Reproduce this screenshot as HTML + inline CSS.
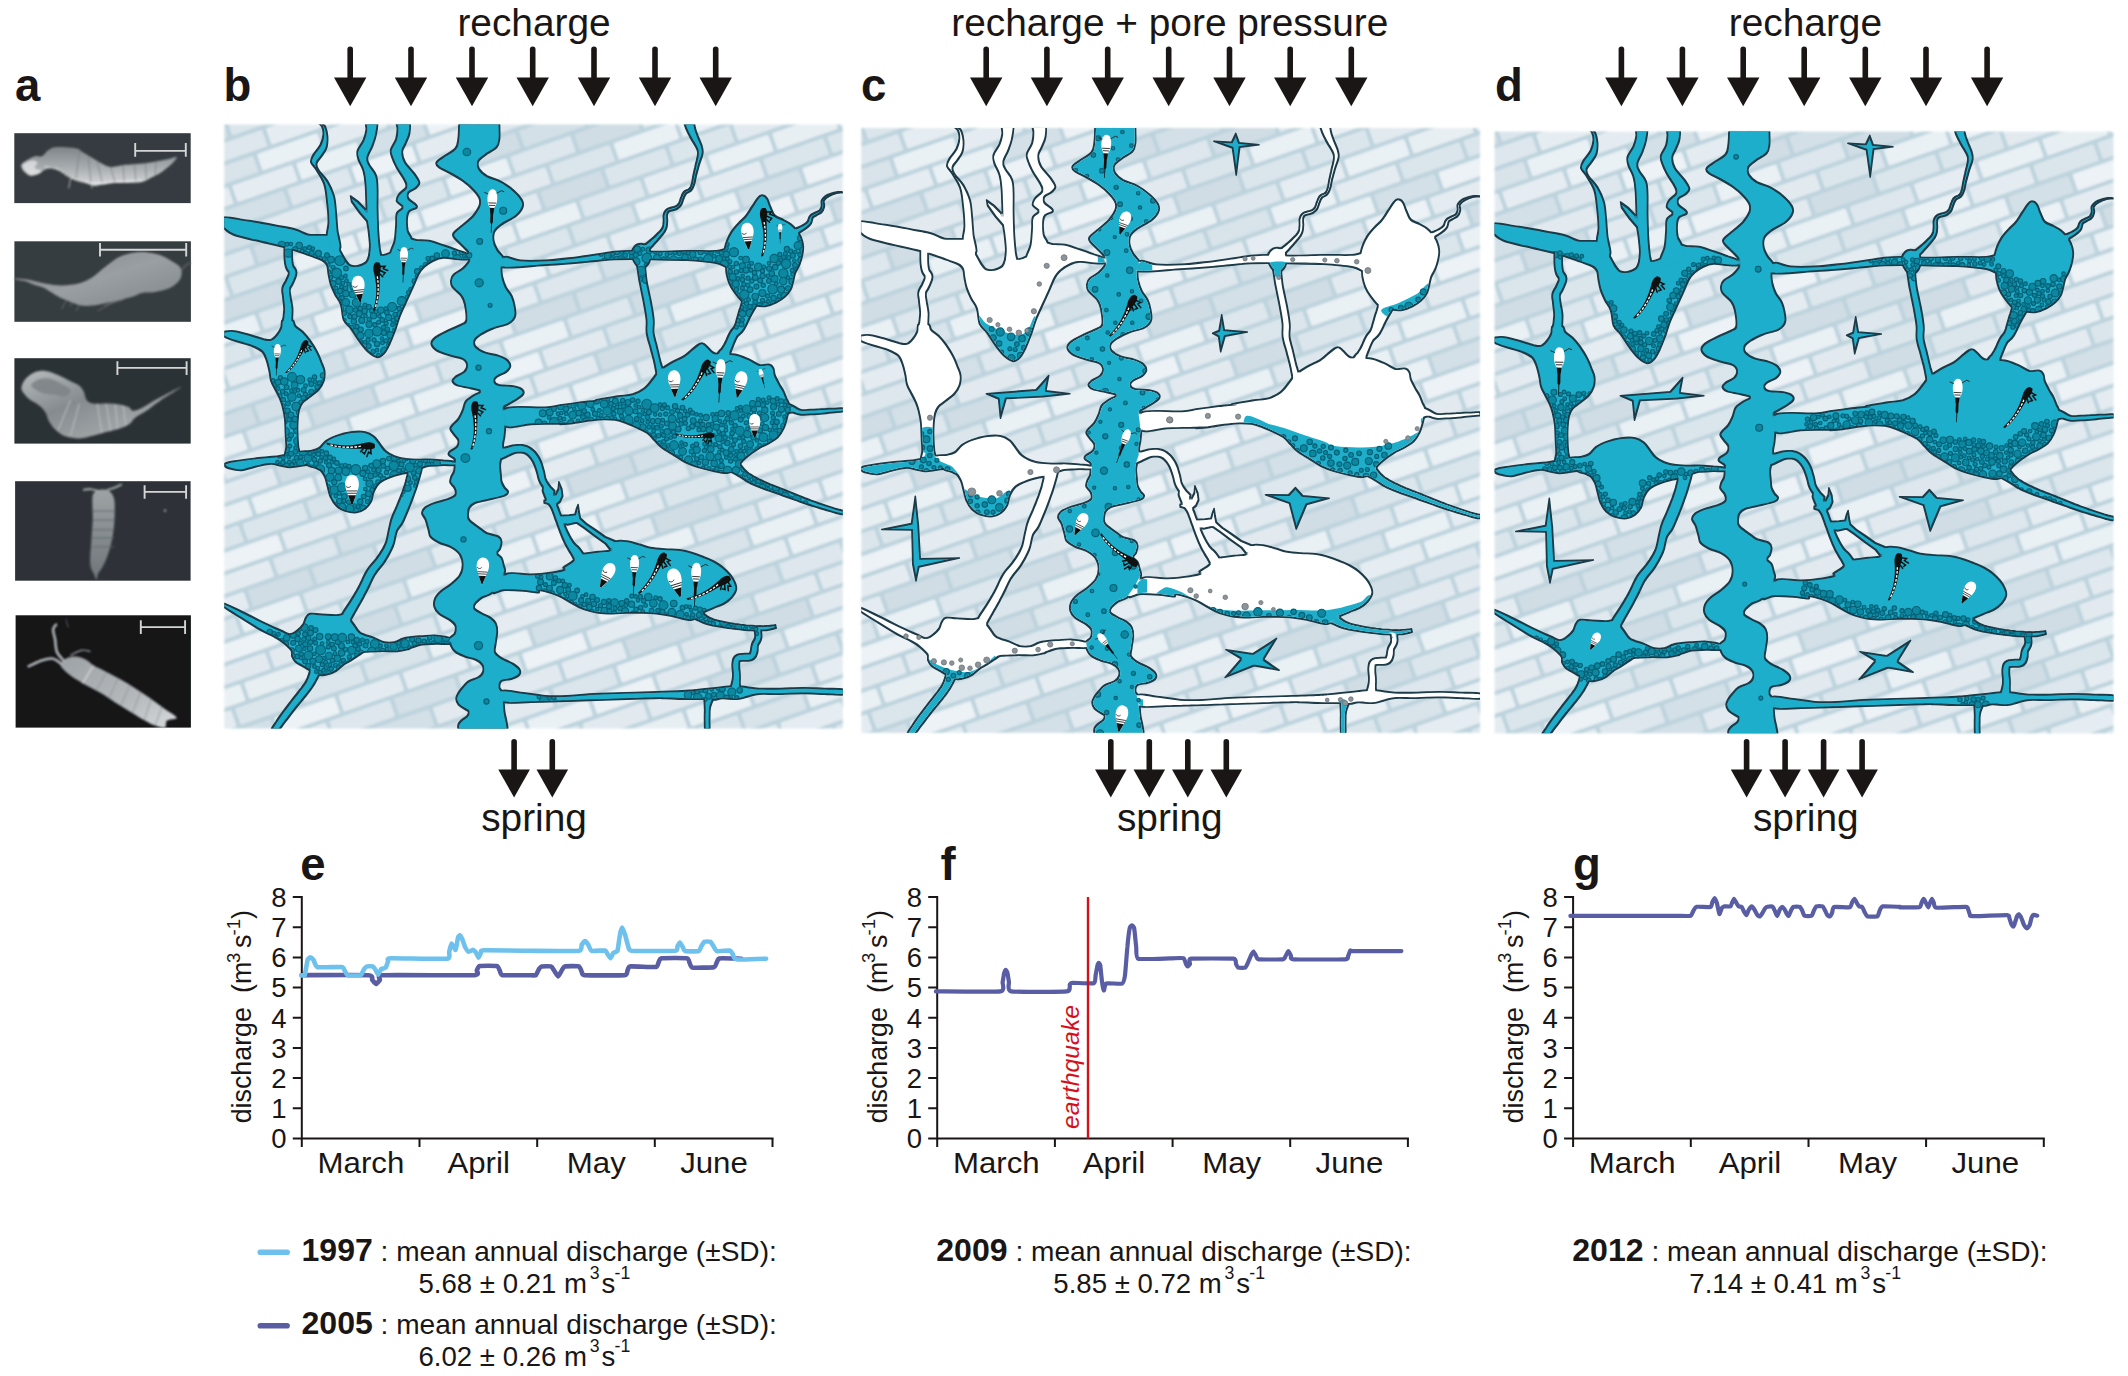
<!DOCTYPE html>
<html><head><meta charset="utf-8"><title>Figure</title>
<style>
html,body{margin:0;padding:0;background:#fff;}
body{width:2128px;height:1376px;overflow:hidden;font-family:"Liberation Sans",sans-serif;}
svg{display:block;font-family:"Liberation Sans",sans-serif;}
</style></head><body>
<svg width="2128" height="1376" viewBox="0 0 2128 1376">
<defs><filter id="sblur" x="-5%" y="-5%" width="110%" height="110%"><feGaussianBlur stdDeviation="0.9"/></filter><filter id="sblur2" x="-5%" y="-5%" width="110%" height="110%"><feGaussianBlur stdDeviation="0.5"/></filter><linearGradient id="sg1" x1="0" y1="0" x2="0" y2="1"><stop offset="0" stop-color="#7f8589"/><stop offset="0.55" stop-color="#a9aeb1"/><stop offset="1" stop-color="#d9dbdc"/></linearGradient><linearGradient id="sg2" x1="0" y1="0" x2="1" y2="1"><stop offset="0" stop-color="#7d8388"/><stop offset="0.5" stop-color="#9a9fa3"/><stop offset="1" stop-color="#80868a"/></linearGradient><linearGradient id="sg3" x1="0" y1="0" x2="1" y2="1"><stop offset="0" stop-color="#b8bcbe"/><stop offset="0.4" stop-color="#858b8f"/><stop offset="1" stop-color="#b5b9bb"/></linearGradient><linearGradient id="sg4" x1="0" y1="0" x2="0" y2="1"><stop offset="0" stop-color="#9ea3a6"/><stop offset="1" stop-color="#6f757a"/></linearGradient><linearGradient id="sg5" x1="0" y1="0" x2="1" y2="1"><stop offset="0" stop-color="#9da2a6"/><stop offset="0.6" stop-color="#b4b8bb"/><stop offset="1" stop-color="#d9dbdc"/></linearGradient></defs>
<g filter="url(#sblur2)">
<rect x="14.3" y="133.2" width="176.4" height="69.9" fill="#353b3f"/>
<g filter="url(#sblur)">
<path d="M21.4 164.3C22.3 162.6 25.4 161.2 27.6 159.8C29.9 158.5 32.4 156.8 34.8 156.2C37.2 155.7 39.8 157.1 41.9 156.2C44 155.4 45.2 152.4 47.3 150.9C49.4 149.4 51.3 147.9 54.4 147.3C57.6 146.7 62.2 147.1 66 147.3C69.9 147.5 75 147.9 77.6 148.7C80.3 149.4 80.3 150.7 82.1 151.8C83.9 152.9 86.1 154 88.4 155.4C90.6 156.7 93.3 158.5 95.5 159.8C97.7 161.2 99.2 162.2 101.8 163.4C104.3 164.6 107.3 166.7 110.7 167C114.1 167.3 118.6 165.6 122.3 165.2C126 164.7 129 164.7 133 164.3C137 163.9 141.9 163.5 146.4 162.9C150.9 162.4 156.1 161.4 159.8 160.7C163.5 160 165.9 159.5 168.7 158.9C171.5 158.3 176 156.5 176.8 157.1C177.5 157.7 174.8 160.7 173.2 162.5C171.5 164.3 169.2 166.1 166.9 167.9C164.7 169.6 162.5 171.6 159.8 173.2C157.1 174.9 153.8 176.2 150.9 177.7C147.9 179.2 145.6 181.2 141.9 182.1C138.2 183 133 182.9 128.5 183C124.1 183.2 119.6 182.7 115.1 183C110.7 183.3 105.5 184.4 101.8 184.8C98 185.3 95.8 186.2 92.8 185.7C89.8 185.3 86.9 183.2 83.9 182.1C80.9 181.1 77.5 180.5 75 179.5C72.4 178.4 70.9 177.2 68.7 175.9C66.5 174.6 64.2 172.8 61.6 171.4C58.9 170.1 55.3 168.2 52.6 167.9C50 167.6 47.7 168.8 45.5 169.6C43.3 170.5 41.6 172.2 39.2 173.2C36.9 174.3 33.4 175.9 31.2 175.9C29 175.9 27.3 174.3 25.9 173.2C24.4 172.2 23 171.1 22.3 169.6C21.5 168.2 20.5 165.9 21.4 164.3Z" fill="url(#sg1)"/>
<path d="M22.3 165.2C22.9 163.1 28.7 161.2 31.2 160.7C33.7 160.3 36.9 161.3 37.5 162.5C38.1 163.7 34 166.4 34.8 167.9C35.5 169.3 41.9 170.2 41.9 171.4C41.9 172.6 37.2 174.7 34.8 175C32.4 175.3 29.7 174.9 27.6 173.2C25.6 171.6 21.7 167.3 22.3 165.2Z" fill="#e6e7e8" opacity="0.75"/>
<path d="M79.4 150.9L75.9 178.6M88.4 156.2L91 183.9M97.3 161.6L102.6 183.9M110.7 167L115.1 183M123.2 165.2L124.1 183M134.8 164.3L135.7 182.1M145.5 162.9L146.4 179.5M156.2 161.2L155.3 175" stroke="#767c80" stroke-width="0.8" fill="none"/>
<path d="M45.5 167C47.6 167.4 53.8 167.9 58 169.6C62.2 171.4 66.2 175.6 70.5 177.7C74.8 179.8 79.4 181.2 83.9 182.1C88.4 183 92.1 183 97.3 183C102.5 183 109.2 182.5 115.1 182.1C121.1 181.8 128.5 181.1 133 180.8C137.5 180.5 140.4 180.4 141.9 180.4" stroke="#f2f2f2" stroke-width="1.6" fill="none" stroke-dasharray="2 1.5"/>
<path d="M70.5 178.6L68.7 188.4M91.9 185.7L91.9 188.4" stroke="#cfd1d2" stroke-width="0.8" fill="none"/>
</g>
<path d="M134.3 150.9H186.7M135.2 142.9V156.8M185.8 142.9V156.8" stroke="#d4d6d6" stroke-width="1.9" fill="none"/>
<rect x="14.4" y="241.3" width="176.5" height="80.5" fill="#363c40"/>
<g filter="url(#sblur)">
<path d="M14.7 278.6C16.9 278.6 22.8 278.9 27.6 279.6C32.5 280.4 38.1 282.2 43.7 283.2C49.4 284.2 55.6 285.4 61.6 285.4C67.5 285.4 74.2 284.6 79.4 283.2C84.6 281.8 89.1 279.2 92.8 277C96.5 274.7 98.8 272.2 101.8 269.8C104.7 267.4 107.7 264.8 110.7 262.7C113.7 260.5 115.9 258.5 119.6 256.9C123.3 255.2 128.5 253.6 133 252.9C137.5 252.1 141.9 252 146.4 252.4C150.9 252.8 155.6 253.7 159.8 255.1C164 256.5 168.1 259 171.4 260.9C174.7 262.8 177.7 264.3 179.4 266.2C181.1 268.2 181.5 270.4 181.7 272.5C181.8 274.6 181.3 276.8 180.3 278.8C179.4 280.7 177.8 282.5 175.9 284.1C173.9 285.7 172.1 287.2 168.7 288.6C165.3 289.9 159.8 291.4 155.3 292.1C150.9 292.9 145.6 292.3 141.9 293C138.2 293.8 136.7 295.4 133 296.6C129.3 297.8 124.1 299.1 119.6 300.2C115.1 301.2 110.7 302 106.2 302.9C101.8 303.8 97 305.1 92.8 305.5C88.7 306 84.9 306.1 81.2 305.5C77.5 304.9 74.1 303.3 70.5 302C66.9 300.6 63.1 299.1 59.8 297.5C56.5 295.9 53.5 293.8 50.9 292.1C48.2 290.5 46.4 288.9 43.7 287.7C41 286.5 37.8 286 34.8 285C31.8 284 29.2 282.4 25.9 281.4C22.5 280.5 16.6 279.7 14.7 279.2C12.8 278.7 12.5 278.5 14.7 278.6Z" fill="url(#sg2)"/>
<path d="M92.8 277.9C94.3 276.7 98.8 273.1 101.8 270.7C104.7 268.3 107.7 265.7 110.7 263.6C113.7 261.4 115.9 259.4 119.6 257.8C123.3 256.1 128.5 254.3 133 253.6C137.5 252.8 141.9 252.8 146.4 253.1C150.9 253.5 157.6 255.3 159.8 255.7" stroke="#a9adb0" stroke-width="1" fill="none"/>
<path d="M66 301.1L61.6 309.1M72.3 302.9L69.6 306.4M79.4 305.5L75.9 310.9M115.1 301.1L97.3 310.9M124.1 299.3L104.4 305.5" stroke="#6f757a" stroke-width="0.9" fill="none"/>
<path d="M181.7 270.7C182.3 269.8 184.2 266.7 185.7 265.4C187.2 264 189.8 263.1 190.6 262.7" stroke="#5a6065" stroke-width="1.5" fill="none"/>
</g>
<path d="M99.1 249.7H187.1M100 243V256.5M186.2 243V256.5" stroke="#d4d6d6" stroke-width="1.9" fill="none"/>
<rect x="14.4" y="358.2" width="176.3" height="85.4" fill="#2c3236"/>
<g filter="url(#sblur)">
<path d="M21.4 387.5C21.7 385 23.6 381.1 25.9 378.6C28.1 376 31.5 373.6 34.8 372.3C38.1 371.1 41.6 370.5 45.5 371C49.4 371.4 53.8 373.3 58 375C62.2 376.7 66.9 379.5 70.5 381.2C74.1 383 77.2 383.9 79.4 385.7C81.7 387.5 82.7 389.6 83.9 392C85.1 394.3 85.1 398.1 86.6 400C88.1 401.9 89.5 403 92.8 403.6C96.1 404.2 101.8 403.4 106.2 403.6C110.7 403.7 115.9 403.9 119.6 404.5C123.3 405.1 126.3 406.1 128.5 407.1C130.8 408.2 130.8 410.6 133 410.7C135.2 410.9 138.2 409.8 141.9 408C145.6 406.2 150.9 402.5 155.3 400C159.8 397.5 164.2 395.1 168.7 392.9C173.2 390.6 183.6 385.3 182.1 386.6C180.6 387.9 165.7 396.9 159.8 400.9C153.8 404.9 150.6 407.9 146.4 410.7C142.2 413.5 137.6 415.6 134.8 417.9C132 420.1 132 422.3 129.4 424.1C126.9 425.9 123.5 427.2 119.6 428.6C115.7 429.9 110.7 431 106.2 432.1C101.8 433.3 97.3 434.7 92.8 435.7C88.4 436.8 83.9 438.2 79.4 438.4C75 438.5 69.9 437.9 66 436.6C62.2 435.3 59 432.9 56.2 430.4C53.4 427.8 50.9 424.4 49.1 421.4C47.3 418.5 47.1 415.2 45.5 412.5C43.9 409.8 41.8 407.4 39.2 405.4C36.7 403.3 32.9 401.9 30.3 400C27.8 398.1 25.6 395.8 24.1 393.8C22.6 391.7 21.1 390 21.4 387.5Z" fill="url(#sg3)"/>
<path d="M31.2 385.7C30.6 383.5 35.4 380.7 38.4 379.5C41.3 378.3 45.2 377.8 49.1 378.6C52.9 379.3 58 382 61.6 383.9C65.1 385.9 69.9 388.1 70.5 390.2C71.1 392.3 67.8 395.7 65.1 396.4C62.5 397.2 58.3 395.2 54.4 394.6C50.6 394 45.8 394.3 41.9 392.9C38.1 391.4 31.8 387.9 31.2 385.7Z" fill="#7e8488" opacity="0.9"/>
<path d="M97.3 403.6L101.8 433M106.2 403.6L110.7 431.2M115.1 404L117.8 429M123.2 405.4L125.9 425.9M70.5 400L58 430.4M79.4 403.6L70.5 435.7" stroke="#c6c9cb" stroke-width="0.8" fill="none"/>
</g>
<path d="M116.5 367.9H187.5M117.4 361.2V375M186.6 361.2V375" stroke="#d4d6d6" stroke-width="1.9" fill="none"/>
<rect x="15.1" y="481.2" width="175.5" height="99.5" fill="#2d3337"/>
<g filter="url(#sblur)">
<path d="M92.8 495C93.6 492.5 95.4 491.4 97.3 490.5C99.2 489.6 102.2 489.3 104.4 489.6C106.7 489.9 109 490.7 110.7 492.3C112.3 494 113.6 496.5 114.2 499.5C114.9 502.4 114.7 506.2 114.7 510.2C114.7 514.2 114.6 519.1 114.2 523.6C113.9 528 113.2 532.8 112.5 537C111.7 541.1 110.8 544.9 109.8 548.6C108.7 552.3 107.6 556 106.2 559.3C104.9 562.6 103.1 565.8 101.8 568.2C100.4 570.6 99.1 571.6 98.2 573.6C97.3 575.5 97.1 579.8 96.4 579.8C95.6 579.8 94.6 575.5 93.7 573.6C92.8 571.6 91.6 570.6 91 568.2C90.4 565.8 90.1 563 90.1 559.3C90.1 555.6 90.7 550.4 91 545.9C91.3 541.4 91.6 537 91.9 532.5C92.2 528 92.7 523.6 92.8 519.1C92.9 514.6 92.4 509.7 92.4 505.7C92.4 501.7 92 497.5 92.8 495Z" fill="url(#sg4)"/>
<path d="M98.2 491C97 490.7 93.6 489.4 91 489.2C88.5 489 84.3 489.7 83 489.8M107.1 490.1C108.4 489.6 112.7 488.4 115.1 487.4C117.6 486.4 120.7 484.8 121.8 484.3" stroke="#b9bdbf" stroke-width="1.6" fill="none"/>
<path d="M92.4 511.1L114.2 511.1M92.4 520L114.2 520M92.4 529.8L114.2 529.8M92.4 537.9L114.2 537.9M92.4 546.8L114.2 546.8" stroke="#5b6166" stroke-width="0.9" fill="none"/>
<circle cx="165.1" cy="510.6" r="1.1" fill="#c0c3c5"/>
</g>
<path d="M143.7 491.9H187M144.6 485.2V498.7M186.1 485.2V498.7" stroke="#d4d6d6" stroke-width="1.9" fill="none"/>
<rect x="15.6" y="615.3" width="175.3" height="112.3" fill="#131416"/>
<g filter="url(#sblur)">
<path d="M61 663.9C61.8 662.2 64.2 659.2 66.9 658C69.5 656.7 73.4 656.2 76.7 656.5C79.9 656.8 83.5 658.4 86.5 659.9C89.4 661.5 91 663.9 94.3 665.8C97.6 667.8 101.7 669.4 106.1 671.7C110.5 674 115.9 676.8 120.8 679.5C125.7 682.3 130.6 685.3 135.5 688.4C140.4 691.5 145.3 694.7 150.2 698.2C155.1 701.6 160.5 705.7 164.9 709C169.4 712.2 176.4 715.8 176.7 717.8C177 719.8 168.9 719.1 166.9 720.7C164.9 722.4 166.9 726.8 164.9 727.6C163 728.4 158.4 726.8 155.1 725.6C151.9 724.5 149.4 723 145.3 720.7C141.2 718.5 135.5 714.9 130.6 711.9C125.7 709 120.8 706.2 115.9 703.1C111 700 106.1 696.2 101.2 693.3C96.3 690.3 90.9 687.9 86.5 685.4C82.1 683 78 680.7 74.7 678.6C71.4 676.4 69 674.5 66.9 672.7C64.7 670.9 62.9 669.2 61.9 667.8C61 666.3 60.1 665.5 61 663.9Z" fill="url(#sg5)"/>
<path d="M63.9 660.9C62.8 659.4 58.5 655.7 57 652.1C55.6 648.5 55.7 643.1 55.1 639.3C54.4 635.6 53 632 53.1 629.5C53.3 627.1 55.6 625.4 56.1 624.6M61.5 663.9C59.9 663 55.7 658.9 52.1 658.5C48.6 658 44.3 659.6 40.4 660.9C36.4 662.2 30.6 665.4 28.6 666.3" stroke="#b5b9bc" stroke-width="2.6" stroke-linecap="round" fill="none"/>
<path d="M70.8 655C72.6 654.2 78.4 650.9 81.6 650.3C84.8 649.7 88.5 651.1 89.9 651.3" stroke="#8e9397" stroke-width="1.4" stroke-linecap="round" fill="none"/>
<path d="M93.3 665.8L82.5 683.5M106.1 672.7L96.3 690.3M117.9 678.6L109 698.2M129.6 685.4L120.8 706M140.4 692.3L132.6 712.9M151.2 699.2L144.3 719.8M162 707L155.1 725.2" stroke="#868c90" stroke-width="0.8" fill="none"/>
<path d="M93.3 665.8C92.5 667.1 90.2 670.7 88.4 673.7C86.6 676.6 83.5 681.8 82.5 683.5" stroke="#e2e4e5" stroke-width="1.1" fill="none"/>
<path d="M65.9 618.7C66 619.4 66.4 621.2 66.9 622.7C67.3 624.1 68.1 626.7 68.3 627.6" stroke="#6d7276" stroke-width="1" fill="none"/>
</g>
<path d="M139.9 627.1H186M140.8 620.2V633.9M185.1 620.2V633.9" stroke="#d4d6d6" stroke-width="1.9" fill="none"/>
</g>
<defs>
<pattern id="brick" width="340" height="172" patternUnits="userSpaceOnUse" patternTransform="translate(224 118) rotate(-19.3)">
<rect width="340" height="172" fill="#bdd3dd"/>
<rect x="-66" y="2" width="64" height="17.5" rx="1.5" fill="#d0dde5"/>
<rect x="2" y="2" width="64" height="17.5" rx="1.5" fill="#dbe6ec"/>
<rect x="70" y="2" width="64" height="17.5" rx="1.5" fill="#dbe6ec"/>
<rect x="138" y="2" width="64" height="17.5" rx="1.5" fill="#e2eaf0"/>
<rect x="206" y="2" width="64" height="17.5" rx="1.5" fill="#e2eaf0"/>
<rect x="274" y="2" width="64" height="17.5" rx="1.5" fill="#d0dde5"/>
<rect x="342" y="2" width="64" height="17.5" rx="1.5" fill="#dbe6ec"/>
<rect x="-32" y="23.5" width="64" height="17.5" rx="1.5" fill="#dde7ed"/>
<rect x="36" y="23.5" width="64" height="17.5" rx="1.5" fill="#e6edf2"/>
<rect x="104" y="23.5" width="64" height="17.5" rx="1.5" fill="#eaf1f5"/>
<rect x="172" y="23.5" width="64" height="17.5" rx="1.5" fill="#e8eff3"/>
<rect x="240" y="23.5" width="64" height="17.5" rx="1.5" fill="#eaf1f5"/>
<rect x="308" y="23.5" width="64" height="17.5" rx="1.5" fill="#dde7ed"/>
<rect x="376" y="23.5" width="64" height="17.5" rx="1.5" fill="#e6edf2"/>
<rect x="-49" y="45" width="64" height="17.5" rx="1.5" fill="#d8e3ea"/>
<rect x="19" y="45" width="64" height="17.5" rx="1.5" fill="#eaf1f5"/>
<rect x="87" y="45" width="64" height="17.5" rx="1.5" fill="#e4ecf1"/>
<rect x="155" y="45" width="64" height="17.5" rx="1.5" fill="#dbe6ec"/>
<rect x="223" y="45" width="64" height="17.5" rx="1.5" fill="#dbe6ec"/>
<rect x="291" y="45" width="64" height="17.5" rx="1.5" fill="#d8e3ea"/>
<rect x="359" y="45" width="64" height="17.5" rx="1.5" fill="#eaf1f5"/>
<rect x="-15" y="66.5" width="64" height="17.5" rx="1.5" fill="#e6edf2"/>
<rect x="53" y="66.5" width="64" height="17.5" rx="1.5" fill="#eaf1f5"/>
<rect x="121" y="66.5" width="64" height="17.5" rx="1.5" fill="#d3e0e7"/>
<rect x="189" y="66.5" width="64" height="17.5" rx="1.5" fill="#ecf2f6"/>
<rect x="257" y="66.5" width="64" height="17.5" rx="1.5" fill="#e4ecf1"/>
<rect x="325" y="66.5" width="64" height="17.5" rx="1.5" fill="#e6edf2"/>
<rect x="393" y="66.5" width="64" height="17.5" rx="1.5" fill="#eaf1f5"/>
<rect x="-32" y="88" width="64" height="17.5" rx="1.5" fill="#d3e0e7"/>
<rect x="36" y="88" width="64" height="17.5" rx="1.5" fill="#dde7ed"/>
<rect x="104" y="88" width="64" height="17.5" rx="1.5" fill="#ecf2f6"/>
<rect x="172" y="88" width="64" height="17.5" rx="1.5" fill="#e4ecf1"/>
<rect x="240" y="88" width="64" height="17.5" rx="1.5" fill="#dde7ed"/>
<rect x="308" y="88" width="64" height="17.5" rx="1.5" fill="#d3e0e7"/>
<rect x="376" y="88" width="64" height="17.5" rx="1.5" fill="#dde7ed"/>
<rect x="-66" y="109.5" width="64" height="17.5" rx="1.5" fill="#d3e0e7"/>
<rect x="2" y="109.5" width="64" height="17.5" rx="1.5" fill="#e2eaf0"/>
<rect x="70" y="109.5" width="64" height="17.5" rx="1.5" fill="#e2eaf0"/>
<rect x="138" y="109.5" width="64" height="17.5" rx="1.5" fill="#e4ecf1"/>
<rect x="206" y="109.5" width="64" height="17.5" rx="1.5" fill="#d0dde5"/>
<rect x="274" y="109.5" width="64" height="17.5" rx="1.5" fill="#d3e0e7"/>
<rect x="342" y="109.5" width="64" height="17.5" rx="1.5" fill="#e2eaf0"/>
<rect x="-15" y="131" width="64" height="17.5" rx="1.5" fill="#d0dde5"/>
<rect x="53" y="131" width="64" height="17.5" rx="1.5" fill="#e2eaf0"/>
<rect x="121" y="131" width="64" height="17.5" rx="1.5" fill="#dbe6ec"/>
<rect x="189" y="131" width="64" height="17.5" rx="1.5" fill="#eaf1f5"/>
<rect x="257" y="131" width="64" height="17.5" rx="1.5" fill="#dde7ed"/>
<rect x="325" y="131" width="64" height="17.5" rx="1.5" fill="#d0dde5"/>
<rect x="393" y="131" width="64" height="17.5" rx="1.5" fill="#e2eaf0"/>
<rect x="-49" y="152.5" width="64" height="17.5" rx="1.5" fill="#dbe6ec"/>
<rect x="19" y="152.5" width="64" height="17.5" rx="1.5" fill="#eaf1f5"/>
<rect x="87" y="152.5" width="64" height="17.5" rx="1.5" fill="#eaf1f5"/>
<rect x="155" y="152.5" width="64" height="17.5" rx="1.5" fill="#ecf2f6"/>
<rect x="223" y="152.5" width="64" height="17.5" rx="1.5" fill="#e2eaf0"/>
<rect x="291" y="152.5" width="64" height="17.5" rx="1.5" fill="#dbe6ec"/>
<rect x="359" y="152.5" width="64" height="17.5" rx="1.5" fill="#eaf1f5"/>
</pattern>
<filter id="soft" x="-2%" y="-2%" width="104%" height="104%"><feGaussianBlur stdDeviation="0.9"/></filter>
<filter id="ero" filterUnits="userSpaceOnUse" x="200" y="100" width="700" height="700"><feMorphology operator="erode" radius="1.25"/></filter>
<clipPath id="clipb"><rect x="224.3" y="124.5" width="618.5" height="604"/></clipPath>
<clipPath id="clipc"><rect x="225.3" y="124" width="618.7" height="604.8"/></clipPath>
<clipPath id="clipd"><rect x="224.6" y="125.6" width="618.9" height="601.7"/></clipPath>
<g id="cav"><path d="M223.2 217.1C227.7 216.8 239.9 219.2 249.1 220.6C258.2 222 270.4 224.2 278.1 225.7C285.9 227.1 290.5 227.8 295.6 229.3C300.7 230.8 304.5 233.5 308.7 234.4C312.8 235.3 316.2 234.5 320.3 234.8C324.4 235.1 330 233.6 333.4 236.3C336.8 238.9 337.7 246 340.6 250.8C343.5 255.7 346.7 263.4 350.8 265.3C354.9 267.3 362 264.9 365.3 262.4C368.7 260 368.7 252 371.2 250.8C373.6 249.6 376.2 255.2 379.9 255.2C383.5 255.2 388.1 253.5 393 250.8C397.8 248.1 404.9 241 409 239.2C413 237.4 414.1 239.7 417.4 239.9C420.8 240.2 424.7 239.8 429.1 240.6C433.4 241.5 438.8 243.4 443.6 245C448.4 246.6 454.1 248.6 458.1 250.1C462.2 251.5 466.1 252.6 468 253.7C470 254.8 469.7 255.7 469.8 256.6C469.8 257.6 470.3 259.1 468.3 259.5C466.4 260 462.3 259.8 458.1 259.5C454 259.3 447.7 257.8 443.6 258.1C439.5 258.3 436.6 259.5 433.4 261C430.3 262.4 427.1 264.6 424.7 266.8C422.3 269 420.8 270.7 418.9 274.1C417 277.5 415.3 282.3 413.1 287.2C410.9 292 408 298.3 405.8 303.1C403.6 308 401.7 312 400 316.2C398.3 320.5 397.5 324.2 395.9 328.7C394.2 333.2 392 339.1 390.1 343.3C388.1 347.4 386.4 351.1 384.2 353.4C382.1 355.8 379.6 357.5 377 357.4C374.3 357.2 371.2 354.9 368.3 352.3C365.3 349.7 362.4 345.7 359.5 341.8C356.6 337.9 353.5 332.4 350.8 328.7C348.1 325.1 345.2 324 343.5 320C341.9 316 342.1 308.9 340.6 304.6C339.2 300.3 336.5 297.8 334.8 294.4C333.1 291 331.6 287.6 330.5 284.2C329.4 280.9 328.9 277.2 328.3 274.1C327.7 270.9 327.9 267.7 326.8 265.3C325.7 263 324.5 261.8 321.7 260.3C319 258.7 314.5 257.5 310.1 255.9C305.8 254.3 299.9 252.3 295.6 250.8C291.2 249.4 288.6 248.4 284 247.2C279.4 246 273.8 244.9 268 243.5C262.2 242.2 254.9 240.6 249.1 239.2C243.3 237.7 237.3 236.6 233.1 234.8C228.8 233 225.5 230.3 223.6 228.3C221.8 226.2 222.1 224.3 222 222.5C222 220.6 218.7 217.4 223.2 217.1Z"/><path d="M317.7 122.6C317.7 122.1 320.5 122.5 321.7 123.2C323 123.9 324.4 124.4 325.4 126.5C326.3 128.7 327.3 132.5 327.6 136C327.8 139.5 327.8 144.2 326.8 147.6C325.9 151 323.4 153.7 321.7 156.3C320 159 317.1 161.3 316.7 163.6C316.2 165.9 317 167.2 318.8 170.1C320.7 173.1 325 176.8 327.6 181C330.1 185.3 332.6 190.3 334.1 195.6C335.6 200.9 335.7 207.2 336.3 213C336.9 218.8 337 224.7 337.7 230.5C338.5 236.3 341.4 244.5 340.6 247.9C339.9 251.3 335.7 252.8 333.4 250.8C331.1 248.9 327.7 241.1 326.8 236.3C326 231.4 328.3 227.6 328.3 221.7C328.3 215.9 327.6 207.7 326.8 201.4C326.1 195.1 325.7 189.3 323.9 184C322.1 178.6 318.1 173.1 315.9 169.4C313.8 165.8 311.3 164.6 310.8 162.2C310.4 159.7 311.4 157.8 313 154.9C314.6 152 318.6 148.1 320.3 144.7C322 141.3 323 137.6 323.2 134.5C323.4 131.5 322.7 128.5 321.7 126.5C320.8 124.6 317.7 123.2 317.7 122.6Z"/><path d="M366.1 120C367.9 118.3 375.3 117.6 377 120C378.7 122.4 377 130.2 376.2 134.5C375.5 138.9 374.1 142.3 372.6 146.2C371.2 150 368 154.6 367.5 157.8C367 160.9 368.3 162.2 369.7 165.1C371.2 168 374.9 171.4 376.2 175.2C377.6 179.1 377.5 183 377.7 188.3C377.9 193.6 377.6 200.2 377.7 207.2C377.8 214.2 378.1 223.7 378.4 230.5C378.8 237.2 379.4 243.1 379.9 247.9C380.4 252.8 383 257.6 381.3 259.5C379.6 261.5 371.6 262 369.7 259.5C367.8 257.1 370 249.8 369.7 245C369.5 240.2 368.7 234.6 368.3 230.5C367.8 226.3 367.2 225.1 366.8 220.3C366.4 215.4 366.3 207.5 366.1 201.4C365.8 195.3 365.8 189 365.3 184C364.9 178.9 364.4 175 363.2 170.9C362 166.8 359.1 162.6 358.1 159.2C357.1 155.9 356.5 153.7 357.4 150.5C358.2 147.4 361.7 143.7 363.2 140.3C364.6 137 365.6 133.6 366.1 130.2C366.6 126.8 364.3 121.7 366.1 120Z"/><path d="M350.5 195.9 L358.1 201.4 L365.3 208.7 L368 214.5 L367.1 221.7 L359.5 213 L351.5 201.7Z"/><path d="M396.6 120C398.5 118.5 406.8 117.8 409 120C411.1 122.2 410.2 129.2 409.7 133.1C409.2 137 407.3 140.1 406 143.3C404.8 146.4 402.5 148.8 402.4 152C402.3 155.1 403.3 158.5 405.3 162.2C407.4 165.8 412.4 170.4 414.8 173.8C417.1 177.2 419.4 180.1 419.6 182.5C419.8 184.9 417.7 186.6 415.9 188.3C414.1 190 409.9 191 408.7 192.7C407.5 194.4 407.5 196.6 408.7 198.5C409.9 200.4 414.6 202.7 415.9 204.3C417.3 205.9 417.7 206.7 416.7 207.9C415.6 209.1 411 209.8 409.4 211.6C407.8 213.4 407.5 215.7 407.2 218.8C407 222 407.2 227.3 407.9 230.5C408.7 233.6 410.4 234.3 411.6 237.7C412.7 241.1 416.4 247.2 414.8 250.8C413.1 254.4 405.8 258.8 401.7 259.5C397.6 260.3 391.3 258.3 390.1 255.2C388.8 252 393.4 245.7 394.4 240.6C395.4 235.6 395.5 229.3 395.9 224.7C396.2 220 395.5 215.9 396.6 213C397.7 210.1 402.4 209.1 402.4 207.2C402.4 205.3 397.2 203.6 396.6 201.4C396 199.2 397.2 196.6 398.8 194.1C400.4 191.7 405.2 189.3 406 186.9C406.9 184.4 405.4 182.7 403.9 179.6C402.3 176.4 398.7 171.8 396.6 168C394.5 164.1 392.5 159.5 391.5 156.3C390.5 153.2 390.1 152 390.8 149.1C391.5 146.2 394.8 142.3 395.9 138.9C397 135.5 397.2 131.9 397.3 128.7C397.4 125.6 394.7 121.5 396.6 120Z"/><path d="M284.3 237.7 L284.3 240.6 L284.2 244.9 L284.2 249.8 L284.2 254.5 L284.3 258.3 L284.5 261 L284.8 263.1 L285.1 264.9 L285.5 266.5 L286 268.2 L286.9 270.1 L287.9 271.5 L288.5 272.4 L288.7 272.6 L288.7 272.7 L288.6 273.4 L288.2 274.7 L287.6 276.3 L286.8 278.1 L286.1 279.7 L285.5 280.9 L284.7 282.2 L283.8 283.7 L282.9 285.6 L282.2 287.8 L282 290.1 L282.1 292.2 L282.4 294.1 L282.7 295.9 L282.9 297.8 L283.1 300 L283.4 302.4 L283.7 304.8 L283.9 307 L284 309.1 L283.9 311.2 L283.6 313.6 L283.4 316 L283.1 318.1 L282.9 319.6 L282.8 320.1 L292.3 320.6 L292.4 320.4 L292.2 321.3 L282.6 320.1 L282.5 320.9 L282.3 322.2 L282.1 323.6 L281.9 324.9 L281.8 325.8 L293.4 325.8 L293.3 324.9 L293.1 323.6 L292.9 322.2 L292.7 320.9 L292.5 319.9 L282.9 318.4 L282.7 319.8 L282.7 320.4 L292.3 321.1 L292.3 320.4 L292.4 318.9 L292.5 316.8 L292.6 314.3 L292.7 311.5 L292.7 308.8 L292.4 306.2 L292 303.6 L291.6 301.2 L291.1 298.9 L290.8 296.8 L290.5 294.8 L290.2 293 L290 291.5 L290 290.3 L290.1 289.4 L290.3 288.6 L290.8 287.6 L291.6 286.4 L292.5 284.8 L293.4 283 L294.2 281.2 L295 279.3 L295.8 277.2 L296.4 275 L296.7 272.6 L296.2 270 L295.2 268.1 L294.4 266.9 L293.8 266.2 L293.5 265.4 L293.2 264.4 L292.9 263.2 L292.7 261.9 L292.5 260.3 L292.3 257.9 L292.2 254.4 L292.2 249.8 L292.2 245 L292.3 240.7 L292.3 237.8Z"/><path d="M282.5 320C284.4 318.8 290.5 319 292.7 320C294.9 321 293.9 323.9 295.6 325.8C297.3 327.8 300.4 329.2 302.8 331.6C305.3 334.1 307.7 337 310.1 340.3C312.5 343.7 315.4 348.3 317.4 352C319.3 355.6 320.5 359 321.7 362.2C323 365.3 324.3 367.7 324.7 370.9C325 374 324.9 377.9 323.9 381C323 384.2 321.1 387.1 318.8 389.8C316.5 392.4 312.8 394.9 310.1 397C307.5 399.2 304.7 400.7 302.8 402.8C301 405 300.1 407 299.2 410.1C298.4 413.3 298 417.4 297.8 421.7C297.5 426.1 297.6 432.2 297.8 436.3C297.9 440.4 298.2 443.3 298.5 446.5C298.7 449.6 301.4 453.5 299.2 455.2C297 456.9 287.6 458.1 285.4 456.6C283.2 455.2 286.1 450.3 286.1 446.5C286.1 442.6 285.6 438 285.4 433.4C285.2 428.8 285.2 423.2 284.7 418.8C284.2 414.5 283.3 410.6 282.5 407.2C281.7 403.8 280.8 401.4 279.6 398.5C278.4 395.6 276.7 392.7 275.2 389.8C273.8 386.9 271.8 384 270.9 381C269.9 378.1 270.1 375.7 269.4 372.3C268.7 368.9 267.7 364.1 266.5 360.7C265.3 357.3 264.6 354.4 262.2 352C259.7 349.6 256.1 347.9 252 346.2C247.9 344.5 241.9 343.3 237.4 341.8C233 340.3 227.6 338.8 225.1 337.4C222.6 336.1 222.6 334.8 222.6 333.8C222.6 332.8 223.1 331.8 225.1 331.3C227.1 330.9 230.5 330.4 234.5 330.9C238.5 331.4 244.2 333.2 249.1 334.5C253.9 335.9 260 338 263.6 338.9C267.2 339.7 268.7 340.3 270.9 339.6C273.1 338.9 275 336.6 276.7 334.5C278.4 332.5 280.1 329.7 281 327.3C282 324.8 280.6 321.2 282.5 320Z"/><path d="M225.1 463.2C226.8 462.4 229.3 461.8 234.5 461C239.7 460.1 249.1 458.9 256.3 458.1C263.6 457.2 273.1 456.5 278.1 455.9C283.2 455.3 283 454.9 286.9 454.4C290.7 454 295.6 453.6 301.4 453C307.2 452.4 318.4 448 321.7 450.8C325.1 453.6 323.7 467.3 321.7 469.7C319.8 472.1 313.5 466 310.1 465.3C306.7 464.7 304.8 465.7 301.4 466.1C298 466.4 293.2 467.5 289.8 467.5C286.4 467.5 284.2 466.7 281 466.1C277.9 465.5 275 463.8 270.9 463.9C266.8 464 261.2 465.7 256.3 466.8C251.5 467.9 246.4 470.1 241.8 470.4C237.2 470.7 231.7 469.3 228.7 468.5C225.8 467.7 224.7 466.5 224.1 465.6C223.5 464.7 223.3 463.9 225.1 463.2Z"/><path d="M299.2 452.6C299.7 450.1 306.8 451.6 310.1 450.8C313.4 450 316.2 449.6 318.8 447.9C321.5 446.2 323.2 442.7 326.1 440.6C329 438.6 332.2 437 336.3 435.6C340.4 434.1 346 432.5 350.8 431.9C355.7 431.3 361.5 431.2 365.3 431.9C369.2 432.6 371.6 434.3 374.1 436.3C376.5 438.2 377.9 441.1 379.9 443.5C381.8 446 383.3 448.8 385.7 450.8C388.1 452.9 391 454.6 394.4 455.9C397.8 457.2 401.8 458.2 406 458.8C410.3 459.4 416.2 459.5 420 459.5C423.8 459.6 425.1 459.1 429.1 459.2C433 459.4 439.2 459.8 443.6 460.3C448 460.7 453.3 460.9 455.2 461.7C457.2 462.6 457.2 464.7 455.2 465.3C453.3 466 448 465.2 443.6 465.3C439.2 465.5 432.7 465.6 429.1 466.1C425.4 466.6 425.2 467.2 421.8 468.3C418.4 469.3 412.3 471.6 409 472.6C405.6 473.6 404.6 473.3 401.7 474.1C398.8 474.8 395.1 475.5 391.5 477C387.9 478.4 382.8 480.4 379.9 482.8C377 485.2 375.5 488.4 374.1 491.5C372.6 494.7 372.6 498.8 371.2 501.7C369.7 504.6 367.8 507.1 365.3 509C362.9 510.8 360 512.2 356.6 512.6C353.2 513 348.4 512.2 345 511.1C341.6 510 338.7 508.3 336.3 506C333.9 503.7 331.9 500.5 330.5 497.3C329 494.2 328.5 490.5 327.6 487.2C326.6 483.8 326.1 480 324.7 477C323.2 473.9 321.7 470.9 318.8 469C315.9 467 310.5 468.1 307.2 465.3C303.9 462.6 298.7 455 299.2 452.6Z"/><path d="M410.1 461.9 L409.9 462.8 L409.6 464.1 L409.3 465.6 L408.9 467.4 L408.4 469.6 L407.8 472.2 L407.1 475.3 L406.3 478.6 L405.5 482 L404.5 485.2 L403.4 488.5 L402.2 492 L400.8 495.5 L399.5 498.9 L398.1 502.3 L396.8 505.5 L395.4 508.7 L394 511.8 L392.7 514.8 L391.7 517.5 L390.9 519.8 L390.4 521.8 L389.9 523.9 L389.4 526.1 L388.8 528.7 L388.2 531.6 L387.6 534.7 L387 537.6 L386.3 540.4 L385.4 543 L384.2 545.7 L382.8 548.4 L381.1 551.2 L379.4 553.9 L377.6 556.5 L375.8 559 L373.7 561.4 L371.5 563.9 L369.3 566.6 L367.2 569.6 L365.4 572.7 L363.8 575.8 L362.4 578.8 L361.1 581.7 L359.7 584.5 L358.2 587.4 L356.6 590.3 L354.9 593.2 L353.3 596 L351.6 598.7 L349.9 601.4 L348.2 604 L346.4 606.7 L344.7 609.2 L343.2 611.6 L341.9 613.9 L340.8 616.1 L339.9 618 L339.1 619.6 L338.6 620.7 L348.5 625.4 L349 624.2 L349.7 622.7 L350.6 621 L351.6 619 L352.6 617 L353.9 614.8 L355.3 612.2 L356.9 609.5 L358.5 606.6 L360.2 603.7 L361.8 600.8 L363.4 597.9 L364.9 594.9 L366.5 591.9 L368.1 588.8 L369.6 585.8 L371 582.8 L372.3 579.9 L373.7 577.2 L375.1 574.7 L376.8 572.3 L378.7 569.8 L380.8 567.3 L383 564.5 L385.1 561.6 L386.9 558.6 L388.7 555.6 L390.3 552.4 L391.9 549.3 L393.3 546.1 L394.4 542.7 L395.1 539.4 L395.7 536.3 L396.4 533.6 L397.1 531.3 L398.1 529.5 L399.2 528 L400.4 526.5 L401.7 524.8 L403 522.5 L404.3 519.8 L405.6 516.8 L406.9 513.6 L408.3 510.3 L409.6 506.9 L411 503.5 L412.3 499.9 L413.7 496.3 L415 492.6 L416.3 489.1 L417.4 485.5 L418.5 481.9 L419.5 478.5 L420.4 475.4 L421.1 472.7 L421.7 470.4 L422.2 468.4 L422.5 466.7 L422.7 465.4 L422.9 464.5Z"/><path d="M223.6 603.1C226.8 604 235.1 608.2 241.8 611.4C248.5 614.6 257.1 619.1 263.6 622.3C270.1 625.4 276.7 628.4 281 630.3C285.4 632.2 287.1 633.9 289.8 633.9C292.4 633.9 294.9 631.9 297 630.3C299.2 628.7 301.4 626.7 302.8 624.5C304.3 622.3 304.5 619 305.8 617.2C307 615.4 307.5 614.1 310.1 613.6C312.8 613.1 317.4 614.1 321.7 614.3C326.1 614.5 332.4 615.1 336.3 615C340.2 615 342.6 613.2 345 614C347.4 614.9 349.1 618.1 350.8 620.1C352.5 622.1 353.7 624 355.2 625.9C356.6 627.9 357.8 630.3 359.5 631.7C361.2 633.2 362.9 633.7 365.3 634.7C367.8 635.6 370.9 636.3 374.1 637.6C377.2 638.8 380.9 641.2 384.2 641.9C387.6 642.6 391.3 642.5 394.4 641.9C397.6 641.3 400.2 639.1 403.1 638.3C406 637.4 409.1 637.2 411.9 636.8C414.7 636.5 418.3 636.2 420 636.1C421.7 636 419.1 636.2 421.8 636.1C424.5 636 431.6 635.1 436.3 635.4C441.1 635.7 447.7 636.5 450.1 637.8C452.6 639.2 453.2 642.6 450.9 643.7C448.6 644.7 441.2 643.9 436.3 644.1C431.5 644.3 426.2 644.1 421.8 644.8C417.4 645.6 412.3 647.7 410.2 648.5C408 649.2 411.1 648.7 409 649.2C406.8 649.7 402.2 651 397.3 651.4C392.5 651.7 385.2 651.2 379.9 651.4C374.6 651.5 368.7 651.5 365.3 652.1C362 652.7 362 653.5 359.5 655C357.1 656.5 353.5 659.1 350.8 660.8C348.1 662.5 346 663.5 343.5 665.2C341.1 666.9 338.9 669.4 336.3 671C333.6 672.6 330.2 673.9 327.6 674.6C324.9 675.3 322.5 675.6 320.3 675.3C318.1 675.1 317.4 674.6 314.5 673.2C311.6 671.7 306 668.4 302.8 666.6C299.7 664.8 297.4 664 295.6 662.3C293.8 660.6 292.7 658.4 291.9 656.5C291.2 654.5 292.6 652.8 291.2 650.6C289.9 648.5 286.6 645.6 284 643.4C281.3 641.2 279.1 639.7 275.2 637.6C271.4 635.4 266.3 633.4 260.7 630.3C255.1 627.1 248.1 622.7 241.8 618.7C235.5 614.7 225.6 608.9 222.6 606.3C219.6 603.7 220.4 602.3 223.6 603.1Z"/><path d="M310.9 667.4 L310.3 669.3 L309.4 672 L308.4 675 L307.3 678 L306.2 680.4 L305.1 682.4 L303.8 684.3 L302.4 686.2 L301 688.1 L299.4 690.1 L297.8 692.2 L296.2 694.3 L294.4 696.5 L292.6 698.8 L290.8 701.1 L289 703.5 L287.1 706 L285.2 708.5 L283.2 711.1 L281.4 713.6 L279.5 716.3 L277.6 719 L275.8 721.8 L274.1 724.3 L272.7 726.4 L271.7 728.2 L271 729.8 L270.6 731 L270.4 731.8 L270.2 732.3 L277.4 734.7 L277.6 734 L277.8 733.3 L278 732.6 L278.4 731.7 L279.2 730.4 L280.4 728.5 L282.1 726.2 L284 723.6 L286 721 L288 718.5 L289.8 716 L291.7 713.5 L293.7 711.1 L295.6 708.6 L297.4 706.3 L299.3 704.1 L301.1 701.9 L302.8 699.7 L304.6 697.6 L306.3 695.5 L307.9 693.4 L309.4 691.5 L311 689.4 L312.5 687.2 L314.1 684.8 L315.7 682 L317.3 678.9 L318.8 675.9 L320.1 673.4 L321 671.6Z"/><path d="M683.9 122.7 L684.2 123.6 L684.6 124.9 L685.2 126.5 L685.8 128.4 L686.6 130.2 L687.4 131.9 L688.2 133.7 L689.2 135.5 L690.1 137.3 L691.1 139.1 L692.1 140.9 L693.2 142.6 L694.3 144.3 L695.2 145.9 L696 147.3 L696.6 148.6 L697.1 149.8 L697.5 150.8 L697.7 151.9 L697.8 153.2 L697.7 154.8 L697.4 156.6 L696.9 158.7 L696.4 160.9 L695.8 163.1 L695.3 165.4 L694.8 167.9 L694.2 170.3 L693.7 172.7 L693.2 174.9 L692.8 176.9 L692.5 178.8 L692.3 180.5 L692 182.1 L691.6 183.5 L691.2 184.9 L690.7 186.1 L690.2 187.1 L689.7 188 L689.1 188.7 L688.4 189.2 L687.5 189.6 L686.4 190 L685.1 190.6 L683.9 191.6 L682.9 192.8 L682.2 194.1 L681.6 195.4 L681.1 196.7 L680.6 197.9 L680.2 199.2 L679.8 200.5 L679.4 201.6 L679.1 202.6 L678.6 203.4 L678 204.1 L677.4 204.8 L676.6 205.3 L675.8 205.9 L674.9 206.3 L673.7 206.8 L672.3 207.1 L670.6 207.5 L669 207.9 L667.4 208.6 L666.2 209.5 L665.3 210.5 L664.5 211.6 L664 212.8 L663.6 214.1 L663.3 215.6 L663.3 217.3 L663.4 218.8 L663.4 220.3 L663.4 221.6 L663.2 223 L663.1 224.4 L662.9 225.7 L662.5 226.9 L662 228 L661.2 229.2 L660.2 230.5 L659 231.8 L657.6 233.1 L656.2 234.5 L654.8 235.9 L653.3 237.2 L651.8 238.6 L650.2 239.9 L648.7 241.2 L647 242.5 L645.2 243.9 L643.5 245.2 L642 246.3 L640.9 247 L646.3 253.1 L647.2 252.2 L648.5 250.8 L650 249.2 L651.6 247.5 L653.1 245.9 L654.5 244.3 L655.9 242.8 L657.3 241.2 L658.7 239.6 L660.1 238.1 L661.3 236.5 L662.6 235 L663.8 233.4 L665 231.7 L665.9 230 L666.6 228.2 L667 226.5 L667.2 224.9 L667.3 223.4 L667.4 221.9 L667.5 220.2 L667.3 218.6 L667.2 217.1 L667.2 215.8 L667.3 214.9 L667.5 214 L667.8 213.3 L668.1 212.7 L668.6 212.1 L669.2 211.6 L670.1 211.2 L671.5 210.8 L673.1 210.5 L674.7 210.1 L676.3 209.5 L677.6 208.8 L678.6 208 L679.6 207.2 L680.5 206.2 L681.3 205.2 L682 203.9 L682.4 202.6 L682.8 201.4 L683.2 200.2 L683.6 199.1 L684.1 197.9 L684.6 196.6 L685.1 195.5 L685.7 194.5 L686.2 193.8 L686.8 193.3 L687.6 192.9 L688.7 192.4 L690 191.7 L691.1 190.8 L692 189.7 L692.8 188.5 L693.4 187.2 L693.9 185.8 L694.4 184.4 L694.9 182.8 L695.2 181.1 L695.5 179.3 L695.9 177.5 L696.3 175.6 L696.9 173.5 L697.5 171.1 L698.2 168.7 L698.8 166.3 L699.5 164.1 L700.2 162 L700.9 159.9 L701.7 157.8 L702.3 155.7 L702.8 153.6 L702.9 151.7 L702.8 149.9 L702.5 148.3 L702.1 146.7 L701.7 145 L701 143.2 L700.2 141.2 L699.4 139.4 L698.6 137.5 L697.9 135.8 L697.3 134.1 L696.6 132.3 L696 130.5 L695.5 128.8 L695.1 127.3 L694.8 125.8 L694.6 124.2 L694.4 122.6 L694.2 121.3 L694 120.2Z"/><path d="M640.7 243.5C643 243.5 646.3 244.8 648 246.5C649.7 248.1 650.6 251.1 650.9 253.7C651.1 256.4 650.6 260 649.4 262.4C648.2 264.9 645.5 267.5 643.6 268.3C641.7 269 639.5 268 637.8 266.8C636.1 265.6 634.5 263.2 633.4 261C632.3 258.8 631.1 256.1 631.2 253.7C631.4 251.3 632.6 248.1 634.2 246.5C635.7 244.8 638.4 243.5 640.7 243.5Z"/><path d="M501.7 267.5C495 266.1 501.5 257.8 504.7 256.6C507.8 255.4 513.9 259.7 520.6 260.3C527.4 260.9 536.4 260.7 545.3 260.3C554.3 259.8 565.3 258.4 574.4 257.4C583.5 256.3 593.3 254.7 600 253.7C606.7 252.8 609.3 252 614.5 251.5C619.7 251.1 624.7 250.8 631.2 250.8C637.8 250.8 644.5 251.5 653.8 251.5C663.1 251.5 676.8 250.9 687.2 250.8C697.6 250.7 709.5 251.1 716.3 250.8C723.1 250.6 726 246.7 727.9 249.4C729.8 252 729.8 264.5 727.9 266.8C726 269.1 723.1 264.3 716.3 263.2C709.5 262.1 698.1 260.9 687.2 260.3C676.3 259.7 660.2 259.7 650.9 259.5C641.5 259.4 637.3 259.2 631.2 259.2C625.2 259.2 619.7 259.3 614.5 259.5C609.3 259.8 606.7 260.1 600 260.7C593.3 261.3 583.5 262.4 574.4 263.2C565.3 263.9 557.5 264.6 545.3 265.3C533.2 266.1 508.5 269 501.7 267.5Z"/><path d="M636.1 260 L636.5 262.7 L637 266.6 L637.7 271.1 L638.4 275.9 L639.1 280.5 L640 284.9 L640.9 289.4 L641.8 293.9 L642.7 298.3 L643.5 302.4 L644.2 306.3 L644.9 310.2 L645.5 313.8 L646 317.2 L646.4 320.3 L646.5 322.9 L646.4 325.3 L646.3 327.7 L646.3 330.4 L646.5 333.4 L647.1 336.4 L647.8 339.5 L648.7 342.5 L649.6 345.4 L650.4 348.3 L651.1 351.2 L652 354.2 L652.7 357.2 L653.5 360.1 L654.1 362.8 L654.7 365.4 L655.1 367.9 L655.6 370.3 L656 372.6 L656.4 374.7 L656.8 376.6 L657.3 378.4 L657.7 380 L658.1 381.2 L658.3 382.2 L666.6 379.6 L666.3 378.7 L665.9 377.4 L665.4 375.9 L664.8 374.3 L664.2 372.5 L663.6 370.6 L662.9 368.5 L662.1 366.2 L661.4 363.7 L660.6 361.2 L659.9 358.5 L659.2 355.6 L658.5 352.6 L657.8 349.6 L657.1 346.6 L656.4 343.6 L655.5 340.6 L654.8 337.7 L654.1 335 L653.7 332.5 L653.6 330.2 L653.7 328.1 L653.9 325.7 L654 322.9 L653.9 319.7 L653.5 316.2 L653 312.6 L652.4 308.9 L651.7 305 L651 301 L650.1 296.8 L649.2 292.4 L648.2 287.9 L647.3 283.5 L646.6 279.3 L646.1 274.9 L645.6 270.2 L645.2 265.7 L645 261.8 L644.7 259.1Z"/><path d="M761.9 195.1C763.5 195.1 765.6 196 767 198C768.5 199.9 769.3 203.8 770.6 206.7C772 209.6 772.8 213.2 775 215.4C777.2 217.6 781.1 218.3 783.7 219.8C786.4 221.2 788.8 222.4 791 224.1C793.2 225.8 795.1 227.8 796.8 229.9C798.5 232.1 800.1 234.5 801.2 237.2C802.3 239.9 803.1 243 803.3 245.9C803.6 248.8 803.2 251.5 802.6 254.7C802 257.8 800.9 261.7 799.7 264.8C798.5 268 796.4 270.6 795.3 273.5C794.3 276.5 793.9 279.6 793.2 282.3C792.4 284.9 792.3 287.1 791 289.5C789.7 292 787.6 294.6 785.2 296.8C782.8 299 779.6 301 776.5 302.6C773.3 304.2 769.9 305.7 766.3 306.2C762.6 306.8 758 306.2 754.7 305.8C751.3 305.5 748.1 304.8 745.9 304.1C743.8 303.3 743.5 303.1 741.6 301.2C739.6 299.2 736.4 295.3 734.3 292.4C732.2 289.5 730.5 286.9 729.2 283.7C727.9 280.6 726.9 276.7 726.3 273.5C725.7 270.4 726.1 267.5 725.6 264.8C725.1 262.2 723.6 260.2 723.4 257.6C723.2 254.9 723.8 251.7 724.4 248.8C725 245.9 725.9 243 727 240.1C728.2 237.2 729.5 234.3 731.4 231.4C733.3 228.5 736.2 225.3 738.7 222.7C741.1 220 743.8 218.1 745.9 215.4C748.1 212.7 749.8 209.6 751.7 206.7C753.7 203.8 755.9 199.9 757.6 198C759.3 196 760.3 195.1 761.9 195.1Z"/><path d="M795.8 236 L796.3 235.5 L797 234.9 L797.9 234.2 L798.8 233.5 L799.7 232.8 L800.6 232.1 L801.7 231.5 L803 230.7 L804.2 229.9 L805.4 229.1 L806.6 228.2 L807.7 227.3 L808.9 226.3 L810 225.2 L811 223.9 L811.7 222.4 L812.1 220.9 L812.4 219.6 L812.6 218.6 L812.9 218 L813.3 217.5 L813.9 217 L814.6 216.6 L815.6 216 L816.5 215.5 L817.5 214.9 L818.5 214.4 L819.7 213.8 L820.9 213.1 L821.9 212.1 L822.8 211 L823.4 209.8 L823.8 208.6 L824.2 207.4 L824.4 206.1 L824.4 204.8 L824.2 203.6 L824 202.6 L823.8 201.9 L823.9 201.3 L824.2 200.6 L824.8 199.8 L825.5 199 L826.3 198.2 L827.2 197.5 L828.3 196.8 L829.5 196.1 L830.8 195.5 L832.2 194.9 L833.4 194.4 L834.6 194 L835.7 193.6 L836.8 193.3 L837.9 193.1 L839 192.9 L840.2 192.8 L841.4 192.7 L842.7 192.7 L843.7 192.7 L844.5 192.7 L844.5 192.2 L843.8 192.1 L842.7 191.9 L841.5 191.8 L840.2 191.7 L838.9 191.7 L837.7 191.8 L836.5 192 L835.3 192.2 L834.1 192.4 L832.9 192.8 L831.5 193.2 L830.1 193.7 L828.6 194.2 L827.2 194.8 L825.9 195.5 L824.8 196.3 L823.8 197.2 L822.8 198.2 L822.1 199.3 L821.4 200.5 L821.2 201.8 L821.3 203.1 L821.5 204.1 L821.6 205 L821.5 205.8 L821.3 206.6 L821 207.6 L820.6 208.5 L820.1 209.3 L819.6 210 L819 210.4 L818.1 210.9 L817.1 211.4 L815.9 211.9 L814.9 212.4 L813.9 212.9 L812.9 213.4 L811.9 214 L810.8 214.7 L809.8 215.8 L809 217.1 L808.5 218.5 L808.2 219.8 L807.8 220.7 L807.3 221.5 L806.7 222.1 L805.9 222.9 L804.9 223.6 L803.8 224.3 L802.7 225 L801.6 225.6 L800.5 226.1 L799.3 226.6 L798 227.2 L796.8 227.7 L795.7 228.2 L794.5 228.7 L793.5 229.1 L792.6 229.5 L792 229.7Z"/><path d="M743 297.9 L742.5 299.5 L741.8 301.8 L741 304.5 L740.1 307.4 L739.1 310.3 L738.2 313.4 L737.3 316.7 L736.4 319.8 L735.6 322.7 L734.8 324.8 L734.2 326.2 L733.5 327.2 L732.5 328.4 L731.2 330 L729.9 332 L728.7 334.2 L727.7 336.4 L726.8 338.6 L725.9 340.7 L724.9 342.7 L723.9 344.6 L722.6 346.6 L721.4 348.6 L720.2 350.6 L719.1 352.6 L718.2 354.7 L717.5 356.7 L716.9 358.5 L716.4 360 L716.1 361 L727.2 364.4 L727.5 363.3 L727.9 361.8 L728.3 360.2 L728.8 358.5 L729.4 356.8 L729.9 355 L730.6 353 L731.4 350.8 L732.2 348.6 L733.1 346.4 L734 344.2 L734.9 342 L735.8 340 L736.7 338.2 L737.5 336.7 L738.3 335.8 L739.3 335 L740.6 333.8 L742.3 332.1 L744 329.8 L745.6 327 L747.1 324 L748.5 320.8 L749.9 317.9 L751.3 315.3 L752.6 312.8 L754.1 310.3 L755.5 307.9 L756.7 305.9 L757.6 304.4Z"/><path d="M504.7 408.4C511.2 405.1 536.1 407.8 545.3 407.2C554.6 406.7 553.8 405.9 559.9 405C565.9 404.2 575 403 581.7 402.1C588.4 401.3 597.6 400.3 600 399.9C602.4 399.5 593.3 400.4 596.3 399.8C599.4 399.1 612.1 397.1 618.1 396.1C624.2 395.2 628.3 395.3 632.7 394C637 392.6 640.9 390.8 644.3 388.1C647.7 385.5 650.6 380.9 653 378C655.4 375.1 655.9 373.2 658.8 370.7C661.7 368.2 666.3 365.1 670.5 362.7C674.6 360.3 680.2 358.2 683.5 356.2C686.9 354.1 688.4 352.3 690.8 350.3C693.2 348.4 696.1 345.7 698.1 344.5C700 343.3 701 342.8 702.4 343.1C703.9 343.3 705.1 344.5 706.8 346C708.5 347.4 710.9 350.6 712.6 351.8C714.3 353 715.5 353.7 717 353.3C718.4 352.8 719.6 348.9 721.3 348.9C723 348.9 724.5 352.3 727.2 353.3C729.8 354.2 733.7 353.7 737.3 354.7C741 355.7 745.2 357.4 749 359.1C752.7 360.8 756.6 364 760 364.9C763.4 365.7 766.9 363.7 769.2 364.2C771.4 364.6 772.6 366 773.5 367.8C774.5 369.6 774 372.4 775 375.1C776 377.7 777.9 381.1 779.4 383.8C780.8 386.4 782.5 388.6 783.7 391C784.9 393.5 785.7 395.9 786.6 398.3C787.6 400.7 789.4 402.4 789.5 405.6C789.7 408.7 788.3 413.3 787.4 417.2C786.4 421.1 785.3 425.4 783.7 428.8C782.1 432.2 780.3 435.1 777.9 437.6C775.5 440 772.1 441.7 769.2 443.4C766.3 445.1 763.4 446 760.5 447.7C757.6 449.4 754.7 451.4 751.7 453.5C748.8 455.7 745.7 458.1 743 460.8C740.4 463.5 738.4 467.5 735.8 469.5C733.1 471.6 730.9 472.9 727 473.2C723.2 473.4 717.3 472 712.5 471C707.7 470 702.6 468.8 698 467.4C693.4 465.9 689 464.3 684.9 462.3C680.8 460.2 677.1 457.4 673.3 455C669.4 452.6 664.8 450.2 661.6 447.7C658.5 445.3 656.8 442.9 654.4 440.5C652 438 650.3 435.4 647.2 433.2C644.1 431 639.2 429.1 635.6 427.4C631.9 425.7 628.8 424.2 625.4 423C622 421.8 618.9 420.7 615.2 420.1C611.6 419.5 608 419.3 603.6 419.4C599.2 419.5 593.9 420.2 589.1 420.8C584.2 421.4 579.4 422.4 574.5 423C569.7 423.6 560 424.4 560 424.5C560 424.5 575.6 423.3 574.4 423.2C573.2 423.1 559.9 423.7 552.6 423.9C545.3 424.1 538.6 423.9 530.8 424.4C523 424.8 510.2 429.5 505.8 426.8C501.5 424.2 498.1 411.6 504.7 408.4Z"/><path d="M784.8 415 L785.8 414.7 L787.2 414.1 L788.7 413.5 L790.2 413 L791.5 412.7 L792.7 412.8 L794.2 413.2 L796 413.9 L798.2 414.5 L800.9 414.9 L803.9 414.9 L807.2 414.8 L810.7 414.6 L814.1 414.4 L817.3 414.2 L820.3 413.9 L823.3 413.7 L826.2 413.4 L829.1 413.1 L831.8 412.8 L834.7 412.6 L837.7 412.3 L840.5 412.1 L842.9 411.8 L844.6 411.7 L844.3 407.9 L842.6 408 L840.2 408.1 L837.4 408.2 L834.4 408.4 L831.5 408.5 L828.7 408.6 L825.9 408.8 L823 408.9 L820 409.1 L817 409.2 L813.8 409.4 L810.4 409.6 L807 409.8 L803.9 409.9 L801.4 409.7 L799.6 409.2 L798.2 408.5 L796.8 407.7 L795.2 406.7 L793.4 405.7 L791.4 404.8 L789.5 403.9 L787.8 403.1 L786.5 402.4 L785.6 402Z"/><path d="M730.1 471.6 L731.4 472.4 L733.4 473.4 L735.8 474.7 L738.2 476.1 L740.4 477.4 L742.2 478.5 L743.9 479.6 L745.6 480.8 L747.6 482 L749.9 483.2 L752.6 484.5 L755.6 485.8 L758.7 487.1 L761.9 488.3 L765 489.5 L768 490.6 L770.9 491.6 L773.9 492.6 L776.8 493.6 L779.7 494.6 L782.6 495.7 L785.5 496.7 L788.5 497.8 L791.4 498.8 L794.3 499.9 L797.3 500.9 L800.2 502 L803.1 503 L806.1 504 L809 505 L812 506 L814.9 506.9 L817.9 507.8 L820.8 508.7 L823.7 509.5 L826.8 510.5 L830 511.4 L833.2 512.4 L836 513.2 L838.4 513.8 L840.3 514.2 L841.8 514.4 L842.9 514.5 L843.7 514.5 L844.3 514.6 L844.7 510.5 L844 510.4 L843.3 510.4 L842.4 510.2 L841.2 510 L839.5 509.6 L837.2 508.9 L834.4 508.1 L831.3 507.1 L828.1 506.1 L825.1 505.1 L822.2 504.1 L819.4 503.2 L816.5 502.1 L813.6 501.1 L810.7 500.1 L807.9 499 L805 497.9 L802.1 496.7 L799.3 495.6 L796.4 494.4 L793.5 493.3 L790.6 492.1 L787.7 491 L784.8 489.8 L781.9 488.6 L779 487.5 L776.1 486.4 L773.2 485.3 L770.4 484.2 L767.6 483 L764.7 481.7 L761.7 480.3 L758.7 478.9 L756 477.5 L753.6 476.2 L751.7 475 L750.1 474 L748.6 473 L747.2 471.8 L745.7 470.4 L744.1 468.7 L742.5 466.8 L740.9 464.7 L739.5 462.9 L738.5 461.7Z"/><path d="M495.9 460.8 L496.8 460.6 L498 460.2 L499.6 459.8 L501.5 459.2 L503.5 458.5 L505.7 457.5 L508 456.3 L510.3 455.2 L512.4 454.2 L514.3 453.5 L516.1 453.1 L518 452.8 L519.7 452.7 L521.3 452.8 L522.7 453 L523.9 453.3 L525 453.7 L526 454.3 L527.1 455 L528.1 455.9 L529.1 457 L530.2 458.2 L531.2 459.7 L532.2 461.2 L533.1 462.8 L533.9 464.4 L534.6 466.3 L535.3 468.3 L536 470.3 L536.6 472.2 L537.1 473.9 L537.5 475.6 L537.9 477.4 L538.4 479.3 L539.1 481.2 L539.9 483 L540.9 484.7 L541.9 486.3 L542.9 487.8 L544 489.3 L545.5 491 L547.1 492.8 L548.6 494.3 L549.6 495.4 L552 490.3 L554.1 490.5 L552.6 489.1 L550.6 487.4 L548.5 485.8 L543.2 486.2 L542.3 490.6 L543 493 L544 495.6 L545.1 498.2 L546.2 500.5 L547.2 502.5 L548.4 504.3 L549.5 505.9 L550.5 507.4 L551.4 509.1 L552.2 511 L553 513.2 L553.9 515.5 L554.7 518 L555.6 520.5 L556.6 523 L557.5 525.7 L558.5 528.4 L559.5 531.2 L560.5 533.8 L561.6 536.4 L562.6 538.9 L563.8 541.4 L564.9 543.9 L566.1 546.2 L567.4 548.5 L568.6 550.6 L569.8 552.5 L570.9 554.2 L571.8 555.8 L572.7 557.5 L573.8 559.4 L574.8 561.4 L575.7 563 L576.4 564.3 L586.5 558.5 L585.8 557.4 L584.8 555.7 L583.7 553.7 L582.3 551.6 L580.9 549.6 L579.4 547.7 L577.8 546.1 L576.2 544.7 L574.8 543.2 L573.5 541.7 L572.3 539.8 L571 537.7 L569.8 535.5 L568.6 533.2 L567.4 530.8 L566.3 528.4 L565.2 525.8 L564.2 523.2 L563.2 520.6 L562.2 518 L561.3 515.6 L560.4 513.2 L559.5 510.8 L558.7 508.4 L557.7 506.1 L556.6 504 L555.5 502.1 L554.4 500.4 L553.5 498.9 L552.7 497.3 L551.8 495.2 L550.8 492.8 L549.9 490.6 L549.4 489.1 L548.4 491.3 L544.9 492.1 L546.2 493 L548 494.5 L549.7 495.9 L553.2 497.1 L554.9 490.9 L553.7 489.6 L552.2 488 L550.7 486.4 L549.6 485 L548.7 483.8 L547.8 482.4 L547 481.1 L546.4 479.8 L545.8 478.5 L545.4 477.2 L545.1 475.8 L544.8 474.1 L544.4 472.2 L543.9 470.1 L543.3 468.1 L542.7 465.9 L542 463.6 L541.2 461.4 L540.2 459.2 L539.1 457.1 L537.9 455.2 L536.5 453.3 L535.1 451.6 L533.5 450.1 L531.9 448.7 L530.3 447.6 L528.5 446.6 L526.5 445.7 L524.4 445.2 L522.1 444.8 L519.8 444.7 L517.4 444.7 L515 444.9 L512.4 445.3 L509.7 445.9 L507 446.7 L504.3 447.5 L502 448.3 L500 448.9 L498.3 449.4 L496.7 449.9 L495.3 450.4 L494 450.7 L493.1 451Z"/><path d="M548.7 493.8 L555.3 494.5 L558.2 488.7 L558.9 481.7 L561.8 488.7 L562.8 496.3 L560.3 501.8 L556 505.4 L550.9 501.8Z"/><path d="M544.1 500.3 L550.2 498.6 L554.5 504 L548.7 504.4 L544.1 503Z"/><path d="M560.3 515.6 L569.1 514.9 L574.9 514.2 L576.3 509.1 L578.1 504.4 L579.2 512 L580.4 518.1 L586.5 523.6 L595.2 529.4 L605.4 536.7 L615.6 541 L621.4 548.3 L609.8 549.5 L605.4 544 L595.2 536.7 L583.6 528 L576.3 522.9 L567.6 525.1 L561.8 523.6Z"/><path d="M505.4 574C511.7 571 522.9 574.6 530.8 574.3C538.7 574 547 573 552.6 572.2C558.2 571.4 562.5 570.4 564.2 569.5C566 568.7 562 568.6 563.3 567.2C564.5 565.9 569.6 563.3 572 561.4C574.4 559.5 575.9 556.9 577.8 555.6C579.7 554.2 580.2 554.1 583.6 553.4C587 552.7 593.7 552.1 598.1 551.5C602.6 550.9 607.6 551.5 610.5 549.8C613.4 548.1 612.8 542.8 615.6 541.3C618.4 539.9 623.3 540.6 627.2 541C631.1 541.5 635 542.9 638.8 544C642.7 545 646.1 546.7 650.5 547.6C654.8 548.4 660.2 548.7 665 549C669.8 549.4 674.9 549.2 679.5 549.8C684.1 550.4 688.5 551.5 692.6 552.7C696.7 553.9 700.6 555.6 704.2 557C707.9 558.5 711.3 559.7 714.4 561.4C717.6 563.1 720.5 565 723.1 567.2C725.8 569.4 728.3 571.8 730.4 574.5C732.5 577.1 734.5 580.5 735.5 583.2C736.5 585.9 736.8 588 736.2 590.5C735.6 592.9 733.8 595.6 731.9 597.7C729.9 599.9 727.5 601.9 724.6 603.5C721.7 605.2 717.6 606.6 714.4 607.9C711.3 609.2 708.1 610.5 705.7 611.5C703.3 612.6 702.3 613 699.9 614.4C697.5 615.9 696 620 691.2 620.3C686.3 620.5 676.6 617 670.8 615.9C665 614.8 661.1 614.2 656.3 613.7C651.4 613.2 646.6 613.1 641.7 613C636.9 612.9 632.1 612.9 627.2 613C622.4 613.1 617.5 613.7 612.7 613.7C607.8 613.7 603 613.7 598.1 613C593.3 612.3 588 610.9 583.6 609.4C579.2 607.8 575.6 605.5 572 603.5C568.3 601.6 565.2 599.4 561.8 597.7C558.4 596 555.3 594.6 551.6 593.4C548 592.2 542.3 590.6 540 590.5C537.7 590.4 540.8 592.7 538.1 592.8C535.3 592.9 529.1 591.5 523.5 591C518 590.6 509.7 590 504.7 590.3C499.6 590.6 492.9 595.5 493 592.8C493.1 590.1 499.1 577.1 505.4 574Z"/><path d="M695.3 619.3 L696.6 620 L698.6 620.9 L701.1 622 L703.9 623.2 L706.8 624.2 L709.8 625 L712.8 625.7 L716 626.3 L719.1 626.8 L722.1 627.3 L725.1 627.8 L728.1 628.2 L731 628.6 L734 628.9 L736.9 629.3 L739.8 629.6 L742.7 629.9 L745.7 630.2 L748.6 630.4 L751.6 630.6 L754.7 630.7 L757.8 630.7 L760.8 630.7 L763.8 630.6 L766.5 630.4 L769 630.1 L771.3 629.6 L773.4 629 L775 628.5 L776.2 628.2 L775.5 624.8 L774.3 625 L772.6 625.2 L770.6 625.4 L768.4 625.7 L766.1 625.8 L763.6 625.9 L760.8 625.9 L757.8 625.9 L754.8 625.8 L751.9 625.6 L749 625.4 L746.2 625.2 L743.3 624.8 L740.4 624.5 L737.5 624.1 L734.6 623.7 L731.8 623.2 L728.9 622.8 L726.1 622.2 L723.2 621.6 L720.3 620.9 L717.3 620.2 L714.4 619.4 L711.8 618.4 L709.5 617.5 L707.4 616.2 L705.4 614.7 L703.6 613.2 L701.9 611.8 L700.7 610.7Z"/><path d="M754 627 L754.2 628.5 L754.5 630.8 L754.8 633.2 L755 635.5 L755 637.1 L754.7 638.1 L754.2 639.2 L753.5 640.4 L752.6 641.9 L751.8 643.8 L751.3 645.8 L751 647.6 L750.8 649.1 L750.7 650.2 L750.4 651.1 L750.1 652.1 L749.8 652.9 L749.6 653.3 L749.5 653.4 L749.5 653.4 L749.1 653.5 L747.9 653.6 L746.3 653.6 L744.5 653.6 L742.7 653.7 L741.4 653.8 L740 653.9 L738.4 654.1 L736.5 654.8 L734.6 656.1 L733.3 658 L732.7 659.8 L732.4 661.6 L732.2 663.3 L732.1 665.1 L732.2 667.2 L732.4 669.4 L732.6 671.6 L732.8 673.6 L732.8 675.4 L732.7 677 L732.5 678.7 L732.2 680.3 L731.8 682 L731.4 683.6 L730.9 685.3 L730.2 686.9 L729.5 688.4 L728.9 689.7 L728.5 690.7 L741.5 692 L741.3 691 L741 689.6 L740.6 688 L740.3 686.2 L740.1 684.5 L740 682.9 L740 681.2 L740.1 679.3 L740.1 677.4 L740.1 675.3 L740 673.1 L739.8 670.8 L739.5 668.7 L739.4 666.8 L739.4 665.2 L739.5 663.8 L739.6 662.5 L739.7 661.6 L739.9 661.1 L739.8 661.1 L739.7 661.3 L739.9 661.3 L740.7 661.2 L741.9 661.1 L743.3 660.9 L744.7 660.9 L746.3 660.9 L748.2 660.9 L750.3 660.7 L752.5 660.1 L754.4 658.8 L755.7 657.3 L756.5 655.8 L757 654.5 L757.4 653 L757.8 651.4 L757.9 649.7 L757.9 648.2 L758 646.9 L758.1 645.8 L758.5 644.9 L759.2 643.8 L760.1 642.3 L761 640.4 L761.6 638 L761.7 635.3 L761.5 632.5 L761.1 629.9 L760.8 627.6 L760.6 626.1Z"/><path d="M501.7 690.6C505 689 516.3 691.9 523.5 692.8C530.8 693.6 538.1 695.2 545.3 695.7C552.6 696.2 558 696.1 567.2 695.7C576.3 695.3 582.6 694.2 600 693.5C617.4 692.8 656.2 691.9 671.8 691.3C687.4 690.7 686.3 690.5 693.6 689.9C700.9 689.3 709.6 688.3 715.4 687.7C721.2 687.1 724.1 686.5 728.5 686.2C732.8 686 736.5 685.9 741.6 686.2C746.7 686.6 752.5 688.1 759 688.4C765.6 688.8 773.5 688.6 780.8 688.4C788.1 688.3 795.3 687.7 802.6 687.7C809.9 687.7 817.5 688.2 824.4 688.4C831.3 688.7 840.6 688.6 844 689.2C847.5 689.8 845.3 691.1 845.3 692.1C845.3 693 847.5 694.6 844 695C840.6 695.3 831.3 694.5 824.4 694.2C817.5 694 809.9 693.5 802.6 693.5C795.3 693.5 788.1 694.1 780.8 694.2C773.5 694.4 764.3 693.9 759 694.2C753.7 694.6 752.5 695.6 748.8 696.4C745.2 697.3 741.6 699 737.2 699.3C732.8 699.7 726.6 698.5 722.7 698.6C718.8 698.7 717.1 699.9 714 700.1C710.8 700.2 708.4 699.5 703.8 699.3C699.2 699.2 692.9 699.5 686.3 699.3C679.8 699.2 670.6 698.7 664.5 698.6C658.5 698.5 667.4 698.1 650 698.6C632.6 699.1 579.7 700.9 559.9 701.5C540 702.1 540.1 702.1 530.8 702.2C521.5 702.4 508.8 704.2 503.9 702.2C499.1 700.3 498.5 692.2 501.7 690.6Z"/><path d="M703.8 696.4 L704 697.7 L704.1 699.7 L704.3 702.1 L704.4 704.6 L704.5 707.1 L704.6 709.4 L704.6 711.7 L704.5 714 L704.5 716.4 L704.5 718.9 L704.5 721.9 L704.6 725.3 L704.6 728.6 L704.6 731.5 L704.7 733.5 L709.9 733.5 L709.9 731.4 L709.8 728.5 L709.8 725.2 L709.7 721.9 L709.7 719 L709.8 716.4 L709.8 714.1 L709.8 711.8 L710 709.6 L710.3 707.6 L710.9 705.4 L711.7 703.2 L712.6 701.1 L713.3 699.3 L713.9 697.9Z"/></g>
<path id="mainb" d="M458.9 98.2C452.1 100.9 458.9 109.6 458.9 114.2C458.9 118.8 459 121.7 458.9 125.8C458.7 129.9 458.7 135.1 458.1 138.9C457.5 142.7 457.7 145.4 455.2 148.3C452.8 151.2 446.8 154 443.6 156.3C440.5 158.6 437.2 160.3 436.3 162.2C435.5 164 436.3 165.4 438.5 167.2C440.7 169.1 445.4 170.8 449.4 173.1C453.4 175.4 458.6 178.3 462.5 181C466.4 183.8 469.9 186.9 472.7 189.8C475.5 192.7 478.1 195.8 479.2 198.5C480.3 201.2 480.3 202.8 479.2 205.8C478.1 208.7 475.7 212.5 472.7 215.9C469.6 219.3 464.3 223.2 461 226.1C457.8 229 454.1 231.3 453.1 233.4C452 235.4 452.9 236.3 454.5 238.5C456.1 240.6 460.2 244 462.5 246.5C464.8 248.9 467.2 250.7 468.3 253C469.4 255.3 470 257.7 469 260.3C468.1 262.8 465 266 462.5 268.3C460 270.6 455.7 272.1 453.8 274.1C451.8 276 451.1 277.7 450.9 279.9C450.6 282.1 450.6 284.5 452.3 287.2C454 289.8 459 293 461 295.9C463.1 298.8 463.8 300.6 464.7 304.6C465.5 308.6 466.7 316.7 466.1 320C465.5 323.3 464.1 322.7 461 324.4C458 326.1 452.3 328 448 330.2C443.6 332.4 437.7 335.1 434.9 337.4C432.1 339.7 431 341.8 431.2 344C431.5 346.2 433.3 348.6 436.3 350.5C439.4 352.5 445.1 354.2 449.4 355.6C453.8 357.1 459.6 357.7 462.5 359.2C465.4 360.8 466.6 363 466.9 365.1C467.1 367.1 465.9 369.7 464 371.6C462 373.5 457.2 375.1 455.2 376.7C453.3 378.3 452.1 379.6 452.3 381C452.6 382.5 453.8 384.2 456.7 385.4C459.6 386.6 465.9 387.3 469.8 388.3C473.6 389.3 479.5 390 479.9 391.2C480.4 392.4 475.1 393.9 472.7 395.6C470.3 397.3 467.1 399 465.4 401.4C463.7 403.8 463.7 407.2 462.5 410.1C461.3 413 459.8 416.4 458.1 418.8C456.4 421.3 453.7 423 452.3 424.7C451 426.3 449.9 427.3 450.1 429C450.4 430.7 452.4 432.9 453.8 434.8C455.1 436.8 457.7 438.7 458.1 440.6C458.6 442.6 458.1 444.6 456.7 446.5C455.2 448.3 450.8 450.1 449.4 451.5C448.1 453 447.8 453.8 448.7 455.2C449.5 456.5 453.5 457.8 454.5 459.5C455.5 461.2 454.6 463.4 454.5 465.3C454.4 467.3 454.4 469.2 453.8 471.2C453.2 473.1 451.5 475 450.9 477C450.3 478.9 449.5 480.9 450.1 482.8C450.8 484.7 453.7 486.7 454.5 488.6C455.4 490.5 456.3 492.7 455.2 494.4C454.1 496.1 451.6 497.3 448 498.8C444.3 500.2 437.3 501.7 433.4 503.1C429.6 504.6 426.6 505.8 424.7 507.5C422.8 509.2 421.7 511.2 421.8 513.3C421.9 515.4 424.3 517.2 425.4 520C426.5 522.8 427.5 527.1 428.3 530C429.2 532.9 428.7 535.1 430.5 537.3C432.3 539.4 435.9 541.4 439.2 543.1C442.6 544.8 447.5 545.5 450.9 547.4C454.3 549.4 457.7 551.8 459.6 554.7C461.5 557.6 462.5 561.5 462.5 564.9C462.5 568.3 461.5 571.9 459.6 575.1C457.7 578.2 454 581.1 450.9 583.8C447.7 586.4 443.4 588.6 440.7 591C438 593.5 436 595.6 434.9 598.3C433.8 601 433.4 604.4 434.2 607C434.9 609.7 436.7 612.1 439.2 614.3C441.8 616.5 446.8 618.2 449.4 620.1C452.1 622.1 454.4 623.8 455.2 625.9C456.1 628.1 455.5 631.1 454.5 633.2C453.5 635.3 450 636.1 449.4 638.3C448.8 640.5 449.9 644 450.9 646.3C451.8 648.6 453.1 650.4 455.2 652.1C457.4 653.8 460.6 655.1 464 656.5C467.3 657.8 472.6 658.6 475.6 660.1C478.6 661.5 480.9 663.2 482.1 665.2C483.3 667.1 483.5 669.8 482.8 671.7C482.2 673.7 480.9 675.2 478.5 676.8C476.1 678.4 471 679.5 468.3 681.2C465.6 682.9 464.2 685 462.5 687C460.8 688.9 459.2 690.9 458.1 692.8C457 694.7 456 696.7 456 698.6C456 700.5 456.8 702.7 458.1 704.4C459.5 706.1 462.3 707.6 464 708.8C465.6 710 467.8 710.5 468.3 711.7C468.8 712.9 468.1 714.6 466.9 716C465.6 717.5 462.5 719 461 720.4C459.6 721.9 458.6 722.6 458.1 724.8C457.7 726.9 458.1 728.4 458.1 733.5C458.1 738.6 449.8 751.7 458.1 755.3C466.5 758.9 499.9 758.9 508.3 755.3C516.6 751.7 508.5 739.1 508.3 733.5C508 727.9 507.4 725.5 506.8 721.9C506.2 718.2 505.1 715 504.7 711.7C504.2 708.4 504.2 704.7 503.9 702.2C503.7 699.8 503.6 699.1 503.2 697.2C502.8 695.2 502.3 692.3 501.7 690.6C501.1 688.9 499.6 688.6 499.6 687C499.6 685.4 499.7 682.5 501.7 681.2C503.8 679.8 509 680 511.9 679C514.8 678 517.9 676.9 519.2 675.3C520.5 673.8 520.9 671.5 519.9 669.5C518.9 667.6 516.4 665.7 513.4 663.7C510.3 661.8 504.8 659.8 501.7 657.9C498.7 656 496.2 654.5 495.2 652.1C494.2 649.7 495.6 646.8 495.9 643.4C496.3 640 497.4 635.1 497.4 631.7C497.4 628.4 497.1 625.4 495.9 623C494.7 620.6 492.5 618.9 490.1 617.2C487.7 615.5 484.1 614.5 481.4 612.8C478.7 611.2 474.1 609.5 474.1 607C474.1 604.6 478.2 600.7 481.4 598.3C484.5 595.9 489.1 596.6 493 592.5C496.9 588.4 502.8 578.2 504.7 573.6C506.5 569 504.4 567.5 503.9 564.9C503.4 562.2 502.8 559.6 501.7 557.6C500.7 555.7 497.6 554.7 497.4 553.3C497.1 551.8 499.6 550.8 500.3 548.9C501 547 502 543.7 501.7 541.6C501.5 539.6 501.3 538 498.8 536.5C496.4 535.1 489.9 534 487.2 532.9C484.5 531.8 485.8 532.2 482.8 530C479.9 527.8 472.2 522.8 469.8 520C467.3 517.2 468.3 515.4 468.3 513.3C468.3 511.2 468.6 509.2 469.8 507.5C471 505.8 472.7 504.4 475.6 503.1C478.5 501.9 482.4 501.4 487.2 500.2C492.1 499 501.1 497.3 504.7 495.9C508.2 494.4 508.3 493 508.3 491.5C508.3 490.1 505.7 488.8 504.7 487.2C503.6 485.5 502.3 483.5 501.7 481.3C501.1 479.2 501.3 476.7 501 474.1C500.8 471.4 500.2 468 500.3 465.3C500.4 462.7 501.1 460.5 501.7 458.1C502.3 455.7 503.7 453 503.9 450.8C504.2 448.6 503.1 447.4 503.2 445C503.3 442.6 504.3 439.3 504.7 436.3C505 433.3 505.4 430 505.4 426.8C505.4 423.7 504.9 420.5 504.7 417.4C504.4 414.2 503.2 410.1 503.9 407.9C504.7 405.8 506.7 405.8 509 404.3C511.3 402.8 515.3 400.9 517.7 399.2C520.2 397.5 522.8 395.8 523.5 394.1C524.3 392.4 523.8 390.4 522.1 389C520.4 387.7 517.2 386.9 513.4 386.1C509.5 385.4 502 385.5 498.8 384.7C495.7 383.8 494.7 382.4 494.5 381C494.2 379.7 495.4 378.1 497.4 376.7C499.3 375.2 503.9 374 506.1 372.3C508.3 370.6 510.2 368.6 510.5 366.5C510.7 364.5 509.5 361.8 507.6 360C505.6 358.2 502.7 356.9 498.8 355.6C495 354.3 488.2 353.6 484.3 352C480.4 350.4 477.2 348.1 475.6 346.2C474 344.2 473.9 342.3 474.9 340.3C475.8 338.4 478.4 336.5 481.4 334.5C484.4 332.6 488.7 330.4 493 328.7C497.4 327 504.2 325.8 507.6 324.4C510.9 322.9 512 321.6 513.4 320C514.7 318.4 515.3 317.1 515.6 314.8C515.8 312.4 515.4 309.2 514.8 306C514.2 302.9 513.4 299 511.9 295.9C510.5 292.7 507.7 290.3 506.1 287.2C504.5 284 503.2 280.2 502.5 277C501.7 273.7 501.5 270.7 501.7 267.5C502 264.4 504.7 261.1 503.9 258.1C503.2 255.1 499.1 252.3 497.4 249.4C495.7 246.5 494.2 243.5 493.8 240.6C493.3 237.7 493.1 234.6 494.5 231.9C495.8 229.3 498.1 227.3 501.7 224.7C505.4 222 512.8 218.8 516.3 215.9C519.8 213 521.9 209.9 522.8 207.2C523.8 204.5 523.4 202.6 522.1 199.9C520.8 197.3 518.2 194.2 514.8 191.2C511.4 188.2 506.3 184.3 501.7 181.8C497.1 179.2 491 178.1 487.2 176C483.5 173.8 480.7 171.1 479.2 168.7C477.8 166.3 477.4 163.7 478.5 161.4C479.6 159.1 482.7 157.2 485.8 154.9C488.8 152.6 494.4 150.3 496.7 147.6C499 145 499.1 142.5 499.6 138.9C500 135.3 499.6 129.9 499.6 125.8C499.6 121.7 499.6 118.8 499.6 114.2C499.6 109.6 506.3 100.9 499.6 98.2C492.8 95.5 465.6 95.5 458.9 98.2Z"/>
<g id="stars"><path d="M350.3 389.7 L400 385.8 L412.7 371.6 L409.9 386.7 L433.9 389.7 L407.1 392.7 L370.1 394.6 L364.5 414.2 L362.6 395Z"/><path d="M577.8 137.2 L595.5 138.3 L599.8 129.4 L603.2 138.7 L623 140.8 L603.7 143.3 L600.2 171.1 L596.4 144Z"/><path d="M576.6 329.3 L583 326.4 L585.7 310.8 L588.3 325.9 L611.3 328.1 L589 332.2 L584.7 347.8 L582.6 332.7Z"/><path d="M279.3 492.2 L282.4 521.2 L284.2 554.8 L323.4 554.1 L282.9 563 L280 576.9 L276.8 560.6 L275.9 525.9 L245.7 525.4 L275.5 519.4Z"/><path d="M629.4 490.7 L652.4 491 L659.4 483.6 L666.9 491.8 L693.2 494.3 L670.6 500.6 L660.2 525.1 L653.4 499.4Z"/><path d="M640.6 634.4 L627.6 655.4 L643.1 666.2 L618.2 661.8 L589.1 673.4 L605.2 654.8 L589.9 645.7 L616.6 649.8Z"/></g>
<mask id="mcav" maskUnits="userSpaceOnUse" x="200" y="100" width="700" height="700"><g fill="#fff" filter="url(#ero)"><use href="#cav"/><use href="#mainb"/></g></mask>
<mask id="mcavonly" maskUnits="userSpaceOnUse" x="200" y="100" width="700" height="700"><g fill="#fff" filter="url(#ero)"><use href="#cav"/></g></mask>
</defs>
<g transform="translate(0 0)">
<rect x="224.3" y="124.5" width="618.5" height="604" fill="url(#brick)" filter="url(#soft)"/>
<g clip-path="url(#clipb)">
<g fill="#1c3a47" stroke="#1c3a47" stroke-width="1.5" stroke-linejoin="round"><use href="#cav"/><use href="#mainb"/></g>
<g fill="#1eaeca" filter="url(#ero)"><use href="#cav"/><use href="#mainb"/></g>
<g mask="url(#mcav)"><g fill="#0b879f" stroke="#075f75" stroke-width="1.1"><circle cx="331" cy="259.6" r="3.4"/><circle cx="318.4" cy="253.4" r="3"/><circle cx="336.6" cy="273.1" r="5"/><circle cx="339.8" cy="260.7" r="5"/><circle cx="299.2" cy="245.5" r="3.3"/><circle cx="281.8" cy="244.9" r="3.6"/><circle cx="294.9" cy="249.4" r="2.7"/><circle cx="288.3" cy="253.1" r="4.1"/><circle cx="311.8" cy="253" r="2.4"/><circle cx="329.2" cy="271.9" r="1.8"/><circle cx="327" cy="255.3" r="2.4"/><circle cx="328.4" cy="264.8" r="1.8"/><circle cx="302.2" cy="251" r="1.9"/><circle cx="333.1" cy="267.3" r="2"/><circle cx="287.1" cy="244.3" r="1.9"/><circle cx="304.9" cy="248.7" r="1.8"/><circle cx="290.8" cy="244.1" r="1.8"/><circle cx="312.9" cy="248.6" r="1.8"/><circle cx="320.4" cy="258.2" r="1.9"/><circle cx="306" cy="253.9" r="2.7"/><circle cx="324.3" cy="258.9" r="2"/><circle cx="314.3" cy="257.3" r="2.5"/><circle cx="309.3" cy="247.5" r="2.1"/><circle cx="344.1" cy="313.1" r="2.4"/><circle cx="349.4" cy="309.7" r="3.8"/><circle cx="349.9" cy="316.6" r="2.2"/><circle cx="361.8" cy="320.4" r="3"/><circle cx="355" cy="332.1" r="3.6"/><circle cx="344.2" cy="320.1" r="1.9"/><circle cx="336" cy="288.1" r="1.9"/><circle cx="345.9" cy="293.5" r="3.2"/><circle cx="357" cy="326.5" r="2.1"/><circle cx="348.7" cy="284.1" r="1.9"/><circle cx="356.5" cy="302.7" r="4.2"/><circle cx="352.8" cy="294.2" r="3.5"/><circle cx="360.4" cy="335.7" r="3.4"/><circle cx="340" cy="302.1" r="2.2"/><circle cx="332.8" cy="283.7" r="3.1"/><circle cx="359.3" cy="313.8" r="3"/><circle cx="341.6" cy="277.6" r="2.1"/><circle cx="351.9" cy="287.7" r="1.9"/><circle cx="341.4" cy="287" r="1.9"/><circle cx="347.9" cy="325" r="1.8"/><circle cx="337.3" cy="295.6" r="2.9"/><circle cx="338.5" cy="281.4" r="2.8"/><circle cx="364.6" cy="311" r="2.8"/><circle cx="340" cy="291" r="2.6"/><circle cx="345.9" cy="268.4" r="2.3"/><circle cx="346.5" cy="280.7" r="1.8"/><circle cx="345.8" cy="302.3" r="3.8"/><circle cx="360.8" cy="329.5" r="2.5"/><circle cx="353.8" cy="321.5" r="2.7"/><circle cx="333.7" cy="291.4" r="2.2"/><circle cx="345.5" cy="275.8" r="1.8"/><circle cx="354.5" cy="316.5" r="2.5"/><circle cx="330.6" cy="277.5" r="2"/><circle cx="351.9" cy="327.3" r="2.1"/><circle cx="355.4" cy="310" r="2.2"/><circle cx="360.1" cy="342.4" r="2.6"/><circle cx="365" cy="305.1" r="2"/><circle cx="342.1" cy="297.8" r="2.2"/><circle cx="345.6" cy="288.3" r="2.3"/><circle cx="342.8" cy="283.2" r="1.9"/><circle cx="342.1" cy="308.7" r="1.9"/><circle cx="390.3" cy="335" r="3.4"/><circle cx="392.1" cy="307" r="4.5"/><circle cx="382.2" cy="319.9" r="2.3"/><circle cx="393.3" cy="320.3" r="2.2"/><circle cx="389.7" cy="340.4" r="2"/><circle cx="368.9" cy="333.4" r="4.2"/><circle cx="380.8" cy="310.2" r="3.2"/><circle cx="373.5" cy="315.7" r="3.1"/><circle cx="401.7" cy="301" r="4.4"/><circle cx="384.8" cy="351.1" r="4.1"/><circle cx="377.2" cy="331.2" r="4.7"/><circle cx="388.6" cy="317.4" r="3.1"/><circle cx="377.1" cy="343.9" r="2.7"/><circle cx="365.1" cy="342.3" r="1.8"/><circle cx="369.1" cy="324.2" r="3.1"/><circle cx="397.5" cy="323.1" r="2.3"/><circle cx="382.5" cy="342.8" r="1.9"/><circle cx="378.7" cy="322.2" r="2"/><circle cx="387.4" cy="329.2" r="2.2"/><circle cx="386" cy="340.8" r="2"/><circle cx="373.2" cy="351.4" r="2.2"/><circle cx="371.6" cy="310.5" r="2.4"/><circle cx="368.7" cy="346.1" r="2.5"/><circle cx="374" cy="340" r="2.1"/><circle cx="383.6" cy="327.2" r="2.1"/><circle cx="399.1" cy="308.6" r="2.2"/><circle cx="360.3" cy="308.4" r="2.3"/><circle cx="381.9" cy="338.5" r="1.8"/><circle cx="374.8" cy="324.7" r="2.1"/><circle cx="386.9" cy="312.6" r="2.3"/><circle cx="385.8" cy="308.6" r="1.9"/><circle cx="386.1" cy="323.4" r="2"/><circle cx="397" cy="318.3" r="2.3"/><circle cx="400.3" cy="313.8" r="3.1"/><circle cx="395.1" cy="314.4" r="2.2"/><circle cx="377" cy="350.2" r="1.8"/><circle cx="378.4" cy="355.2" r="1.8"/><circle cx="365.5" cy="315.8" r="1.8"/><circle cx="392.5" cy="324.7" r="1.9"/><circle cx="369.2" cy="319.3" r="2.1"/><circle cx="368.1" cy="340" r="2.1"/><circle cx="388.5" cy="345" r="1.9"/><circle cx="379.4" cy="316.2" r="1.8"/><circle cx="368.9" cy="306.9" r="2.4"/><circle cx="383.9" cy="332.9" r="2.6"/><circle cx="376.2" cy="311.8" r="1.8"/><circle cx="394.4" cy="329.9" r="1.8"/><circle cx="408.6" cy="292.6" r="2.1"/><circle cx="436.9" cy="255.4" r="2.7"/><circle cx="469.1" cy="255.3" r="2.7"/><circle cx="464.2" cy="256" r="1.8"/><circle cx="425.4" cy="264.5" r="2"/><circle cx="445.5" cy="253.6" r="3.8"/><circle cx="457.1" cy="259" r="4.4"/><circle cx="417.3" cy="271.4" r="2.8"/><circle cx="410.7" cy="289.3" r="1.9"/><circle cx="454.4" cy="253.2" r="2.1"/><circle cx="429.3" cy="262.8" r="2.2"/><circle cx="428" cy="258.5" r="2"/><circle cx="414.6" cy="281.3" r="2.5"/><circle cx="432.2" cy="258.4" r="2.3"/><circle cx="461.9" cy="251.9" r="2.8"/><circle cx="406.9" cy="297.4" r="1.9"/><circle cx="421.7" cy="268" r="2.1"/><circle cx="417.4" cy="276.2" r="2.1"/><circle cx="466.3" cy="259.6" r="2.7"/><circle cx="285.4" cy="422.1" r="1.8"/><circle cx="293.5" cy="425.3" r="3.8"/><circle cx="285.7" cy="454.3" r="1.8"/><circle cx="303" cy="451.2" r="4.4"/><circle cx="300.5" cy="379.7" r="4.2"/><circle cx="297.5" cy="441.1" r="3.9"/><circle cx="295.3" cy="451.8" r="2.3"/><circle cx="294.8" cy="418.9" r="2.8"/><circle cx="286.6" cy="387.2" r="2.4"/><circle cx="316" cy="463.7" r="2.4"/><circle cx="283" cy="462.6" r="2.4"/><circle cx="311.3" cy="391.6" r="2.4"/><circle cx="287.9" cy="403.5" r="2.4"/><circle cx="291.9" cy="464.7" r="2.1"/><circle cx="287.5" cy="410.7" r="2.7"/><circle cx="309.9" cy="379.7" r="2"/><circle cx="277.5" cy="462.2" r="1.8"/><circle cx="323" cy="375.4" r="2.7"/><circle cx="272.9" cy="380.5" r="1.9"/><circle cx="291.9" cy="397" r="4.3"/><circle cx="294.6" cy="385" r="3.4"/><circle cx="299.1" cy="395.7" r="1.8"/><circle cx="318.5" cy="449.9" r="1.8"/><circle cx="323.1" cy="381.9" r="2.2"/><circle cx="278" cy="388.5" r="1.9"/><circle cx="305.5" cy="394.3" r="2.1"/><circle cx="307.8" cy="458.3" r="3.8"/><circle cx="320.3" cy="460.9" r="2.2"/><circle cx="278" cy="382.3" r="2.9"/><circle cx="286" cy="393.8" r="2"/><circle cx="310.1" cy="453.3" r="2"/><circle cx="283.5" cy="399.6" r="2.1"/><circle cx="317.2" cy="386.9" r="2.3"/><circle cx="285.5" cy="431.6" r="4"/><circle cx="296.4" cy="457.6" r="2.2"/><circle cx="296.3" cy="406.6" r="4.4"/><circle cx="289.2" cy="419.7" r="2.2"/><circle cx="295.5" cy="447.7" r="1.8"/><circle cx="319.3" cy="382.9" r="2"/><circle cx="296" cy="430.9" r="2.5"/><circle cx="280.4" cy="377.6" r="2.1"/><circle cx="279.4" cy="396.4" r="2.7"/><circle cx="288.8" cy="457.2" r="1.8"/><circle cx="292" cy="377" r="4.5"/><circle cx="298" cy="390.3" r="1.9"/><circle cx="289.2" cy="439.1" r="2.1"/><circle cx="289.7" cy="446.1" r="2"/><circle cx="286.7" cy="449.8" r="2.9"/><circle cx="311.3" cy="384" r="2.5"/><circle cx="314.5" cy="377.1" r="2.2"/><circle cx="284.3" cy="381.6" r="3.7"/><circle cx="307.9" cy="465.6" r="2.3"/><circle cx="291.1" cy="435.2" r="2.4"/><circle cx="320" cy="469.5" r="4.7"/><circle cx="303.5" cy="397.9" r="2.4"/><circle cx="303.7" cy="389.9" r="2.4"/><circle cx="321.6" cy="456.9" r="1.9"/><circle cx="291" cy="414.9" r="2.9"/><circle cx="284.6" cy="415.9" r="2.6"/><circle cx="318.3" cy="454" r="2.3"/><circle cx="300.2" cy="462.9" r="3.6"/><circle cx="300.7" cy="457" r="2.1"/><circle cx="305.5" cy="385.7" r="1.9"/><circle cx="279" cy="456.2" r="1.9"/><circle cx="291.3" cy="390.7" r="1.8"/><circle cx="315" cy="450.6" r="2"/><circle cx="286.8" cy="465.5" r="2.6"/><circle cx="300.9" cy="402.1" r="2.1"/><circle cx="289.2" cy="462.1" r="1.9"/><circle cx="282.7" cy="406.3" r="2.5"/><circle cx="314.4" cy="459.5" r="2.3"/><circle cx="309.3" cy="397.4" r="2.8"/><circle cx="273.9" cy="385.4" r="2.4"/><circle cx="316.7" cy="391.1" r="2"/><circle cx="294.7" cy="391.6" r="1.8"/><circle cx="311.8" cy="467" r="1.9"/><circle cx="313.6" cy="454.8" r="1.9"/><circle cx="282.6" cy="391.5" r="2.2"/><circle cx="283.3" cy="458" r="1.9"/><circle cx="315.1" cy="381.6" r="1.8"/><circle cx="298.3" cy="412.4" r="2.1"/><circle cx="293.9" cy="461.3" r="1.9"/><circle cx="376.7" cy="463.7" r="4"/><circle cx="393.7" cy="465.8" r="4.7"/><circle cx="360.2" cy="501.7" r="2.8"/><circle cx="394.5" cy="457.9" r="3.2"/><circle cx="338.2" cy="477.4" r="3.4"/><circle cx="419" cy="470.8" r="3.3"/><circle cx="407.3" cy="478.9" r="3.3"/><circle cx="334.3" cy="489.9" r="4.2"/><circle cx="342.3" cy="506.7" r="3.4"/><circle cx="345.8" cy="471.5" r="3.9"/><circle cx="368.5" cy="493.8" r="3"/><circle cx="341.9" cy="487.4" r="4.4"/><circle cx="355.8" cy="469.6" r="5"/><circle cx="329.1" cy="465.4" r="2.6"/><circle cx="338.6" cy="470.4" r="3.4"/><circle cx="339.3" cy="501" r="2.8"/><circle cx="409.8" cy="467.3" r="4.6"/><circle cx="407.9" cy="488.2" r="3.2"/><circle cx="329.9" cy="477.3" r="4"/><circle cx="369.5" cy="483.5" r="3.5"/><circle cx="367.4" cy="501.5" r="2.1"/><circle cx="406.5" cy="458.9" r="1.8"/><circle cx="367.9" cy="471.6" r="2.1"/><circle cx="383.3" cy="465.9" r="2.4"/><circle cx="365.1" cy="478.9" r="1.9"/><circle cx="414.8" cy="477.7" r="2.3"/><circle cx="383.3" cy="479.2" r="2.8"/><circle cx="335.7" cy="496.1" r="1.8"/><circle cx="380.4" cy="475.6" r="2.1"/><circle cx="370.7" cy="476" r="2.9"/><circle cx="349.9" cy="508.4" r="3.9"/><circle cx="341.6" cy="465.8" r="2"/><circle cx="363" cy="508.2" r="3.1"/><circle cx="326.3" cy="453.2" r="2.3"/><circle cx="372.1" cy="489.8" r="2.2"/><circle cx="394.3" cy="475.2" r="4.5"/><circle cx="415.3" cy="485.7" r="1.8"/><circle cx="327.7" cy="487.1" r="2.6"/><circle cx="335.6" cy="504.8" r="2"/><circle cx="378" cy="481.9" r="2.2"/><circle cx="371.7" cy="498.3" r="2.3"/><circle cx="331.6" cy="470.4" r="3.3"/><circle cx="365.2" cy="468" r="2.6"/><circle cx="344.4" cy="496.4" r="2.8"/><circle cx="336.9" cy="463" r="2.4"/><circle cx="398.5" cy="460.8" r="1.8"/><circle cx="420" cy="464" r="2.6"/><circle cx="401.5" cy="464.4" r="2.4"/><circle cx="330" cy="457.5" r="2.4"/><circle cx="389" cy="458.6" r="2.4"/><circle cx="416" cy="482.2" r="1.8"/><circle cx="375.3" cy="474.9" r="2.1"/><circle cx="401.1" cy="495" r="1.9"/><circle cx="386.4" cy="472.4" r="2.1"/><circle cx="339.2" cy="493.2" r="2"/><circle cx="371.1" cy="465.8" r="2.4"/><circle cx="382.9" cy="461.1" r="2.7"/><circle cx="334.3" cy="482.2" r="2.6"/><circle cx="412.7" cy="460.9" r="2.9"/><circle cx="363.7" cy="496.5" r="2.3"/><circle cx="401.8" cy="473.9" r="2.2"/><circle cx="354.6" cy="505.5" r="1.8"/><circle cx="331.8" cy="462.3" r="1.8"/><circle cx="378.5" cy="470.3" r="2.6"/><circle cx="365.4" cy="489.1" r="1.8"/><circle cx="356.3" cy="510.6" r="2.6"/><circle cx="403.7" cy="461.1" r="1.8"/><circle cx="333.9" cy="458.9" r="1.8"/><circle cx="348.5" cy="502.1" r="2.1"/><circle cx="291.1" cy="453.7" r="2.5"/><circle cx="349" cy="466.4" r="2"/><circle cx="403.2" cy="469.7" r="2"/><circle cx="410.5" cy="482.7" r="1.9"/><circle cx="373.7" cy="470" r="2"/><circle cx="362.8" cy="473.4" r="3"/><circle cx="322" cy="451.4" r="1.8"/><circle cx="358.1" cy="506.6" r="1.8"/><circle cx="295.6" cy="465.5" r="1.8"/><circle cx="418.9" cy="479.5" r="1.8"/><circle cx="387.6" cy="468.5" r="2.3"/><circle cx="415.6" cy="465.2" r="1.9"/><circle cx="413.5" cy="473.1" r="2.3"/><circle cx="279.5" cy="465.7" r="2.1"/><circle cx="326.2" cy="462.2" r="1.8"/><circle cx="403.3" cy="491.7" r="1.8"/><circle cx="330.1" cy="494.9" r="1.8"/><circle cx="345.2" cy="465.2" r="1.9"/><circle cx="343.9" cy="501" r="1.9"/><circle cx="376.3" cy="486.5" r="2.8"/><circle cx="325.3" cy="457.9" r="2.2"/><circle cx="398.9" cy="470.7" r="2.2"/><circle cx="436.7" cy="463.2" r="3.7"/><circle cx="428.1" cy="465.6" r="3.1"/><circle cx="431.7" cy="460.5" r="2.4"/><circle cx="425.4" cy="460.4" r="2.3"/><circle cx="274" cy="633.4" r="1.9"/><circle cx="330" cy="664.8" r="1.9"/><circle cx="334.9" cy="637.3" r="3.5"/><circle cx="326.1" cy="667.7" r="2"/><circle cx="356.9" cy="639.9" r="2.5"/><circle cx="374.9" cy="644.1" r="4.5"/><circle cx="358" cy="649.1" r="2.3"/><circle cx="393.7" cy="646.5" r="3.8"/><circle cx="319.7" cy="636.6" r="3.2"/><circle cx="351.8" cy="650.3" r="4"/><circle cx="308.4" cy="655.5" r="4.3"/><circle cx="351.4" cy="637.1" r="3.2"/><circle cx="328.9" cy="655.9" r="3.6"/><circle cx="341.4" cy="645.8" r="3"/><circle cx="310.5" cy="632.8" r="2.9"/><circle cx="293.2" cy="635.2" r="3"/><circle cx="305.3" cy="644.3" r="2.6"/><circle cx="412.1" cy="639.6" r="2.5"/><circle cx="335.5" cy="665.2" r="2"/><circle cx="418.4" cy="640.5" r="2.6"/><circle cx="341.6" cy="652.9" r="3.2"/><circle cx="414.4" cy="643.6" r="2.3"/><circle cx="298.8" cy="648.6" r="3.3"/><circle cx="315.6" cy="642.9" r="2"/><circle cx="365.5" cy="645.5" r="2.5"/><circle cx="278.4" cy="634.3" r="1.9"/><circle cx="281.8" cy="640.6" r="2.1"/><circle cx="401" cy="649.2" r="2.6"/><circle cx="319.1" cy="659.1" r="3.4"/><circle cx="335" cy="653.7" r="1.9"/><circle cx="337.4" cy="658.5" r="3.3"/><circle cx="297.2" cy="656.4" r="2.3"/><circle cx="304.3" cy="648.8" r="1.8"/><circle cx="328.2" cy="642.4" r="1.9"/><circle cx="297.6" cy="638.9" r="2.7"/><circle cx="291.6" cy="650.7" r="2.8"/><circle cx="317.8" cy="668.2" r="1.9"/><circle cx="347.9" cy="641.9" r="1.8"/><circle cx="320.6" cy="649.9" r="4.9"/><circle cx="380.5" cy="645.8" r="1.9"/><circle cx="342.2" cy="637.7" r="4.3"/><circle cx="340.9" cy="664.3" r="2.1"/><circle cx="349.3" cy="656.8" r="2.1"/><circle cx="286.6" cy="638.1" r="3.3"/><circle cx="310.1" cy="648.5" r="2.7"/><circle cx="308.2" cy="666.1" r="2.6"/><circle cx="304.3" cy="627.6" r="3.7"/><circle cx="405" cy="643.7" r="4.2"/><circle cx="316.4" cy="671.7" r="1.9"/><circle cx="362.4" cy="639.9" r="1.9"/><circle cx="301.3" cy="657.9" r="1.9"/><circle cx="312.8" cy="661.3" r="3"/><circle cx="314.7" cy="638.9" r="1.9"/><circle cx="345.5" cy="649.4" r="2.2"/><circle cx="371.7" cy="651.3" r="4.1"/><circle cx="377.4" cy="649.6" r="1.9"/><circle cx="298.4" cy="633.6" r="2"/><circle cx="386.5" cy="645.6" r="1.9"/><circle cx="305" cy="634.3" r="2.4"/><circle cx="293.2" cy="642.7" r="2.5"/><circle cx="328.2" cy="636.7" r="2.9"/><circle cx="382.5" cy="650.9" r="2.6"/><circle cx="331.1" cy="668.8" r="2.2"/><circle cx="320.3" cy="672.3" r="1.9"/><circle cx="310.4" cy="642.1" r="2.5"/><circle cx="332.2" cy="644.4" r="2.2"/><circle cx="285.3" cy="644.1" r="3.2"/><circle cx="311.1" cy="627.9" r="2.3"/><circle cx="352.7" cy="642.1" r="1.8"/><circle cx="332.4" cy="660.4" r="2.1"/><circle cx="355.1" cy="645.6" r="2.2"/><circle cx="361.1" cy="652.3" r="2.3"/><circle cx="343.4" cy="660.3" r="2.1"/><circle cx="323.5" cy="670.3" r="1.9"/><circle cx="299.5" cy="629.6" r="1.8"/><circle cx="338.2" cy="667.6" r="1.8"/><circle cx="323.5" cy="675" r="2"/><circle cx="322.1" cy="643.6" r="1.9"/><circle cx="356.4" cy="654.9" r="1.8"/><circle cx="315.5" cy="630" r="2.5"/><circle cx="305" cy="661.3" r="2.4"/><circle cx="314.4" cy="653.8" r="1.8"/><circle cx="301.2" cy="653.9" r="2.2"/><circle cx="328.3" cy="646.9" r="2"/><circle cx="350.4" cy="660.9" r="2.5"/><circle cx="333.9" cy="648.4" r="2.4"/><circle cx="322.4" cy="664.6" r="2.2"/><circle cx="308.4" cy="637.9" r="2.4"/><circle cx="366.9" cy="641.4" r="2.1"/><circle cx="337.7" cy="642.2" r="2.4"/><circle cx="325.7" cy="662.3" r="2"/><circle cx="269.7" cy="631.9" r="2.7"/><circle cx="409.8" cy="648.3" r="2.4"/><circle cx="303.9" cy="639.1" r="2.1"/><circle cx="275.8" cy="637" r="1.9"/><circle cx="345.9" cy="663.2" r="2"/><circle cx="387.2" cy="649.1" r="1.8"/><circle cx="324.4" cy="658.1" r="1.8"/><circle cx="293.2" cy="655.6" r="2"/><circle cx="398.8" cy="643.2" r="2.1"/><circle cx="359.8" cy="644.1" r="2"/><circle cx="314.4" cy="666.5" r="1.9"/><circle cx="300.3" cy="643.1" r="1.9"/><circle cx="328.6" cy="673.1" r="2.6"/><circle cx="438" cy="638.4" r="4.1"/><circle cx="427.9" cy="641.6" r="1.8"/><circle cx="420.6" cy="645" r="2.7"/><circle cx="433.2" cy="643.2" r="2.3"/><circle cx="429.8" cy="637.5" r="2.3"/><circle cx="448.8" cy="643.8" r="2.1"/><circle cx="446" cy="637.9" r="3.5"/><circle cx="424.1" cy="641.2" r="2.1"/><circle cx="443.1" cy="643.4" r="2"/><circle cx="401.3" cy="639" r="1.8"/><circle cx="625.2" cy="255.1" r="2.4"/><circle cx="692.7" cy="254.3" r="3.2"/><circle cx="639.8" cy="253.3" r="2.1"/><circle cx="617.1" cy="252.5" r="2.3"/><circle cx="724.2" cy="264.3" r="4.2"/><circle cx="708.2" cy="259.1" r="4.7"/><circle cx="641.2" cy="271.2" r="5"/><circle cx="607.4" cy="255.9" r="3.1"/><circle cx="719" cy="258.8" r="3.4"/><circle cx="604.1" cy="260.1" r="2.1"/><circle cx="646.8" cy="258" r="4.9"/><circle cx="700.7" cy="252.2" r="2.6"/><circle cx="636.1" cy="261.6" r="3.9"/><circle cx="635.8" cy="255.1" r="2.5"/><circle cx="667.9" cy="259.3" r="1.8"/><circle cx="726.2" cy="254.2" r="3.1"/><circle cx="631.4" cy="251.7" r="2.8"/><circle cx="717.4" cy="250.8" r="2.4"/><circle cx="616.6" cy="258.8" r="2.5"/><circle cx="680" cy="259.4" r="2.1"/><circle cx="663.5" cy="259" r="2.1"/><circle cx="688.1" cy="253.1" r="1.8"/><circle cx="685" cy="257.1" r="3.2"/><circle cx="612.8" cy="254.2" r="1.9"/><circle cx="670.3" cy="252.8" r="2"/><circle cx="631.5" cy="256.4" r="2"/><circle cx="700.4" cy="259" r="2"/><circle cx="601.2" cy="254.2" r="2"/><circle cx="655.2" cy="252.1" r="1.8"/><circle cx="673.6" cy="259.4" r="3.7"/><circle cx="679.2" cy="253.5" r="2"/><circle cx="649.2" cy="250.3" r="3.2"/><circle cx="656.9" cy="257.8" r="3.3"/><circle cx="667" cy="254.7" r="1.9"/><circle cx="716.1" cy="262.8" r="1.9"/><circle cx="711.1" cy="251.6" r="2.5"/><circle cx="674.9" cy="252.5" r="2"/><circle cx="611.8" cy="259" r="2.1"/><circle cx="642.9" cy="249.3" r="1.9"/><circle cx="695.6" cy="259.4" r="2.4"/><circle cx="646.2" cy="265.2" r="2"/><circle cx="689.6" cy="260.4" r="2.4"/><circle cx="620.5" cy="257.5" r="1.9"/><circle cx="621.9" cy="252.4" r="1.8"/><circle cx="645.9" cy="279.7" r="3.6"/><circle cx="706.3" cy="252" r="1.9"/><circle cx="640.2" cy="279.1" r="2.4"/><circle cx="660.2" cy="253.7" r="2"/><circle cx="726.3" cy="248.3" r="2"/><circle cx="684.3" cy="250.9" r="2.6"/><circle cx="724" cy="258.4" r="1.8"/><circle cx="637.2" cy="249.1" r="3.2"/><circle cx="714" cy="256.1" r="1.9"/><circle cx="775.2" cy="267.2" r="2.8"/><circle cx="756.5" cy="286.6" r="2.5"/><circle cx="783.3" cy="273.4" r="4.7"/><circle cx="729.9" cy="261.5" r="2"/><circle cx="742.6" cy="313.7" r="3.3"/><circle cx="762.4" cy="293" r="3.5"/><circle cx="792.8" cy="255.4" r="2.6"/><circle cx="774.1" cy="258.6" r="4.2"/><circle cx="736.4" cy="272" r="2.3"/><circle cx="744.3" cy="294.6" r="4.7"/><circle cx="755.2" cy="296.6" r="3.3"/><circle cx="768.1" cy="301.5" r="1.9"/><circle cx="758.3" cy="267" r="3.9"/><circle cx="746" cy="259.6" r="3.4"/><circle cx="742.6" cy="275.8" r="1.8"/><circle cx="742.4" cy="279.8" r="2.3"/><circle cx="781.1" cy="289.6" r="3.5"/><circle cx="772.6" cy="289.1" r="4.8"/><circle cx="737.5" cy="320.5" r="2.4"/><circle cx="742.4" cy="265.8" r="3.1"/><circle cx="745" cy="309" r="2.2"/><circle cx="798.1" cy="245.6" r="4"/><circle cx="768.9" cy="280.9" r="2.4"/><circle cx="792.3" cy="270.4" r="2"/><circle cx="769.2" cy="268.6" r="2.6"/><circle cx="755.2" cy="302.2" r="2.3"/><circle cx="788.1" cy="288.2" r="2.5"/><circle cx="746.5" cy="303.5" r="2.1"/><circle cx="751.8" cy="281" r="2.1"/><circle cx="733.9" cy="252.2" r="4.6"/><circle cx="750.7" cy="270" r="2.1"/><circle cx="750.1" cy="289.6" r="2.9"/><circle cx="779.4" cy="296.2" r="2.2"/><circle cx="735.8" cy="284" r="3.5"/><circle cx="763.8" cy="266.9" r="1.9"/><circle cx="779.8" cy="254.4" r="2.1"/><circle cx="773.5" cy="298.2" r="2.8"/><circle cx="790.7" cy="251.2" r="2.2"/><circle cx="795.4" cy="252" r="1.8"/><circle cx="754.5" cy="272.7" r="2.3"/><circle cx="774.5" cy="278.8" r="3.5"/><circle cx="732.7" cy="276.9" r="3.4"/><circle cx="786.2" cy="263.8" r="4.7"/><circle cx="780.8" cy="259.8" r="1.9"/><circle cx="785.2" cy="296.3" r="4"/><circle cx="786.8" cy="249" r="2.6"/><circle cx="736.3" cy="293.3" r="2"/><circle cx="791.8" cy="281.4" r="3"/><circle cx="747.8" cy="285.1" r="2.1"/><circle cx="760.2" cy="280.4" r="2.5"/><circle cx="762.6" cy="275.9" r="2.6"/><circle cx="755.2" cy="277.6" r="2.8"/><circle cx="767.6" cy="296" r="2.1"/><circle cx="754.8" cy="306.9" r="2.8"/><circle cx="788.7" cy="257.6" r="2.1"/><circle cx="746" cy="270.2" r="2.9"/><circle cx="762.6" cy="300.3" r="2.1"/><circle cx="748.6" cy="299.6" r="1.9"/><circle cx="736.3" cy="263.5" r="2.2"/><circle cx="797.2" cy="269.4" r="2.5"/><circle cx="771.8" cy="273.5" r="2.8"/><circle cx="740.8" cy="258.1" r="1.9"/><circle cx="750" cy="313.2" r="3.8"/><circle cx="736.4" cy="289.5" r="2.1"/><circle cx="801" cy="260.3" r="3.2"/><circle cx="763.2" cy="285.3" r="2.2"/><circle cx="800" cy="254.6" r="2.2"/><circle cx="730.2" cy="271.6" r="2.2"/><circle cx="729.9" cy="282.6" r="2.7"/><circle cx="759.5" cy="305" r="2.4"/><circle cx="783.2" cy="281.2" r="3.7"/><circle cx="742.4" cy="319.8" r="2"/><circle cx="795" cy="265.2" r="2.4"/><circle cx="748" cy="278.2" r="2.1"/><circle cx="727.2" cy="244.3" r="2"/><circle cx="773.1" cy="303.3" r="2.5"/><circle cx="742.2" cy="287.9" r="2.1"/><circle cx="751.5" cy="263.3" r="2"/><circle cx="736.4" cy="327.1" r="2"/><circle cx="769" cy="263.2" r="1.8"/><circle cx="750" cy="306.5" r="2.2"/><circle cx="741.1" cy="270.6" r="2.1"/><circle cx="778.6" cy="301.3" r="3.1"/><circle cx="785.4" cy="253.8" r="2"/><circle cx="765.1" cy="305.1" r="3"/><circle cx="792.7" cy="274.4" r="1.9"/><circle cx="733.1" cy="267" r="1.8"/><circle cx="783.7" cy="257.4" r="1.9"/><circle cx="767.9" cy="275.8" r="1.8"/><circle cx="741.5" cy="324.5" r="2.5"/><circle cx="799.9" cy="238.3" r="2.5"/><circle cx="729.6" cy="266.8" r="1.9"/><circle cx="738.1" cy="278.5" r="1.9"/><circle cx="748.9" cy="265.8" r="1.8"/><circle cx="778.3" cy="263.1" r="2.3"/><circle cx="803" cy="250.4" r="3.3"/><circle cx="742.9" cy="301.8" r="1.8"/><circle cx="740.9" cy="307.2" r="2.6"/><circle cx="743.8" cy="284.3" r="2"/><circle cx="721.4" cy="252.8" r="2.2"/><circle cx="794.4" cy="260.8" r="1.8"/><circle cx="762.5" cy="271" r="2.1"/><circle cx="788.1" cy="277.6" r="1.8"/><circle cx="727.1" cy="275.3" r="2.2"/><circle cx="727.4" cy="258.7" r="1.8"/><circle cx="776.3" cy="283.8" r="1.9"/><circle cx="620.4" cy="411.4" r="3"/><circle cx="734.6" cy="415.4" r="4.5"/><circle cx="759.5" cy="445.3" r="1.9"/><circle cx="691.6" cy="451.4" r="2.4"/><circle cx="759.9" cy="430.4" r="2.6"/><circle cx="667.3" cy="449.5" r="1.8"/><circle cx="726" cy="452.7" r="3"/><circle cx="635.5" cy="411.2" r="2.5"/><circle cx="674" cy="445.3" r="4.5"/><circle cx="784.4" cy="416.7" r="1.8"/><circle cx="662.3" cy="408.6" r="2.1"/><circle cx="709.2" cy="429.8" r="3.2"/><circle cx="775.7" cy="487.5" r="3.6"/><circle cx="667.6" cy="407.7" r="2.1"/><circle cx="678.1" cy="420.7" r="1.9"/><circle cx="725" cy="437.4" r="2.3"/><circle cx="769.8" cy="430" r="1.8"/><circle cx="672.5" cy="425.9" r="3.9"/><circle cx="710.8" cy="449" r="3.2"/><circle cx="721.4" cy="413.5" r="3.2"/><circle cx="719.9" cy="446.7" r="2.2"/><circle cx="767.3" cy="402.6" r="1.9"/><circle cx="642.1" cy="420.5" r="2"/><circle cx="688.3" cy="428.4" r="2.2"/><circle cx="739.4" cy="438" r="1.9"/><circle cx="751.1" cy="453.1" r="4.3"/><circle cx="753.5" cy="437.4" r="2.6"/><circle cx="739.8" cy="430.7" r="4.5"/><circle cx="682.5" cy="451.4" r="3.9"/><circle cx="716.3" cy="427.1" r="3.1"/><circle cx="681" cy="457" r="1.8"/><circle cx="596.5" cy="401.1" r="3"/><circle cx="721.5" cy="465.8" r="2.8"/><circle cx="796.5" cy="499.6" r="4.6"/><circle cx="755.3" cy="427.3" r="3.3"/><circle cx="578.1" cy="421" r="1.9"/><circle cx="628.1" cy="402.5" r="3"/><circle cx="581.8" cy="405.5" r="4.2"/><circle cx="697.5" cy="424.4" r="2.5"/><circle cx="731.2" cy="449.3" r="2.8"/><circle cx="621.9" cy="420.5" r="1.9"/><circle cx="763.3" cy="399.9" r="1.9"/><circle cx="647.5" cy="417.1" r="2.4"/><circle cx="667.3" cy="431.8" r="3.2"/><circle cx="752.6" cy="403.6" r="3.1"/><circle cx="554.2" cy="422.2" r="4.8"/><circle cx="575.7" cy="403.9" r="2.1"/><circle cx="595.1" cy="413.7" r="2.6"/><circle cx="659.9" cy="404.7" r="1.8"/><circle cx="572.6" cy="415.1" r="3.9"/><circle cx="739.4" cy="464" r="4"/><circle cx="746.7" cy="409.2" r="4.2"/><circle cx="781.4" cy="409.3" r="3.1"/><circle cx="762" cy="487.8" r="3.7"/><circle cx="693.9" cy="464.9" r="3.7"/><circle cx="677.6" cy="410.7" r="2.1"/><circle cx="754" cy="409.4" r="2.6"/><circle cx="758.3" cy="481.3" r="2.5"/><circle cx="663.7" cy="441.7" r="2.2"/><circle cx="587.4" cy="414.7" r="2.7"/><circle cx="762.2" cy="424" r="2"/><circle cx="646.8" cy="404.3" r="5"/><circle cx="666.8" cy="423.5" r="2.5"/><circle cx="700.5" cy="420.9" r="2"/><circle cx="662.7" cy="420.2" r="1.9"/><circle cx="758.2" cy="418.2" r="2.9"/><circle cx="655.2" cy="414.4" r="1.8"/><circle cx="750.7" cy="421.3" r="2.2"/><circle cx="727.4" cy="443.1" r="2.7"/><circle cx="542.8" cy="413.3" r="3.5"/><circle cx="558.1" cy="413.7" r="1.8"/><circle cx="681.5" cy="442.6" r="1.8"/><circle cx="773.1" cy="401.1" r="2.9"/><circle cx="718.1" cy="456.8" r="3.2"/><circle cx="746.3" cy="447.7" r="1.9"/><circle cx="613.7" cy="413.7" r="2.3"/><circle cx="696.8" cy="449.9" r="3.4"/><circle cx="715.2" cy="418.4" r="3.1"/><circle cx="652.8" cy="426.6" r="1.8"/><circle cx="764.8" cy="417.6" r="3.9"/><circle cx="561.2" cy="423.5" r="2"/><circle cx="615.3" cy="401.2" r="2.9"/><circle cx="784.9" cy="496.4" r="4.3"/><circle cx="773.3" cy="417.6" r="2.1"/><circle cx="704.4" cy="450.6" r="2.1"/><circle cx="644.7" cy="414" r="1.8"/><circle cx="722.8" cy="442.1" r="1.9"/><circle cx="740.6" cy="450.7" r="1.8"/><circle cx="714.2" cy="463.4" r="3.3"/><circle cx="731.4" cy="422.8" r="2.2"/><circle cx="713.3" cy="470.8" r="1.9"/><circle cx="659.4" cy="443.1" r="2.2"/><circle cx="725.7" cy="426.5" r="1.8"/><circle cx="773.5" cy="406.7" r="3"/><circle cx="598.1" cy="418.6" r="2.1"/><circle cx="758.1" cy="403.9" r="2.8"/><circle cx="763.4" cy="437.3" r="4.4"/><circle cx="549.7" cy="412.3" r="3.4"/><circle cx="623.5" cy="406.2" r="2.2"/><circle cx="696.8" cy="458.9" r="2.2"/><circle cx="732.1" cy="433.3" r="2.3"/><circle cx="747.3" cy="434.1" r="3.6"/><circle cx="671.9" cy="411.9" r="2.4"/><circle cx="607.1" cy="410.9" r="4.3"/><circle cx="753.6" cy="482.9" r="2.4"/><circle cx="685.2" cy="411" r="1.8"/><circle cx="684.5" cy="419.1" r="2.5"/><circle cx="607.8" cy="399.4" r="1.9"/><circle cx="776.7" cy="422" r="2.6"/><circle cx="599.4" cy="410.5" r="1.9"/><circle cx="628.5" cy="419.7" r="4.5"/><circle cx="569.7" cy="405.9" r="2.2"/><circle cx="784" cy="426.3" r="3.3"/><circle cx="767.9" cy="484.4" r="2.2"/><circle cx="628.9" cy="410.6" r="4.2"/><circle cx="561.4" cy="413" r="1.8"/><circle cx="692.3" cy="426.3" r="2.6"/><circle cx="735" cy="440.1" r="2.4"/><circle cx="713.4" cy="435.1" r="1.8"/><circle cx="687.5" cy="414.8" r="2.4"/><circle cx="764.5" cy="445.4" r="1.8"/><circle cx="785.5" cy="421.2" r="2.2"/><circle cx="730.7" cy="461.1" r="2.2"/><circle cx="740.5" cy="446.1" r="2.4"/><circle cx="749.9" cy="475.3" r="3.1"/><circle cx="765.5" cy="427.6" r="3.1"/><circle cx="544.4" cy="423.4" r="2.4"/><circle cx="671.3" cy="453.2" r="3.2"/><circle cx="682.5" cy="407.7" r="2.4"/><circle cx="740.6" cy="476.7" r="1.9"/><circle cx="692.5" cy="446.1" r="2"/><circle cx="764.8" cy="410" r="3.1"/><circle cx="560.9" cy="406.4" r="3.3"/><circle cx="710.1" cy="456.3" r="4.2"/><circle cx="749.3" cy="416" r="2.4"/><circle cx="660.1" cy="414.7" r="1.8"/><circle cx="658.6" cy="435.7" r="2.2"/><circle cx="646" cy="432" r="2"/><circle cx="700.6" cy="415.3" r="1.9"/><circle cx="750.1" cy="444.3" r="3.4"/><circle cx="719.3" cy="452" r="1.8"/><circle cx="672.1" cy="418.7" r="3.8"/><circle cx="744.5" cy="479.9" r="1.9"/><circle cx="705.4" cy="462.2" r="3.2"/><circle cx="647.7" cy="422.1" r="1.9"/><circle cx="779.4" cy="430.6" r="2.4"/><circle cx="681.1" cy="423.8" r="2.2"/><circle cx="578.8" cy="413" r="2.9"/><circle cx="757.1" cy="440.4" r="1.8"/><circle cx="709.3" cy="443" r="2.9"/><circle cx="723.2" cy="433.4" r="2.2"/><circle cx="777.1" cy="398.6" r="2"/><circle cx="781.2" cy="401.1" r="2.4"/><circle cx="566.2" cy="413.7" r="1.8"/><circle cx="706.2" cy="417.5" r="3.1"/><circle cx="638" cy="401.2" r="2.1"/><circle cx="613.4" cy="408.5" r="2.1"/><circle cx="590.3" cy="403.6" r="3.9"/><circle cx="744.9" cy="474.2" r="2.2"/><circle cx="787.7" cy="410" r="2.7"/><circle cx="601.1" cy="415.4" r="1.9"/><circle cx="564" cy="419" r="1.9"/><circle cx="636.7" cy="418.9" r="2.3"/><circle cx="654.5" cy="438.6" r="1.8"/><circle cx="759.5" cy="413.1" r="2"/><circle cx="657.1" cy="427.7" r="2.3"/><circle cx="727.7" cy="470.4" r="4.2"/><circle cx="693.2" cy="420.7" r="2.9"/><circle cx="719.9" cy="421" r="1.8"/><circle cx="773.5" cy="435.1" r="4.4"/><circle cx="708.9" cy="468.6" r="2.1"/><circle cx="665.8" cy="414" r="2.1"/><circle cx="583" cy="417" r="2.4"/><circle cx="610.8" cy="403.7" r="2.3"/><circle cx="652.7" cy="421.1" r="2.6"/><circle cx="654.7" cy="408.1" r="4.4"/><circle cx="699" cy="429.7" r="2.1"/><circle cx="559.8" cy="418.1" r="2.1"/><circle cx="675.1" cy="406.2" r="2.7"/><circle cx="737.1" cy="408.5" r="1.9"/><circle cx="727.4" cy="418.7" r="2.4"/><circle cx="649" cy="426.9" r="2.2"/><circle cx="688.5" cy="459.8" r="3.9"/><circle cx="635.6" cy="405.5" r="1.8"/><circle cx="772.6" cy="413.1" r="2"/><circle cx="642.9" cy="427" r="3.2"/><circle cx="780.8" cy="491.6" r="2.4"/><circle cx="725.9" cy="430.2" r="1.9"/><circle cx="774.9" cy="426.8" r="2.8"/><circle cx="741.1" cy="456" r="3.8"/><circle cx="718.5" cy="438.3" r="3.4"/><circle cx="750.5" cy="426.9" r="1.9"/><circle cx="740.4" cy="407.2" r="1.8"/><circle cx="768.3" cy="489" r="1.8"/><circle cx="549.2" cy="417.4" r="1.9"/><circle cx="740.7" cy="419.6" r="2.5"/><circle cx="692.5" cy="412.9" r="2.1"/><circle cx="592.8" cy="409.4" r="1.8"/><circle cx="703.2" cy="468.2" r="2.1"/><circle cx="632.6" cy="400.1" r="2.3"/><circle cx="704.5" cy="444" r="1.8"/><circle cx="658" cy="421.1" r="2.8"/><circle cx="789.2" cy="405.1" r="2.5"/><circle cx="735.2" cy="425.4" r="2.1"/><circle cx="754.5" cy="432.6" r="1.8"/><circle cx="670.7" cy="437.6" r="1.9"/><circle cx="678.2" cy="429.1" r="2.9"/><circle cx="685.3" cy="444.3" r="2.1"/><circle cx="653.6" cy="430.8" r="1.9"/><circle cx="538.5" cy="422.5" r="3.4"/><circle cx="718.8" cy="431.7" r="2"/><circle cx="772" cy="422.7" r="1.9"/><circle cx="584.2" cy="411.1" r="2.3"/><circle cx="680.2" cy="415.4" r="2.8"/><circle cx="676.7" cy="456.8" r="2.1"/><circle cx="721.3" cy="460.6" r="2"/><circle cx="701.3" cy="457.2" r="2.5"/><circle cx="668.1" cy="445.3" r="1.8"/><circle cx="746.3" cy="422.8" r="2.1"/><circle cx="702.7" cy="424.5" r="2.2"/><circle cx="574.2" cy="408.8" r="1.8"/><circle cx="698.9" cy="462.9" r="1.8"/><circle cx="715.5" cy="444.6" r="2"/><circle cx="732.5" cy="428.9" r="1.8"/><circle cx="733.3" cy="444.7" r="2.1"/><circle cx="696.4" cy="414.4" r="1.8"/><circle cx="728.2" cy="412.9" r="2.3"/><circle cx="712.6" cy="414.4" r="1.9"/><circle cx="649.8" cy="434.5" r="1.8"/><circle cx="604.1" cy="403.9" r="3.8"/><circle cx="617" cy="407.1" r="2"/><circle cx="754" cy="478.3" r="1.8"/><circle cx="663.5" cy="435.2" r="2"/><circle cx="740.8" cy="410.8" r="1.8"/><circle cx="607" cy="419" r="2.8"/><circle cx="661.3" cy="426" r="2"/><circle cx="743.2" cy="416" r="2.1"/><circle cx="621.5" cy="416.1" r="2.1"/><circle cx="622.7" cy="400.4" r="2.2"/><circle cx="690.2" cy="409.9" r="1.9"/><circle cx="753.8" cy="413.9" r="1.8"/><circle cx="696.4" cy="444.3" r="2.3"/><circle cx="591.4" cy="419.4" r="2.1"/><circle cx="712.3" cy="424" r="1.9"/><circle cx="743.7" cy="441.5" r="2.1"/><circle cx="735.9" cy="470.3" r="3.7"/><circle cx="730.8" cy="437.3" r="1.9"/><circle cx="769.5" cy="441.4" r="2.3"/><circle cx="620.1" cy="404" r="1.8"/><circle cx="570.7" cy="422.8" r="3.1"/><circle cx="639.7" cy="415.3" r="2.4"/><circle cx="730.8" cy="455.3" r="2.2"/><circle cx="703.3" cy="429" r="2.6"/><circle cx="757.5" cy="449.3" r="2.5"/><circle cx="735.6" cy="459" r="2.1"/><circle cx="664" cy="447.1" r="2.4"/><circle cx="778.8" cy="413.9" r="2.4"/><circle cx="649" cy="412.2" r="2.6"/><circle cx="743.1" cy="437.4" r="1.9"/><circle cx="615" cy="418.9" r="1.8"/><circle cx="708.4" cy="424.7" r="2.1"/><circle cx="636.3" cy="425.2" r="4"/><circle cx="720.7" cy="472.4" r="2.2"/><circle cx="769.1" cy="397.7" r="2"/><circle cx="722.4" cy="449.9" r="1.8"/><circle cx="643" cy="410.4" r="1.9"/><circle cx="805.3" cy="503.3" r="2.6"/><circle cx="554" cy="408.9" r="2.4"/><circle cx="771.5" cy="490.9" r="2"/><circle cx="735.6" cy="454.6" r="1.8"/><circle cx="685.5" cy="423.3" r="2"/><circle cx="693.7" cy="455.1" r="1.9"/><circle cx="747.4" cy="428.8" r="1.9"/><circle cx="744.4" cy="451.1" r="1.9"/><circle cx="662" cy="431.3" r="2"/><circle cx="666.6" cy="438.8" r="2"/><circle cx="743.8" cy="468.9" r="3"/><circle cx="784.9" cy="405.1" r="1.8"/><circle cx="721.4" cy="425.1" r="1.9"/><circle cx="674.5" cy="436.1" r="2.1"/><circle cx="778.1" cy="404.2" r="1.9"/><circle cx="586" cy="421" r="3"/><circle cx="763" cy="405" r="2.5"/><circle cx="639.2" cy="407.1" r="1.9"/><circle cx="565.9" cy="409" r="2.7"/><circle cx="706" cy="447.1" r="1.9"/><circle cx="716.8" cy="468.7" r="2.1"/><circle cx="653.7" cy="434.7" r="2.2"/><circle cx="724.9" cy="422" r="1.9"/><circle cx="673.4" cy="432.2" r="2.2"/><circle cx="716.7" cy="414" r="1.8"/><circle cx="736.7" cy="451.2" r="1.8"/><circle cx="726.4" cy="457.5" r="1.9"/><circle cx="762.6" cy="481.4" r="2"/><circle cx="749" cy="481" r="1.8"/><circle cx="664.4" cy="404.9" r="2"/><circle cx="758.3" cy="399.4" r="2"/><circle cx="787.7" cy="415.1" r="2"/><circle cx="786.1" cy="401.2" r="2.2"/><circle cx="680.4" cy="446.5" r="1.8"/><circle cx="611.6" cy="417.5" r="1.9"/><circle cx="602.3" cy="419.1" r="2.1"/><circle cx="790.5" cy="497.8" r="1.8"/><circle cx="673.7" cy="603.6" r="3.3"/><circle cx="558.9" cy="580.8" r="2.1"/><circle cx="671.8" cy="612.3" r="3.9"/><circle cx="699.9" cy="609.5" r="2.5"/><circle cx="625.1" cy="611.3" r="3.5"/><circle cx="663.4" cy="605.3" r="4.5"/><circle cx="579.9" cy="606.6" r="2.5"/><circle cx="653.3" cy="603.3" r="3.8"/><circle cx="572.7" cy="595.9" r="4.4"/><circle cx="723.8" cy="622.4" r="4.1"/><circle cx="691.1" cy="610.3" r="1.8"/><circle cx="541.2" cy="577.2" r="1.8"/><circle cx="745.1" cy="629.4" r="2.4"/><circle cx="545.5" cy="584.6" r="2"/><circle cx="604.2" cy="610.6" r="3.3"/><circle cx="645.6" cy="605.4" r="1.9"/><circle cx="603.9" cy="602" r="2.6"/><circle cx="588.2" cy="600.8" r="2.6"/><circle cx="537.5" cy="576.2" r="2"/><circle cx="686.6" cy="614.3" r="1.8"/><circle cx="553.8" cy="582.9" r="2.5"/><circle cx="614.6" cy="602.5" r="3.8"/><circle cx="733" cy="628.2" r="1.9"/><circle cx="592" cy="611.5" r="2.1"/><circle cx="539" cy="587.9" r="2.7"/><circle cx="651.6" cy="610.6" r="2.4"/><circle cx="648.3" cy="597" r="3.8"/><circle cx="565.5" cy="593.9" r="1.8"/><circle cx="713.3" cy="623.7" r="2.2"/><circle cx="755.8" cy="629.2" r="2.1"/><circle cx="621.8" cy="603.4" r="2.9"/><circle cx="638" cy="600.3" r="1.8"/><circle cx="636" cy="609.4" r="2.3"/><circle cx="544.3" cy="590.6" r="1.9"/><circle cx="626.7" cy="600.8" r="2.2"/><circle cx="702.7" cy="621.7" r="2.5"/><circle cx="577.1" cy="590.5" r="2.4"/><circle cx="728.2" cy="627.9" r="3.1"/><circle cx="682.4" cy="607.7" r="2.3"/><circle cx="738.2" cy="627.8" r="3.5"/><circle cx="689.6" cy="606.8" r="1.8"/><circle cx="692.8" cy="614.9" r="2.2"/><circle cx="631.6" cy="604.2" r="3.1"/><circle cx="597.2" cy="609.2" r="1.8"/><circle cx="704.3" cy="615.6" r="2.8"/><circle cx="662.4" cy="612" r="2.6"/><circle cx="560.2" cy="589.9" r="3.5"/><circle cx="699.1" cy="614.9" r="2.7"/><circle cx="581.1" cy="600.4" r="2.5"/><circle cx="582.5" cy="596.3" r="1.8"/><circle cx="609.6" cy="611" r="2.4"/><circle cx="564.8" cy="585.2" r="2.7"/><circle cx="710" cy="619.6" r="2.3"/><circle cx="571.3" cy="602.2" r="2"/><circle cx="597" cy="600" r="2.5"/><circle cx="552.3" cy="592.9" r="2"/><circle cx="635.6" cy="596.4" r="1.8"/><circle cx="756.6" cy="633.6" r="2"/><circle cx="680.1" cy="614.7" r="4.2"/><circle cx="640.6" cy="607.4" r="2.2"/><circle cx="642.7" cy="611.7" r="1.9"/><circle cx="589.4" cy="607" r="2.8"/><circle cx="640.4" cy="596.7" r="2.1"/><circle cx="568.2" cy="589.6" r="2.4"/><circle cx="549.7" cy="576.5" r="3.4"/><circle cx="615.1" cy="608.3" r="2.1"/><circle cx="540.5" cy="581.9" r="3"/><circle cx="614.3" cy="613.3" r="2.4"/><circle cx="643.6" cy="600.8" r="2.3"/><circle cx="632.6" cy="612.9" r="1.8"/><circle cx="688.2" cy="618.2" r="2.4"/><circle cx="631.8" cy="596.1" r="2"/><circle cx="575" cy="604.1" r="1.9"/><circle cx="620.1" cy="608.5" r="2.3"/><circle cx="600.4" cy="605.6" r="2.1"/><circle cx="657.9" cy="610.5" r="2.1"/><circle cx="584.3" cy="604.5" r="2.2"/><circle cx="625.7" cy="605.5" r="1.9"/><circle cx="695.6" cy="608.1" r="2"/><circle cx="569.5" cy="585.2" r="1.8"/><circle cx="719.9" cy="626.9" r="2"/><circle cx="686.1" cy="606.6" r="1.8"/><circle cx="706.8" cy="622.4" r="2"/><circle cx="751.2" cy="626.6" r="1.9"/><circle cx="549.5" cy="588.2" r="2.9"/><circle cx="693.6" cy="619.6" r="1.9"/><circle cx="565.8" cy="598.8" r="2"/><circle cx="608.8" cy="600.6" r="2"/><circle cx="609" cy="606.2" r="2.6"/><circle cx="655.7" cy="597.7" r="1.9"/><circle cx="666.3" cy="614.8" r="2"/><circle cx="555.3" cy="577.9" r="2.2"/><circle cx="593.9" cy="604" r="2.7"/><circle cx="559" cy="596.1" r="2"/><circle cx="746.2" cy="625.4" r="1.8"/><circle cx="731.4" cy="623.6" r="2.2"/><circle cx="592.5" cy="597" r="2.8"/><circle cx="562.7" cy="580.9" r="1.9"/><circle cx="698.1" cy="619.7" r="1.9"/><circle cx="752" cy="630.2" r="1.9"/><circle cx="704.2" cy="610.3" r="1.9"/><circle cx="538.4" cy="592.5" r="2"/><circle cx="660" cy="598.8" r="2.2"/><circle cx="586.1" cy="594.7" r="1.8"/><circle cx="708.5" cy="696.2" r="3"/><circle cx="713.8" cy="694.6" r="2.4"/><circle cx="731.8" cy="692" r="4"/><circle cx="697.2" cy="691.6" r="2.1"/><circle cx="720.3" cy="695.5" r="4.1"/><circle cx="701" cy="690.2" r="2"/><circle cx="688" cy="694.9" r="3.7"/><circle cx="697.8" cy="697.8" r="4.3"/><circle cx="739.7" cy="690.3" r="2.8"/><circle cx="736.7" cy="697.8" r="2.2"/><circle cx="705.4" cy="690.4" r="2.4"/><circle cx="726.5" cy="697.9" r="2.8"/><circle cx="718" cy="688.5" r="1.9"/><circle cx="693.1" cy="692.8" r="1.8"/><circle cx="722.4" cy="689" r="2.9"/><circle cx="711.7" cy="689.3" r="1.8"/><circle cx="713.5" cy="699.9" r="1.9"/><circle cx="704.9" cy="699.4" r="2.1"/><circle cx="730.9" cy="698.6" r="1.8"/><circle cx="549.4" cy="698.3" r="1.9"/><circle cx="555" cy="701.5" r="2"/><circle cx="543.9" cy="700.7" r="4.5"/><circle cx="553.8" cy="696.9" r="2.3"/><circle cx="538.8" cy="697.1" r="1.8"/><circle cx="466.9" cy="152" r="3.8"/><circle cx="503.2" cy="210.8" r="3.5"/><circle cx="479.7" cy="241.4" r="2.9"/><circle cx="479.2" cy="282.8" r="4.1"/><circle cx="490.1" cy="305.3" r="2"/><circle cx="478.5" cy="367.7" r="2.6"/><circle cx="489" cy="431.2" r="2.6"/><circle cx="465.4" cy="458.1" r="4.4"/><circle cx="463.5" cy="539.4" r="2.6"/><circle cx="478.5" cy="645.6" r="4.1"/><circle cx="486.5" cy="701.5" r="2.6"/><circle cx="552.6" cy="344" r="2.9"/></g></g>
<g transform="translate(358.8 288.6) rotate(-6) scale(1)"><path d="M0 -13C5.5 -13 7.5 -6 5.5 0L1.5 11.5L0 14L-1.5 11.5L-5.5 0C-7.5 -6 -5.5 -13 0 -13Z" fill="#fff"/><path d="M-3.6 5.5L3.6 5.5L0.6 13.5L-0.6 13.5Z" fill="#111"/><path d="M-5 1.5L5 1.5M-4.4 3.6L4.4 3.6M-5.8 -3C-4 -1 -2 -1.5 -1 -3" stroke="#222" stroke-width="0.8" fill="none"/></g>
<g transform="translate(352 489.3) rotate(0) scale(1.1)"><path d="M0 -13C5.5 -13 7.5 -6 5.5 0L1.5 11.5L0 14L-1.5 11.5L-5.5 0C-7.5 -6 -5.5 -13 0 -13Z" fill="#fff"/><path d="M-3.6 5.5L3.6 5.5L0.6 13.5L-0.6 13.5Z" fill="#111"/><path d="M-5 1.5L5 1.5M-4.4 3.6L4.4 3.6M-5.8 -3C-4 -1 -2 -1.5 -1 -3" stroke="#222" stroke-width="0.8" fill="none"/></g>
<g transform="translate(482.6 570.4) rotate(3) scale(1)"><path d="M0 -13C5.5 -13 7.5 -6 5.5 0L1.5 11.5L0 14L-1.5 11.5L-5.5 0C-7.5 -6 -5.5 -13 0 -13Z" fill="#fff"/><path d="M-3.6 5.5L3.6 5.5L0.6 13.5L-0.6 13.5Z" fill="#111"/><path d="M-5 1.5L5 1.5M-4.4 3.6L4.4 3.6M-5.8 -3C-4 -1 -2 -1.5 -1 -3" stroke="#222" stroke-width="0.8" fill="none"/></g>
<g transform="translate(747.7 235.8) rotate(-4) scale(1)"><path d="M0 -13C5.5 -13 7.5 -6 5.5 0L1.5 11.5L0 14L-1.5 11.5L-5.5 0C-7.5 -6 -5.5 -13 0 -13Z" fill="#fff"/><path d="M-3.6 5.5L3.6 5.5L0.6 13.5L-0.6 13.5Z" fill="#111"/><path d="M-5 1.5L5 1.5M-4.4 3.6L4.4 3.6M-5.8 -3C-4 -1 -2 -1.5 -1 -3" stroke="#222" stroke-width="0.8" fill="none"/></g>
<g transform="translate(674.4 383.3) rotate(-2) scale(1)"><path d="M0 -13C5.5 -13 7.5 -6 5.5 0L1.5 11.5L0 14L-1.5 11.5L-5.5 0C-7.5 -6 -5.5 -13 0 -13Z" fill="#fff"/><path d="M-3.6 5.5L3.6 5.5L0.6 13.5L-0.6 13.5Z" fill="#111"/><path d="M-5 1.5L5 1.5M-4.4 3.6L4.4 3.6M-5.8 -3C-4 -1 -2 -1.5 -1 -3" stroke="#222" stroke-width="0.8" fill="none"/></g>
<g transform="translate(740.1 384.1) rotate(12) scale(1)"><path d="M0 -13C5.5 -13 7.5 -6 5.5 0L1.5 11.5L0 14L-1.5 11.5L-5.5 0C-7.5 -6 -5.5 -13 0 -13Z" fill="#fff"/><path d="M-3.6 5.5L3.6 5.5L0.6 13.5L-0.6 13.5Z" fill="#111"/><path d="M-5 1.5L5 1.5M-4.4 3.6L4.4 3.6M-5.8 -3C-4 -1 -2 -1.5 -1 -3" stroke="#222" stroke-width="0.8" fill="none"/></g>
<g transform="translate(754.7 425.6) rotate(0) scale(0.9)"><path d="M0 -13C5.5 -13 7.5 -6 5.5 0L1.5 11.5L0 14L-1.5 11.5L-5.5 0C-7.5 -6 -5.5 -13 0 -13Z" fill="#fff"/><path d="M-3.6 5.5L3.6 5.5L0.6 13.5L-0.6 13.5Z" fill="#111"/><path d="M-5 1.5L5 1.5M-4.4 3.6L4.4 3.6M-5.8 -3C-4 -1 -2 -1.5 -1 -3" stroke="#222" stroke-width="0.8" fill="none"/></g>
<g transform="translate(606.6 575.2) rotate(27) scale(1)"><path d="M0 -13C5.5 -13 7.5 -6 5.5 0L1.5 11.5L0 14L-1.5 11.5L-5.5 0C-7.5 -6 -5.5 -13 0 -13Z" fill="#fff"/><path d="M-3.6 5.5L3.6 5.5L0.6 13.5L-0.6 13.5Z" fill="#111"/><path d="M-5 1.5L5 1.5M-4.4 3.6L4.4 3.6M-5.8 -3C-4 -1 -2 -1.5 -1 -3" stroke="#222" stroke-width="0.8" fill="none"/></g>
<g transform="translate(675.9 582.5) rotate(-17) scale(1.1)"><path d="M0 -13C5.5 -13 7.5 -6 5.5 0L1.5 11.5L0 14L-1.5 11.5L-5.5 0C-7.5 -6 -5.5 -13 0 -13Z" fill="#fff"/><path d="M-3.6 5.5L3.6 5.5L0.6 13.5L-0.6 13.5Z" fill="#111"/><path d="M-5 1.5L5 1.5M-4.4 3.6L4.4 3.6M-5.8 -3C-4 -1 -2 -1.5 -1 -3" stroke="#222" stroke-width="0.8" fill="none"/></g>
<g transform="translate(492.3 199.7) rotate(2) scale(1.1)"><path d="M0 -9.5C4 -9.5 5 -3 4.2 2C3.5 6 1.5 8.5 0 9C-1.5 8.5 -3.5 6 -4.2 2C-5 -3 -4 -9.5 0 -9.5Z" fill="#fff"/><path d="M-2 7.5L2 7.5L1.5 12L1.2 13L1.2 20.5L0.4 22L0.3 30L-0.3 30L-0.4 22L-1.2 20.5L-1.2 13L-1.5 12Z" fill="#111"/><path d="M-3.8 -5L-7.5 -6.5M3.8 -6L8 -8.5L10.5 -7.5M-3.5 3L3.5 3M-2.8 5.2L2.8 5.2" stroke="#222" stroke-width="0.8" fill="none"/></g>
<g transform="translate(403.9 255.5) rotate(2) scale(0.9)"><path d="M0 -9.5C4 -9.5 5 -3 4.2 2C3.5 6 1.5 8.5 0 9C-1.5 8.5 -3.5 6 -4.2 2C-5 -3 -4 -9.5 0 -9.5Z" fill="#fff"/><path d="M-2 7.5L2 7.5L1.5 12L1.2 13L1.2 20.5L0.4 22L0.3 30L-0.3 30L-0.4 22L-1.2 20.5L-1.2 13L-1.5 12Z" fill="#111"/><path d="M-3.8 -5L-7.5 -6.5M3.8 -6L8 -8.5L10.5 -7.5M-3.5 3L3.5 3M-2.8 5.2L2.8 5.2" stroke="#222" stroke-width="0.8" fill="none"/></g>
<g transform="translate(277.4 351.5) rotate(3) scale(0.8)"><path d="M0 -9.5C4 -9.5 5 -3 4.2 2C3.5 6 1.5 8.5 0 9C-1.5 8.5 -3.5 6 -4.2 2C-5 -3 -4 -9.5 0 -9.5Z" fill="#fff"/><path d="M-2 7.5L2 7.5L1.5 12L1.2 13L1.2 20.5L0.4 22L0.3 30L-0.3 30L-0.4 22L-1.2 20.5L-1.2 13L-1.5 12Z" fill="#111"/><path d="M-3.8 -5L-7.5 -6.5M3.8 -6L8 -8.5L10.5 -7.5M-3.5 3L3.5 3M-2.8 5.2L2.8 5.2" stroke="#222" stroke-width="0.8" fill="none"/></g>
<g transform="translate(780.1 228.5) rotate(0) scale(0.5)"><path d="M0 -9.5C4 -9.5 5 -3 4.2 2C3.5 6 1.5 8.5 0 9C-1.5 8.5 -3.5 6 -4.2 2C-5 -3 -4 -9.5 0 -9.5Z" fill="#fff"/><path d="M-2 7.5L2 7.5L1.5 12L1.2 13L1.2 20.5L0.4 22L0.3 30L-0.3 30L-0.4 22L-1.2 20.5L-1.2 13L-1.5 12Z" fill="#111"/><path d="M-3.8 -5L-7.5 -6.5M3.8 -6L8 -8.5L10.5 -7.5M-3.5 3L3.5 3M-2.8 5.2L2.8 5.2" stroke="#222" stroke-width="0.8" fill="none"/></g>
<g transform="translate(720.6 369.5) rotate(3) scale(1.1)"><path d="M0 -9.5C4 -9.5 5 -3 4.2 2C3.5 6 1.5 8.5 0 9C-1.5 8.5 -3.5 6 -4.2 2C-5 -3 -4 -9.5 0 -9.5Z" fill="#fff"/><path d="M-2 7.5L2 7.5L1.5 12L1.2 13L1.2 20.5L0.4 22L0.3 30L-0.3 30L-0.4 22L-1.2 20.5L-1.2 13L-1.5 12Z" fill="#111"/><path d="M-3.8 -5L-7.5 -6.5M3.8 -6L8 -8.5L10.5 -7.5M-3.5 3L3.5 3M-2.8 5.2L2.8 5.2" stroke="#222" stroke-width="0.8" fill="none"/></g>
<g transform="translate(761.2 373.6) rotate(-14) scale(0.5)"><path d="M0 -9.5C4 -9.5 5 -3 4.2 2C3.5 6 1.5 8.5 0 9C-1.5 8.5 -3.5 6 -4.2 2C-5 -3 -4 -9.5 0 -9.5Z" fill="#fff"/><path d="M-2 7.5L2 7.5L1.5 12L1.2 13L1.2 20.5L0.4 22L0.3 30L-0.3 30L-0.4 22L-1.2 20.5L-1.2 13L-1.5 12Z" fill="#111"/><path d="M-3.8 -5L-7.5 -6.5M3.8 -6L8 -8.5L10.5 -7.5M-3.5 3L3.5 3M-2.8 5.2L2.8 5.2" stroke="#222" stroke-width="0.8" fill="none"/></g>
<g transform="translate(634.5 564.6) rotate(2) scale(1)"><path d="M0 -9.5C4 -9.5 5 -3 4.2 2C3.5 6 1.5 8.5 0 9C-1.5 8.5 -3.5 6 -4.2 2C-5 -3 -4 -9.5 0 -9.5Z" fill="#fff"/><path d="M-2 7.5L2 7.5L1.5 12L1.2 13L1.2 20.5L0.4 22L0.3 30L-0.3 30L-0.4 22L-1.2 20.5L-1.2 13L-1.5 12Z" fill="#111"/><path d="M-3.8 -5L-7.5 -6.5M3.8 -6L8 -8.5L10.5 -7.5M-3.5 3L3.5 3M-2.8 5.2L2.8 5.2" stroke="#222" stroke-width="0.8" fill="none"/></g>
<g transform="translate(696.2 573.3) rotate(3) scale(1.1)"><path d="M0 -9.5C4 -9.5 5 -3 4.2 2C3.5 6 1.5 8.5 0 9C-1.5 8.5 -3.5 6 -4.2 2C-5 -3 -4 -9.5 0 -9.5Z" fill="#fff"/><path d="M-2 7.5L2 7.5L1.5 12L1.2 13L1.2 20.5L0.4 22L0.3 30L-0.3 30L-0.4 22L-1.2 20.5L-1.2 13L-1.5 12Z" fill="#111"/><path d="M-3.8 -5L-7.5 -6.5M3.8 -6L8 -8.5L10.5 -7.5M-3.5 3L3.5 3M-2.8 5.2L2.8 5.2" stroke="#222" stroke-width="0.8" fill="none"/></g>
<g transform="translate(377 265.3) rotate(93.7) scale(1 -1)"><path d="M-3 -1C-2 -3.6 3 -4.2 8 -2.4C14 -0.6 22 1.3 30 1.1C36 0.9 41 0.1 45.5 -0.9L45 1.1C40 2.8 35 3.8 29 4C21 4.2 13 3.6 8 3.4C4 4.4 -1 4 -3 2Z" fill="#111"/><path d="M11 1C17 2.4 24 3.1 31 2.7C36 2.4 40 1.6 43 0.9" stroke="#fff" stroke-width="1.3" stroke-dasharray="2.6 1.4" fill="none"/><path d="M1 3L0.5 8L3 6.5L4.5 11M5 3.5L7 8.5L9 7M8.5 3.4L11 6.5" stroke="#111" stroke-width="1.5" stroke-linecap="round" fill="none"/></g>
<g transform="translate(305.8 342.5) rotate(123.4) scale(0.8 -0.8)"><path d="M-3 -1C-2 -3.6 3 -4.2 8 -2.4C14 -0.6 22 1.3 30 1.1C36 0.9 41 0.1 45.5 -0.9L45 1.1C40 2.8 35 3.8 29 4C21 4.2 13 3.6 8 3.4C4 4.4 -1 4 -3 2Z" fill="#111"/><path d="M11 1C17 2.4 24 3.1 31 2.7C36 2.4 40 1.6 43 0.9" stroke="#fff" stroke-width="1.3" stroke-dasharray="2.6 1.4" fill="none"/><path d="M1 3L0.5 8L3 6.5L4.5 11M5 3.5L7 8.5L9 7M8.5 3.4L11 6.5" stroke="#111" stroke-width="1.5" stroke-linecap="round" fill="none"/></g>
<g transform="translate(371.9 445.7) rotate(-177.2) scale(1 -1)"><path d="M-3 -1C-2 -3.6 3 -4.2 8 -2.4C14 -0.6 22 1.3 30 1.1C36 0.9 41 0.1 45.5 -0.9L45 1.1C40 2.8 35 3.8 29 4C21 4.2 13 3.6 8 3.4C4 4.4 -1 4 -3 2Z" fill="#111"/><path d="M11 1C17 2.4 24 3.1 31 2.7C36 2.4 40 1.6 43 0.9" stroke="#fff" stroke-width="1.3" stroke-dasharray="2.6 1.4" fill="none"/><path d="M1 3L0.5 8L3 6.5L4.5 11M5 3.5L7 8.5L9 7M8.5 3.4L11 6.5" stroke="#111" stroke-width="1.5" stroke-linecap="round" fill="none"/></g>
<g transform="translate(474.9 404.3) rotate(94.5) scale(1 -1)"><path d="M-3 -1C-2 -3.6 3 -4.2 8 -2.4C14 -0.6 22 1.3 30 1.1C36 0.9 41 0.1 45.5 -0.9L45 1.1C40 2.8 35 3.8 29 4C21 4.2 13 3.6 8 3.4C4 4.4 -1 4 -3 2Z" fill="#111"/><path d="M11 1C17 2.4 24 3.1 31 2.7C36 2.4 40 1.6 43 0.9" stroke="#fff" stroke-width="1.3" stroke-dasharray="2.6 1.4" fill="none"/><path d="M1 3L0.5 8L3 6.5L4.5 11M5 3.5L7 8.5L9 7M8.5 3.4L11 6.5" stroke="#111" stroke-width="1.5" stroke-linecap="round" fill="none"/></g>
<g transform="translate(763.4 211) rotate(91.8) scale(1 -1)"><path d="M-3 -1C-2 -3.6 3 -4.2 8 -2.4C14 -0.6 22 1.3 30 1.1C36 0.9 41 0.1 45.5 -0.9L45 1.1C40 2.8 35 3.8 29 4C21 4.2 13 3.6 8 3.4C4 4.4 -1 4 -3 2Z" fill="#111"/><path d="M11 1C17 2.4 24 3.1 31 2.7C36 2.4 40 1.6 43 0.9" stroke="#fff" stroke-width="1.3" stroke-dasharray="2.6 1.4" fill="none"/><path d="M1 3L0.5 8L3 6.5L4.5 11M5 3.5L7 8.5L9 7M8.5 3.4L11 6.5" stroke="#111" stroke-width="1.5" stroke-linecap="round" fill="none"/></g>
<g transform="translate(707.4 362.7) rotate(124.2) scale(1 -1)"><path d="M-3 -1C-2 -3.6 3 -4.2 8 -2.4C14 -0.6 22 1.3 30 1.1C36 0.9 41 0.1 45.5 -0.9L45 1.1C40 2.8 35 3.8 29 4C21 4.2 13 3.6 8 3.4C4 4.4 -1 4 -3 2Z" fill="#111"/><path d="M11 1C17 2.4 24 3.1 31 2.7C36 2.4 40 1.6 43 0.9" stroke="#fff" stroke-width="1.3" stroke-dasharray="2.6 1.4" fill="none"/><path d="M1 3L0.5 8L3 6.5L4.5 11M5 3.5L7 8.5L9 7M8.5 3.4L11 6.5" stroke="#111" stroke-width="1.5" stroke-linecap="round" fill="none"/></g>
<g transform="translate(711.8 435.4) rotate(-177.8) scale(0.8 -0.8)"><path d="M-3 -1C-2 -3.6 3 -4.2 8 -2.4C14 -0.6 22 1.3 30 1.1C36 0.9 41 0.1 45.5 -0.9L45 1.1C40 2.8 35 3.8 29 4C21 4.2 13 3.6 8 3.4C4 4.4 -1 4 -3 2Z" fill="#111"/><path d="M11 1C17 2.4 24 3.1 31 2.7C36 2.4 40 1.6 43 0.9" stroke="#fff" stroke-width="1.3" stroke-dasharray="2.6 1.4" fill="none"/><path d="M1 3L0.5 8L3 6.5L4.5 11M5 3.5L7 8.5L9 7M8.5 3.4L11 6.5" stroke="#111" stroke-width="1.5" stroke-linecap="round" fill="none"/></g>
<g transform="translate(663.5 555.6) rotate(123.2) scale(1 -1)"><path d="M-3 -1C-2 -3.6 3 -4.2 8 -2.4C14 -0.6 22 1.3 30 1.1C36 0.9 41 0.1 45.5 -0.9L45 1.1C40 2.8 35 3.8 29 4C21 4.2 13 3.6 8 3.4C4 4.4 -1 4 -3 2Z" fill="#111"/><path d="M11 1C17 2.4 24 3.1 31 2.7C36 2.4 40 1.6 43 0.9" stroke="#fff" stroke-width="1.3" stroke-dasharray="2.6 1.4" fill="none"/><path d="M1 3L0.5 8L3 6.5L4.5 11M5 3.5L7 8.5L9 7M8.5 3.4L11 6.5" stroke="#111" stroke-width="1.5" stroke-linecap="round" fill="none"/></g>
<g transform="translate(727.5 578.8) rotate(153.4) scale(1 -1)"><path d="M-3 -1C-2 -3.6 3 -4.2 8 -2.4C14 -0.6 22 1.3 30 1.1C36 0.9 41 0.1 45.5 -0.9L45 1.1C40 2.8 35 3.8 29 4C21 4.2 13 3.6 8 3.4C4 4.4 -1 4 -3 2Z" fill="#111"/><path d="M11 1C17 2.4 24 3.1 31 2.7C36 2.4 40 1.6 43 0.9" stroke="#fff" stroke-width="1.3" stroke-dasharray="2.6 1.4" fill="none"/><path d="M1 3L0.5 8L3 6.5L4.5 11M5 3.5L7 8.5L9 7M8.5 3.4L11 6.5" stroke="#111" stroke-width="1.5" stroke-linecap="round" fill="none"/></g>
</g></g>
<g transform="translate(636 4)">
<rect x="225.3" y="124" width="618.7" height="604.8" fill="url(#brick)" filter="url(#soft)"/>
<g clip-path="url(#clipc)">
<g fill="#1c3a47" stroke="#1c3a47" stroke-width="1.5" stroke-linejoin="round"><use href="#cav"/><use href="#mainb"/><use href="#stars"/></g>
<g fill="#fff" filter="url(#ero)"><use href="#cav"/><use href="#mainb"/></g>
<g mask="url(#mcavonly)" fill="#1eaeca"><path d="M340.9 313.7C342.5 306.5 346.4 317.4 350.2 319.5C354.1 321.6 358.8 324.5 364.2 326.5C369.6 328.4 378.1 331.3 382.8 331.1C387.4 330.9 389.2 328.2 392.1 325.3C395 322.4 397.9 307.5 400.2 313.7C402.6 319.9 415.9 354.4 406 362.5C396.2 370.7 351.8 370.7 340.9 362.5C330.1 354.4 339.4 320.8 340.9 313.7Z"/><path d="M284 425.3C286.5 421.8 296.6 421.8 299.1 425.3C301.6 428.8 301.6 442.7 299.1 446.2C296.6 449.7 286.5 449.7 284 446.2C281.4 442.7 281.4 428.8 284 425.3Z"/><path d="M220 452.6C230.9 449.3 274.2 459.1 285.1 454.9C296 450.6 283.3 431.6 285.6 427C287.9 422.3 296.8 422.7 299.1 427C301.3 431.2 296 446.4 299.1 452.6C302.2 458.8 315.3 460.5 317.7 464.2C320 467.9 329.3 472.9 313 474.7C296.7 476.4 235.5 478.3 220 474.7C204.5 471 209.1 455.9 220 452.6Z"/><path d="M325.8 485.8C328.3 482.3 335.3 490.7 340.9 492.1C346.6 493.5 353.9 495.3 359.5 494.4C365.2 493.6 371.2 483.9 374.7 487C378.1 490.1 388.6 508.7 380.5 513C372.3 517.4 334.9 517.6 325.8 513C316.7 508.5 323.3 489.3 325.8 485.8Z"/><path d="M289.8 653.7C292.3 653.5 296.7 658.6 301.4 660.7C306 662.8 312.2 665.3 317.7 666.5C323.1 667.7 328.5 668.8 334 667.7C339.4 666.5 346 662.1 350.2 659.5C354.5 657 359.5 649.1 359.5 652.6C359.5 656 357.2 675.8 350.2 680.5C343.3 685.1 328.5 671.7 317.7 680.5C306.8 689.2 294 724.1 285.1 732.8C276.2 741.5 261.9 742.3 264.2 732.8C266.5 723.3 295.4 687.6 299.1 675.8C302.8 664 287.8 665.5 286.3 661.9C284.7 658.2 287.2 653.9 289.8 653.7Z"/><path d="M745.1 306.5C745.1 303.8 756.6 301.9 762.6 299.1C768.6 296.3 775.9 292.9 781.2 289.8C786.4 286.6 790.9 277.3 794 280C797.1 282.7 805 300.2 799.8 306C794.5 311.9 771.7 315.3 762.6 315.3C753.4 315.4 745.1 309.2 745.1 306.5Z"/><path d="M632.3 259.1C635 257.1 650.9 257.1 653.3 259.1C655.6 261.1 649 269.1 646.3 271.2C643.6 273.2 639.3 273.2 637 271.2C634.7 269.1 629.6 261.1 632.3 259.1Z"/><path d="M611.4 418.8C616.4 414.2 631.9 420.2 641.6 422.3C651.3 424.5 661 428.7 669.5 431.6C678.1 434.6 688.9 436.9 692.8 440C696.7 443.1 706.4 448.5 692.8 450.2C679.2 451.9 625 455.5 611.4 450.2C597.8 445 606.4 423.5 611.4 418.8Z"/><path d="M609.1 413C612.2 407.9 631.6 420.7 641.6 424.2C651.7 427.7 661 431.2 669.5 434C678.1 436.7 685 439.4 692.8 440.9C700.5 442.5 708.3 442.9 716 443.3C723.8 443.6 731.6 443.8 739.3 442.8C747.1 441.8 755.2 440.1 762.6 437.4C769.9 434.8 778.6 430.7 783.5 427C788.3 423.3 779.6 408.8 791.6 415.3C803.6 421.9 844.9 448.3 855.6 466.5C866.2 484.7 878.8 520.8 855.6 524.7C832.3 528.5 754.8 501.4 716 489.8C677.3 478.1 640.9 467.7 623 454.9C605.2 442.1 606 418.1 609.1 413Z"/><path d="M527.7 584C530.4 581.6 537.8 584.9 544 587.4C550.2 590 557.5 596 564.9 599.1C572.2 602.2 578.4 604.8 588.1 606C597.8 607.3 611.4 606.5 623 606.5C634.7 606.5 646.3 606.1 657.9 606C669.5 606 681.9 607.3 692.8 606C703.6 604.8 715.3 600.9 723 598.6C730.8 596.3 728.8 587.8 739.3 592.1C749.8 596.4 781.9 617.5 785.8 624.7C789.7 631.8 767 634.3 762.6 635.1C758.1 635.9 760.8 630.3 759.1 629.3C757.3 628.3 753.8 628.3 752.1 629.3C750.3 630.3 766.2 635.1 748.6 635.1C731 635.1 683.1 634.9 646.3 629.3C609.5 623.7 547.4 609 527.7 601.4C507.9 593.8 525 586.3 527.7 584Z"/><path d="M702.1 699.1C703.6 693.6 709.8 693.6 711.4 699.1C712.9 704.5 712.9 726.2 711.4 731.6C709.8 737.1 703.6 737.1 702.1 731.6C700.5 726.2 700.5 704.5 702.1 699.1Z"/><path d="M500.3 254.4 L516.3 258.1 L516.3 267.1 L500.3 268.5Z"/><path d="M461.8 250.8 L470.5 254.4 L470.5 261 L461.8 262.4Z"/><path d="M501.4 574.7 L511.2 575.3 L511.2 588.6 L501.4 589.3Z"/><path d="M499.1 694.4 L507.2 695.6 L507.2 702.6 L499.1 702.6Z"/></g>
<g fill="#1eaeca" filter="url(#ero)"><use href="#mainb"/><use href="#stars"/></g>
<g mask="url(#mcav)"><g fill="#0b879f" stroke="#075f75" stroke-width="1.1"><circle cx="711.2" cy="461.5" r="3.6"/><circle cx="714.1" cy="468.9" r="2.1"/><circle cx="676.9" cy="449.4" r="3.3"/><circle cx="725.3" cy="466.3" r="2"/><circle cx="733.9" cy="448.2" r="2.6"/><circle cx="696.7" cy="466" r="2.1"/><circle cx="723.1" cy="449.3" r="2.3"/><circle cx="719.2" cy="457.9" r="3.5"/><circle cx="682.2" cy="459.7" r="2.3"/><circle cx="732.8" cy="457.1" r="3.6"/><circle cx="748.4" cy="451.1" r="2.8"/><circle cx="694.9" cy="459.1" r="3.3"/><circle cx="656.5" cy="441.7" r="2.2"/><circle cx="683.6" cy="447.1" r="2.2"/><circle cx="700.8" cy="448.6" r="2.5"/><circle cx="740.7" cy="452.4" r="2"/><circle cx="743.4" cy="444.9" r="2.5"/><circle cx="709.8" cy="446.2" r="2.1"/><circle cx="667.8" cy="444.2" r="3.4"/><circle cx="689.5" cy="448.6" r="2.1"/><circle cx="658.9" cy="434.4" r="2.5"/><circle cx="673.7" cy="437.9" r="2.7"/><circle cx="647.3" cy="433" r="2.5"/><circle cx="737.6" cy="471.1" r="3.1"/><circle cx="703.4" cy="460.2" r="2.5"/><circle cx="687.2" cy="442.3" r="2.1"/><circle cx="740.2" cy="460.2" r="2.6"/><circle cx="660.7" cy="446.8" r="2.6"/><circle cx="709" cy="454.4" r="2.2"/><circle cx="693.6" cy="452.3" r="2.1"/><circle cx="752.3" cy="442" r="3.3"/><circle cx="731.3" cy="465.5" r="2"/><circle cx="720.8" cy="470.5" r="2.1"/><circle cx="686.8" cy="454" r="2.3"/><circle cx="678.9" cy="442" r="2.1"/><circle cx="730.1" cy="472.1" r="2.9"/><circle cx="715.1" cy="450.9" r="2.4"/><circle cx="652.7" cy="438" r="2.1"/><circle cx="695" cy="443.6" r="2.5"/><circle cx="704.1" cy="466.5" r="2.2"/><circle cx="665.9" cy="611.3" r="2.9"/><circle cx="610.4" cy="611.8" r="3.8"/><circle cx="621.9" cy="607.8" r="4.2"/><circle cx="643.9" cy="608.7" r="3.6"/><circle cx="657.6" cy="607.8" r="2.7"/><circle cx="680.1" cy="618" r="2.4"/><circle cx="633" cy="611.4" r="2.2"/><circle cx="653.3" cy="613.3" r="2"/><circle cx="591.1" cy="609.5" r="2.2"/><circle cx="689.2" cy="618.7" r="2.9"/><circle cx="673.3" cy="613.6" r="2.9"/><circle cx="685.7" cy="609.2" r="4"/><circle cx="577.2" cy="606" r="2.5"/><circle cx="602.6" cy="608.8" r="2.1"/><circle cx="583.9" cy="607.9" r="2.6"/><circle cx="597.5" cy="609.6" r="2"/><circle cx="290.4" cy="435.3" r="3.4"/><circle cx="304.4" cy="463.9" r="2"/><circle cx="297.9" cy="463.6" r="2"/><circle cx="293" cy="459.4" r="2.2"/><circle cx="286.5" cy="443.4" r="2.3"/><circle cx="294.1" cy="444.5" r="2.9"/><circle cx="285.4" cy="462.9" r="2.1"/><circle cx="276" cy="457.3" r="3.1"/><circle cx="287.3" cy="456.1" r="2.9"/><circle cx="300.9" cy="456.3" r="2"/><circle cx="311.5" cy="465.4" r="2.5"/><circle cx="293.8" cy="451.5" r="2.3"/><circle cx="285.4" cy="429.9" r="2.3"/><circle cx="293.8" cy="427.5" r="2.1"/><circle cx="290.4" cy="466.6" r="2.1"/><circle cx="348.8" cy="500.6" r="2.7"/><circle cx="341.2" cy="501.7" r="2.1"/><circle cx="357.1" cy="508.1" r="2"/><circle cx="371.5" cy="496.7" r="2.7"/><circle cx="355.8" cy="495.8" r="3.9"/><circle cx="334.4" cy="497.3" r="2.2"/><circle cx="350.9" cy="508.1" r="2.4"/><circle cx="341.1" cy="492.9" r="2"/><circle cx="363.3" cy="503.4" r="3.8"/><circle cx="341.7" cy="508.4" r="2.4"/><circle cx="334.6" cy="491" r="2"/><circle cx="373" cy="489.7" r="2.5"/><circle cx="317.4" cy="671.6" r="2.4"/><circle cx="310.4" cy="667.5" r="3"/><circle cx="331.7" cy="671.4" r="2.9"/><circle cx="312.3" cy="675.3" r="2.1"/><circle cx="323.3" cy="668.6" r="2"/><circle cx="787.3" cy="287.9" r="3"/><circle cx="764.9" cy="303.8" r="2.4"/><circle cx="772.8" cy="302.3" r="4"/><circle cx="755.2" cy="305.7" r="2.2"/><circle cx="782.2" cy="295.5" r="2.4"/><circle cx="355.7" cy="324.9" r="2.4"/><circle cx="373.9" cy="344.7" r="2"/><circle cx="375.5" cy="354.1" r="3.6"/><circle cx="379.2" cy="345.5" r="2"/><circle cx="357.2" cy="333.7" r="3"/><circle cx="375.1" cy="332.8" r="3.8"/><circle cx="387.8" cy="343.7" r="2.3"/><circle cx="364.2" cy="328" r="4.1"/><circle cx="386" cy="334.4" r="3.3"/><circle cx="363.1" cy="339.6" r="2.7"/><circle cx="365.5" cy="348.1" r="2.1"/><circle cx="384.6" cy="351.6" r="3.2"/><circle cx="393.1" cy="327.6" r="3.8"/><circle cx="380.9" cy="340.1" r="2.4"/><circle cx="468" cy="466.7" r="3.6"/><circle cx="469.3" cy="432.3" r="2.6"/><circle cx="469.2" cy="387.8" r="3.3"/><circle cx="489.4" cy="398.9" r="1.9"/><circle cx="494" cy="304.9" r="1.8"/><circle cx="510.2" cy="217.2" r="1.7"/><circle cx="483.4" cy="375.1" r="1.7"/><circle cx="493.7" cy="266.3" r="3.2"/><circle cx="482.7" cy="290.4" r="1.8"/><circle cx="495.3" cy="141.7" r="1.8"/><circle cx="478.9" cy="660.3" r="2.7"/><circle cx="480.2" cy="183.3" r="2.1"/><circle cx="492.3" cy="483" r="1.7"/><circle cx="493.3" cy="733.4" r="1.6"/><circle cx="477.5" cy="584" r="3.5"/><circle cx="497" cy="561.9" r="3.2"/><circle cx="513.7" cy="672.7" r="2.2"/><circle cx="498.4" cy="115.9" r="2.6"/><circle cx="470.9" cy="248.6" r="2.9"/><circle cx="472.6" cy="502.9" r="3.5"/><circle cx="491" cy="230.3" r="1.8"/><circle cx="512.8" cy="312.6" r="2.8"/><circle cx="522" cy="395.7" r="1.6"/><circle cx="468.2" cy="112.6" r="3.3"/><circle cx="488.7" cy="630.5" r="3.7"/><circle cx="494.7" cy="214.7" r="1.9"/><circle cx="502.6" cy="696" r="1.7"/><circle cx="503.1" cy="721.1" r="2.3"/><circle cx="457.4" cy="151" r="2.2"/><circle cx="502.2" cy="189.2" r="1.7"/><circle cx="464" cy="729.5" r="3.6"/><circle cx="470.4" cy="306.1" r="1.8"/><circle cx="484.9" cy="708.6" r="1.7"/><circle cx="466.4" cy="344.9" r="2.2"/><circle cx="463.2" cy="225.3" r="1.7"/><circle cx="441.7" cy="344.8" r="1.7"/><circle cx="459.1" cy="285.3" r="2.8"/><circle cx="461.6" cy="690.2" r="3"/><circle cx="476" cy="756.5" r="3.6"/><circle cx="477.1" cy="144.2" r="1.7"/><circle cx="490.8" cy="460.6" r="2.7"/><circle cx="459.5" cy="528.8" r="3.8"/><circle cx="466.5" cy="627.7" r="2"/><circle cx="433.5" cy="525" r="3.1"/><circle cx="439.4" cy="597.5" r="2"/><circle cx="458.5" cy="550.9" r="1.7"/><circle cx="455.7" cy="643.4" r="1.7"/><circle cx="509.1" cy="366.9" r="2.2"/><circle cx="473.1" cy="358.8" r="1.6"/><circle cx="479.7" cy="694.1" r="1.7"/><circle cx="458.2" cy="483.7" r="1.6"/><circle cx="485.2" cy="444" r="1.9"/><circle cx="500.5" cy="439.9" r="1.6"/><circle cx="495.8" cy="537.1" r="1.7"/><circle cx="506.6" cy="737.4" r="2"/><circle cx="485.2" cy="420.9" r="2.5"/><circle cx="467.9" cy="607.2" r="2.3"/><circle cx="462.2" cy="134.3" r="2.5"/><circle cx="486.9" cy="330.5" r="1.9"/><circle cx="456" cy="587" r="1.8"/><circle cx="439.9" cy="166.2" r="1.7"/><circle cx="516.9" cy="196.7" r="2.3"/><circle cx="497" cy="751" r="2.2"/><circle cx="451.8" cy="610.7" r="1.9"/><circle cx="464.4" cy="417.8" r="1.6"/><circle cx="508.1" cy="404" r="1.8"/><circle cx="505" cy="296.9" r="1.9"/><circle cx="465.9" cy="166.7" r="2.3"/><circle cx="448.3" cy="502.2" r="1.8"/><circle cx="497.4" cy="669.3" r="2.1"/><circle cx="502.7" cy="495.3" r="1.6"/><circle cx="484.7" cy="531.7" r="1.7"/><circle cx="486.4" cy="128" r="1.8"/><circle cx="451.1" cy="171.8" r="1.6"/><circle cx="433.8" cy="507" r="1.7"/><circle cx="485.4" cy="354.2" r="1.9"/><circle cx="471.1" cy="644.5" r="1.9"/><circle cx="474.7" cy="213.6" r="2"/><circle cx="479.2" cy="548.7" r="2.9"/><circle cx="443" cy="540.4" r="1.7"/><circle cx="471.3" cy="271.5" r="1.7"/><circle cx="451.4" cy="334" r="1.9"/><circle cx="482" cy="155.4" r="1.7"/><circle cx="471.7" cy="328.6" r="1.7"/><circle cx="452.7" cy="428.6" r="1.6"/><circle cx="482.9" cy="98" r="2"/><circle cx="495.9" cy="683" r="1.6"/><circle cx="479.3" cy="318.8" r="1.7"/><circle cx="492.9" cy="650.6" r="1.6"/><circle cx="490.2" cy="246.7" r="1.8"/><circle cx="462.2" cy="570" r="1.7"/><circle cx="478.8" cy="233.1" r="1.6"/><circle cx="504" cy="203.6" r="1.7"/><circle cx="483.6" cy="677.2" r="1.7"/><circle cx="496" cy="287.3" r="1.7"/><circle cx="502.3" cy="425.7" r="2"/><circle cx="499.6" cy="582.5" r="1.7"/><circle cx="506.5" cy="388.6" r="2.3"/><circle cx="484.1" cy="200.2" r="2.3"/><circle cx="470.7" cy="708.5" r="2.1"/><circle cx="455.8" cy="355.2" r="1.7"/><circle cx="473.9" cy="405.4" r="1.6"/><circle cx="460.4" cy="448.7" r="1.6"/><circle cx="496.3" cy="318.8" r="1.7"/><circle cx="478.9" cy="484.2" r="1.7"/><circle cx="455.8" cy="749.5" r="1.8"/><circle cx="496.6" cy="99.1" r="1.6"/><circle cx="482.9" cy="722.7" r="1.6"/></g></g>
<g fill="#8d9499" stroke="#6f767c" stroke-width="0.8"><circle cx="428.1" cy="253.7" r="3"/><circle cx="410.7" cy="261.8" r="2.6"/><circle cx="403.3" cy="280" r="2.3"/><circle cx="397.9" cy="307.2" r="2.6"/><circle cx="353.7" cy="316" r="2.6"/><circle cx="361.9" cy="320.7" r="2.1"/><circle cx="373.5" cy="325.3" r="2.3"/><circle cx="382.8" cy="328.8" r="2.8"/><circle cx="390.9" cy="326.5" r="2.1"/><circle cx="294" cy="413.7" r="2.6"/><circle cx="534" cy="416" r="3"/><circle cx="609.1" cy="254.9" r="2.1"/><circle cx="617.2" cy="254.4" r="1.9"/><circle cx="656.7" cy="255.6" r="2.1"/><circle cx="688.8" cy="256" r="2.1"/><circle cx="700.9" cy="256.7" r="2.3"/><circle cx="720.7" cy="257.7" r="2.3"/><circle cx="731.9" cy="266.5" r="3"/><circle cx="642.8" cy="273.5" r="2.1"/><circle cx="533.5" cy="415.8" r="3"/><circle cx="571.9" cy="411.9" r="2.6"/><circle cx="602.1" cy="412.6" r="2.6"/><circle cx="781.2" cy="424.7" r="2.1"/><circle cx="771.9" cy="434" r="2.3"/><circle cx="749.8" cy="437.4" r="2.1"/><circle cx="270" cy="632.1" r="2.3"/><circle cx="282.8" cy="633.5" r="2.1"/><circle cx="297.9" cy="657.2" r="2.6"/><circle cx="307.9" cy="658.4" r="2.6"/><circle cx="315.8" cy="659.1" r="2.3"/><circle cx="324.7" cy="656" r="2.1"/><circle cx="325.8" cy="663.7" r="2.8"/><circle cx="334" cy="664.2" r="2.3"/><circle cx="342.1" cy="660.7" r="2.8"/><circle cx="350.7" cy="656" r="3"/><circle cx="378.8" cy="646.7" r="2.6"/><circle cx="402.1" cy="645.6" r="2.3"/><circle cx="414.2" cy="640.5" r="2.6"/><circle cx="436.3" cy="639.8" r="2.1"/><circle cx="335.8" cy="487.9" r="4"/><circle cx="363.5" cy="489.3" r="2.8"/><circle cx="394.4" cy="468.1" r="2.6"/><circle cx="420.5" cy="465.8" r="3"/><circle cx="554.4" cy="586.3" r="2.6"/><circle cx="574.2" cy="587" r="1.9"/><circle cx="560.2" cy="592.1" r="2.3"/><circle cx="589.3" cy="593.3" r="2.3"/><circle cx="609.1" cy="602.6" r="3.3"/><circle cx="624.9" cy="598.6" r="2.1"/><circle cx="637.4" cy="605.3" r="1.9"/><circle cx="691.2" cy="696" r="1.9"/><circle cx="704.4" cy="695.6" r="2.1"/><circle cx="714.9" cy="695.1" r="2.3"/><circle cx="709.1" cy="699.1" r="2.6"/></g>
<g transform="translate(470.2 141.1) rotate(3) scale(1.1)"><path d="M0 -9.5C4 -9.5 5 -3 4.2 2C3.5 6 1.5 8.5 0 9C-1.5 8.5 -3.5 6 -4.2 2C-5 -3 -4 -9.5 0 -9.5Z" fill="#fff"/><path d="M-2 7.5L2 7.5L1.5 12L1.2 13L1.2 20.5L0.4 22L0.3 30L-0.3 30L-0.4 22L-1.2 20.5L-1.2 13L-1.5 12Z" fill="#111"/><path d="M-3.8 -5L-7.5 -6.5M3.8 -6L8 -8.5L10.5 -7.5M-3.5 3L3.5 3M-2.8 5.2L2.8 5.2" stroke="#222" stroke-width="0.8" fill="none"/></g>
<g transform="translate(487.9 218.8) rotate(20) scale(0.9)"><path d="M0 -13C5.5 -13 7.5 -6 5.5 0L1.5 11.5L0 14L-1.5 11.5L-5.5 0C-7.5 -6 -5.5 -13 0 -13Z" fill="#fff"/><path d="M-3.6 5.5L3.6 5.5L0.6 13.5L-0.6 13.5Z" fill="#111"/><path d="M-5 1.5L5 1.5M-4.4 3.6L4.4 3.6M-5.8 -3C-4 -1 -2 -1.5 -1 -3" stroke="#222" stroke-width="0.8" fill="none"/></g>
<g transform="translate(497.9 293.9) rotate(122.5) scale(1 -1)"><path d="M-3 -1C-2 -3.6 3 -4.2 8 -2.4C14 -0.6 22 1.3 30 1.1C36 0.9 41 0.1 45.5 -0.9L45 1.1C40 2.8 35 3.8 29 4C21 4.2 13 3.6 8 3.4C4 4.4 -1 4 -3 2Z" fill="#111"/><path d="M11 1C17 2.4 24 3.1 31 2.7C36 2.4 40 1.6 43 0.9" stroke="#fff" stroke-width="1.3" stroke-dasharray="2.6 1.4" fill="none"/><path d="M1 3L0.5 8L3 6.5L4.5 11M5 3.5L7 8.5L9 7M8.5 3.4L11 6.5" stroke="#111" stroke-width="1.5" stroke-linecap="round" fill="none"/></g>
<g transform="translate(489.8 433.5) rotate(20) scale(0.9)"><path d="M0 -9.5C4 -9.5 5 -3 4.2 2C3.5 6 1.5 8.5 0 9C-1.5 8.5 -3.5 6 -4.2 2C-5 -3 -4 -9.5 0 -9.5Z" fill="#fff"/><path d="M-2 7.5L2 7.5L1.5 12L1.2 13L1.2 20.5L0.4 22L0.3 30L-0.3 30L-0.4 22L-1.2 20.5L-1.2 13L-1.5 12Z" fill="#111"/><path d="M-3.8 -5L-7.5 -6.5M3.8 -6L8 -8.5L10.5 -7.5M-3.5 3L3.5 3M-2.8 5.2L2.8 5.2" stroke="#222" stroke-width="0.8" fill="none"/></g>
<g transform="translate(444.4 520) rotate(27) scale(0.9)"><path d="M0 -13C5.5 -13 7.5 -6 5.5 0L1.5 11.5L0 14L-1.5 11.5L-5.5 0C-7.5 -6 -5.5 -13 0 -13Z" fill="#fff"/><path d="M-3.6 5.5L3.6 5.5L0.6 13.5L-0.6 13.5Z" fill="#111"/><path d="M-5 1.5L5 1.5M-4.4 3.6L4.4 3.6M-5.8 -3C-4 -1 -2 -1.5 -1 -3" stroke="#222" stroke-width="0.8" fill="none"/></g>
<g transform="translate(499.1 559.5) rotate(-139.2) scale(1 -1)"><path d="M-3 -1C-2 -3.6 3 -4.2 8 -2.4C14 -0.6 22 1.3 30 1.1C36 0.9 41 0.1 45.5 -0.9L45 1.1C40 2.8 35 3.8 29 4C21 4.2 13 3.6 8 3.4C4 4.4 -1 4 -3 2Z" fill="#111"/><path d="M11 1C17 2.4 24 3.1 31 2.7C36 2.4 40 1.6 43 0.9" stroke="#fff" stroke-width="1.3" stroke-dasharray="2.6 1.4" fill="none"/><path d="M1 3L0.5 8L3 6.5L4.5 11M5 3.5L7 8.5L9 7M8.5 3.4L11 6.5" stroke="#111" stroke-width="1.5" stroke-linecap="round" fill="none"/></g>
<g transform="translate(467 635.8) rotate(-37) scale(0.8)"><path d="M0 -9.5C4 -9.5 5 -3 4.2 2C3.5 6 1.5 8.5 0 9C-1.5 8.5 -3.5 6 -4.2 2C-5 -3 -4 -9.5 0 -9.5Z" fill="#fff"/><path d="M-2 7.5L2 7.5L1.5 12L1.2 13L1.2 20.5L0.4 22L0.3 30L-0.3 30L-0.4 22L-1.2 20.5L-1.2 13L-1.5 12Z" fill="#111"/><path d="M-3.8 -5L-7.5 -6.5M3.8 -6L8 -8.5L10.5 -7.5M-3.5 3L3.5 3M-2.8 5.2L2.8 5.2" stroke="#222" stroke-width="0.8" fill="none"/></g>
<g transform="translate(485.1 714.2) rotate(10) scale(1)"><path d="M0 -13C5.5 -13 7.5 -6 5.5 0L1.5 11.5L0 14L-1.5 11.5L-5.5 0C-7.5 -6 -5.5 -13 0 -13Z" fill="#fff"/><path d="M-3.6 5.5L3.6 5.5L0.6 13.5L-0.6 13.5Z" fill="#111"/><path d="M-5 1.5L5 1.5M-4.4 3.6L4.4 3.6M-5.8 -3C-4 -1 -2 -1.5 -1 -3" stroke="#222" stroke-width="0.8" fill="none"/></g>
</g></g>
<g transform="translate(1270 6)">
<rect x="224.6" y="125.6" width="618.9" height="601.7" fill="url(#brick)" filter="url(#soft)"/>
<g clip-path="url(#clipd)">
<g fill="#1c3a47" stroke="#1c3a47" stroke-width="1.5" stroke-linejoin="round"><use href="#cav"/><use href="#mainb"/><use href="#stars"/></g>
<g fill="#1eaeca" filter="url(#ero)"><use href="#cav"/><use href="#mainb"/><use href="#stars"/></g>
<g mask="url(#mcav)"><g fill="#0b879f" stroke="#075f75" stroke-width="1.1"><circle cx="289.9" cy="247" r="2.3"/><circle cx="303.1" cy="252.6" r="2"/><circle cx="309" cy="253.2" r="2.2"/><circle cx="284.7" cy="248.8" r="3.3"/><circle cx="301.4" cy="248.9" r="2.2"/><circle cx="311.9" cy="250.2" r="1.8"/><circle cx="293.8" cy="249.6" r="1.9"/><circle cx="290.1" cy="251.3" r="1.8"/><circle cx="306.6" cy="249.9" r="2"/><circle cx="297.4" cy="249.2" r="1.9"/><circle cx="377" cy="327.1" r="1.9"/><circle cx="378.7" cy="349.6" r="3"/><circle cx="341.3" cy="296.4" r="1.9"/><circle cx="353.9" cy="324" r="3.2"/><circle cx="356.9" cy="337.7" r="2.5"/><circle cx="394" cy="318.8" r="3.1"/><circle cx="372.9" cy="351.5" r="2.6"/><circle cx="386.9" cy="324.5" r="2"/><circle cx="389.9" cy="332.4" r="3.4"/><circle cx="360.9" cy="325.1" r="2.1"/><circle cx="370.9" cy="336.4" r="2.3"/><circle cx="366.8" cy="346.9" r="1.9"/><circle cx="343.3" cy="302.5" r="3.6"/><circle cx="379.2" cy="334.9" r="3.7"/><circle cx="376.8" cy="344.4" r="2"/><circle cx="365.9" cy="332.4" r="2.8"/><circle cx="391.3" cy="312.7" r="2.8"/><circle cx="347.8" cy="321" r="2.3"/><circle cx="369.6" cy="326.8" r="2.2"/><circle cx="382.7" cy="345.5" r="2.2"/><circle cx="383.8" cy="327.9" r="2.3"/><circle cx="380" cy="354.4" r="2.2"/><circle cx="388.5" cy="342.6" r="2.4"/><circle cx="401" cy="313.3" r="2.6"/><circle cx="402" cy="307.3" r="1.9"/><circle cx="352.1" cy="319.1" r="1.8"/><circle cx="374.7" cy="338.9" r="2.1"/><circle cx="344.8" cy="310.7" r="2.8"/><circle cx="389.3" cy="338.6" r="2"/><circle cx="345" cy="315.2" r="2.1"/><circle cx="395.8" cy="324.4" r="2.4"/><circle cx="337.1" cy="297.8" r="2.3"/><circle cx="386.9" cy="348.1" r="2.2"/><circle cx="383.5" cy="339.7" r="1.9"/><circle cx="362.8" cy="342.8" r="2.8"/><circle cx="372.7" cy="347.3" r="1.8"/><circle cx="360.3" cy="330.2" r="2.9"/><circle cx="373.7" cy="356.2" r="2.4"/><circle cx="370.9" cy="332.3" r="1.9"/><circle cx="362" cy="334.4" r="1.9"/><circle cx="373.8" cy="329.9" r="2"/><circle cx="396.1" cy="307.8" r="2.4"/><circle cx="349.2" cy="316.2" r="2"/><circle cx="370.8" cy="342.6" r="3.1"/><circle cx="388.4" cy="320.6" r="1.8"/><circle cx="399.1" cy="317.4" r="2.1"/><circle cx="366.6" cy="337.2" r="1.9"/><circle cx="365" cy="327.5" r="2.3"/><circle cx="391.8" cy="323.1" r="2"/><circle cx="353.4" cy="331.7" r="2.9"/><circle cx="390.2" cy="326.6" r="1.9"/><circle cx="385.1" cy="334.3" r="2.1"/><circle cx="367" cy="350.9" r="2"/><circle cx="362.6" cy="338.2" r="1.9"/><circle cx="349.6" cy="327.2" r="2"/><circle cx="428.4" cy="259.2" r="2.2"/><circle cx="418.7" cy="263.2" r="2.1"/><circle cx="412.8" cy="278.4" r="2.4"/><circle cx="437.3" cy="252.3" r="1.9"/><circle cx="419.2" cy="269.7" r="2.5"/><circle cx="440.8" cy="256.6" r="3.8"/><circle cx="448.1" cy="254.3" r="3.4"/><circle cx="412.2" cy="283.6" r="2.1"/><circle cx="414.8" cy="274.3" r="2.1"/><circle cx="406.3" cy="284.7" r="3"/><circle cx="428.2" cy="263.1" r="2"/><circle cx="400.4" cy="300.9" r="3.7"/><circle cx="406" cy="297.6" r="1.8"/><circle cx="410.9" cy="274" r="1.9"/><circle cx="403" cy="289.5" r="3.2"/><circle cx="405.5" cy="301.4" r="1.8"/><circle cx="432.3" cy="257.8" r="1.8"/><circle cx="433.3" cy="253.1" r="2.1"/><circle cx="423.4" cy="258.5" r="2"/><circle cx="411.3" cy="287.6" r="2"/><circle cx="414.7" cy="267.2" r="3"/><circle cx="422.5" cy="266.6" r="2"/><circle cx="409.6" cy="294.5" r="2.1"/><circle cx="408.3" cy="277.2" r="1.9"/><circle cx="435.7" cy="259.5" r="2"/><circle cx="396.4" cy="313.9" r="2"/><circle cx="408.3" cy="290.4" r="2.2"/><circle cx="443.8" cy="251.8" r="1.8"/><circle cx="399.3" cy="294.6" r="2.3"/><circle cx="294.6" cy="436.4" r="1.9"/><circle cx="303.4" cy="400.9" r="2"/><circle cx="313.8" cy="387.4" r="2"/><circle cx="282.5" cy="393.9" r="3.9"/><circle cx="294.8" cy="424.9" r="3.4"/><circle cx="283.9" cy="386.3" r="2.9"/><circle cx="298.5" cy="387.9" r="2"/><circle cx="290.9" cy="401.3" r="3.2"/><circle cx="294.7" cy="392.7" r="1.9"/><circle cx="286.6" cy="430.3" r="2"/><circle cx="285.8" cy="404.4" r="1.8"/><circle cx="293.3" cy="418.4" r="2.5"/><circle cx="300.9" cy="397.7" r="1.8"/><circle cx="287.8" cy="409.6" r="3"/><circle cx="286.4" cy="419.9" r="2.9"/><circle cx="291.6" cy="441.4" r="2.7"/><circle cx="308.8" cy="388.6" r="2.8"/><circle cx="276.9" cy="389.9" r="2.1"/><circle cx="309.2" cy="397.7" r="3.7"/><circle cx="289.3" cy="414.5" r="2.5"/><circle cx="302.8" cy="392.5" r="3.5"/><circle cx="290.3" cy="388.5" r="2"/><circle cx="289.3" cy="436" r="2.5"/><circle cx="287.5" cy="426.7" r="1.8"/><circle cx="297.6" cy="408.9" r="2.7"/><circle cx="294.4" cy="405.9" r="1.8"/><circle cx="297.4" cy="398.6" r="1.8"/><circle cx="315.4" cy="391.8" r="1.8"/><circle cx="291" cy="429.1" r="2.4"/><circle cx="297.4" cy="402.2" r="1.9"/><circle cx="298" cy="444.4" r="3.8"/><circle cx="282.8" cy="407.6" r="1.8"/><circle cx="319.8" cy="387.7" r="1.9"/><circle cx="284.2" cy="400" r="1.9"/><circle cx="291.9" cy="395.6" r="2"/><circle cx="297.2" cy="431.1" r="3.6"/><circle cx="281.5" cy="402.2" r="1.8"/><circle cx="287" cy="444.3" r="2.8"/><circle cx="297.1" cy="439" r="1.8"/><circle cx="294.1" cy="386" r="1.9"/><circle cx="301.4" cy="404" r="1.9"/><circle cx="296.5" cy="414.2" r="3"/><circle cx="318.5" cy="462.8" r="3.2"/><circle cx="292.6" cy="466.5" r="3.2"/><circle cx="285" cy="461.6" r="2.5"/><circle cx="305.1" cy="460.6" r="2"/><circle cx="274.8" cy="462.9" r="2.2"/><circle cx="291.5" cy="451.9" r="2.7"/><circle cx="296.3" cy="460.8" r="3.2"/><circle cx="309.9" cy="459.7" r="2.3"/><circle cx="279.5" cy="463.1" r="2.4"/><circle cx="286" cy="453.7" r="1.8"/><circle cx="294.1" cy="456" r="1.9"/><circle cx="309.7" cy="466.6" r="2.4"/><circle cx="281.9" cy="458" r="1.9"/><circle cx="288.6" cy="456.7" r="1.9"/><circle cx="301.3" cy="465.6" r="1.9"/><circle cx="317.1" cy="468.4" r="2.2"/><circle cx="289.4" cy="448.1" r="1.8"/><circle cx="277" cy="457.3" r="2.2"/><circle cx="289.9" cy="461.5" r="2.4"/><circle cx="301.6" cy="462" r="1.9"/><circle cx="296.6" cy="450.7" r="1.9"/><circle cx="321.5" cy="469.4" r="1.9"/><circle cx="284.7" cy="466.5" r="2.3"/><circle cx="286.1" cy="439.9" r="2"/><circle cx="292.6" cy="410.9" r="2.1"/><circle cx="432" cy="464.3" r="2.9"/><circle cx="374.4" cy="487.4" r="2.9"/><circle cx="328.3" cy="478.1" r="2.8"/><circle cx="345.7" cy="506.5" r="2.7"/><circle cx="326.7" cy="471.9" r="3.3"/><circle cx="372.7" cy="477.1" r="3.4"/><circle cx="411.3" cy="465.7" r="3.8"/><circle cx="354.5" cy="512.2" r="3.5"/><circle cx="368.7" cy="492.3" r="1.8"/><circle cx="355.2" cy="497.4" r="1.9"/><circle cx="354.3" cy="502" r="2.1"/><circle cx="400.5" cy="466.7" r="2.5"/><circle cx="324" cy="465.4" r="2.1"/><circle cx="372" cy="497.2" r="3.2"/><circle cx="420.7" cy="467" r="3"/><circle cx="335.3" cy="488.1" r="2.1"/><circle cx="331.7" cy="481.3" r="1.9"/><circle cx="338.1" cy="503.2" r="2.1"/><circle cx="387" cy="472.7" r="1.9"/><circle cx="342" cy="502.1" r="1.9"/><circle cx="437.8" cy="464.4" r="2.2"/><circle cx="343.2" cy="496.6" r="3.3"/><circle cx="383.3" cy="473.7" r="1.8"/><circle cx="330.1" cy="493.9" r="2.1"/><circle cx="327.2" cy="485.7" r="2.2"/><circle cx="368.8" cy="503.4" r="1.8"/><circle cx="377.5" cy="483.5" r="1.8"/><circle cx="362.4" cy="495.9" r="3.5"/><circle cx="444.6" cy="463.3" r="3.7"/><circle cx="385.8" cy="477" r="1.8"/><circle cx="404.2" cy="471.4" r="3.5"/><circle cx="426" cy="465.1" r="1.9"/><circle cx="351.3" cy="498.5" r="1.8"/><circle cx="372.4" cy="482.5" r="1.9"/><circle cx="363.4" cy="507" r="2.2"/><circle cx="395.5" cy="475.4" r="2.1"/><circle cx="361.4" cy="511.1" r="1.9"/><circle cx="333.5" cy="502.1" r="2.4"/><circle cx="405.8" cy="466.3" r="1.9"/><circle cx="342.1" cy="509.4" r="1.9"/><circle cx="395.8" cy="466" r="2.2"/><circle cx="390.7" cy="476.9" r="2.4"/><circle cx="337.9" cy="494.2" r="2.3"/><circle cx="320.7" cy="457.6" r="2.3"/><circle cx="349.4" cy="503.1" r="2.4"/><circle cx="314.7" cy="458.1" r="1.8"/><circle cx="389.3" cy="469.1" r="2.3"/><circle cx="399.7" cy="474.4" r="2.3"/><circle cx="360.1" cy="500.7" r="2.2"/><circle cx="330.2" cy="488.3" r="1.9"/><circle cx="334" cy="497.9" r="1.8"/><circle cx="378.7" cy="477.5" r="2.2"/><circle cx="380.8" cy="482.1" r="1.8"/><circle cx="416.1" cy="468.1" r="1.9"/><circle cx="355.5" cy="507.1" r="1.9"/><circle cx="394.4" cy="470.1" r="1.8"/><circle cx="302.2" cy="456.2" r="2.6"/><circle cx="369.5" cy="488.3" r="1.9"/><circle cx="367.8" cy="500.1" r="1.8"/><circle cx="372.4" cy="491.9" r="1.8"/><circle cx="379.7" cy="471.8" r="2.2"/><circle cx="367.4" cy="496.2" r="1.8"/><circle cx="359.4" cy="505.9" r="1.9"/><circle cx="333" cy="491.1" r="1.9"/><circle cx="415" cy="471.7" r="1.9"/><circle cx="434.7" cy="640.7" r="3.3"/><circle cx="417.8" cy="640.7" r="2.2"/><circle cx="332.4" cy="657.9" r="2.3"/><circle cx="375.5" cy="646.2" r="2.2"/><circle cx="353.3" cy="651.2" r="2.4"/><circle cx="321.5" cy="661.7" r="2.7"/><circle cx="311.1" cy="668.2" r="3.5"/><circle cx="426.6" cy="639.4" r="1.9"/><circle cx="401.4" cy="647.5" r="2.7"/><circle cx="301.2" cy="660.7" r="2.3"/><circle cx="343.5" cy="653.2" r="3"/><circle cx="386.4" cy="648.6" r="2.3"/><circle cx="408.1" cy="647.1" r="2.5"/><circle cx="293.7" cy="657" r="1.8"/><circle cx="310.8" cy="673.5" r="1.8"/><circle cx="368.5" cy="646.5" r="3.7"/><circle cx="356" cy="646.7" r="2.1"/><circle cx="338.5" cy="660.4" r="2.6"/><circle cx="287.3" cy="644.5" r="3.6"/><circle cx="404.8" cy="644" r="2.2"/><circle cx="325.6" cy="666.5" r="3.6"/><circle cx="350.6" cy="656.6" r="2.3"/><circle cx="316.5" cy="663.5" r="2.2"/><circle cx="266.5" cy="632" r="1.9"/><circle cx="394.5" cy="646" r="1.9"/><circle cx="360.2" cy="653.9" r="3.6"/><circle cx="275" cy="637" r="2.4"/><circle cx="429.7" cy="644" r="2.1"/><circle cx="344.3" cy="663.6" r="3"/><circle cx="442.9" cy="636.7" r="2"/><circle cx="292.7" cy="648.9" r="3"/><circle cx="302.1" cy="655.7" r="2.3"/><circle cx="318.7" cy="674.2" r="2.3"/><circle cx="326.3" cy="672.8" r="2.2"/><circle cx="334.9" cy="665.4" r="2.6"/><circle cx="413.9" cy="644.2" r="2.5"/><circle cx="391" cy="644.7" r="1.9"/><circle cx="446.6" cy="642.2" r="2.4"/><circle cx="327.4" cy="659.8" r="2.9"/><circle cx="348.6" cy="648.6" r="2.8"/><circle cx="381.7" cy="645.3" r="3.4"/><circle cx="441.1" cy="642.3" r="2.4"/><circle cx="305" cy="664.5" r="2.4"/><circle cx="359.9" cy="645.5" r="2.1"/><circle cx="310.2" cy="659.4" r="2.1"/><circle cx="286.6" cy="637.9" r="2"/><circle cx="377.4" cy="642.5" r="2"/><circle cx="281.2" cy="635.2" r="3.5"/><circle cx="345.3" cy="659" r="2.1"/><circle cx="305.9" cy="658.6" r="2"/><circle cx="387.2" cy="642.8" r="2.5"/><circle cx="335" cy="670.3" r="2.1"/><circle cx="408.3" cy="641.9" r="2.1"/><circle cx="283.6" cy="640.5" r="1.9"/><circle cx="363.3" cy="648.6" r="1.9"/><circle cx="270.5" cy="634" r="2"/><circle cx="424.6" cy="643.4" r="2.6"/><circle cx="316" cy="667.4" r="1.8"/><circle cx="373.5" cy="650.4" r="2"/><circle cx="355.3" cy="656.6" r="2"/><circle cx="297.5" cy="662.1" r="1.9"/><circle cx="377.7" cy="650.9" r="2.2"/><circle cx="392.2" cy="650.2" r="2.8"/><circle cx="319.9" cy="668.1" r="2.2"/><circle cx="338.2" cy="655" r="2.5"/><circle cx="330.4" cy="673.7" r="2.3"/><circle cx="363.6" cy="644.1" r="2"/><circle cx="398.8" cy="643.4" r="2.4"/><circle cx="315.3" cy="671.9" r="1.9"/><circle cx="297.4" cy="656" r="1.9"/><circle cx="340" cy="666.9" r="2.7"/><circle cx="419" cy="644.4" r="1.8"/><circle cx="682.4" cy="251.7" r="2.6"/><circle cx="688.3" cy="257.1" r="1.8"/><circle cx="644.4" cy="272" r="2.9"/><circle cx="667.9" cy="253.9" r="2.6"/><circle cx="676" cy="259.5" r="3"/><circle cx="647" cy="255.1" r="2.8"/><circle cx="624.5" cy="256.1" r="3.1"/><circle cx="723" cy="253.4" r="1.8"/><circle cx="606.2" cy="258.4" r="3.3"/><circle cx="618" cy="257.3" r="2.2"/><circle cx="704.9" cy="258" r="2.2"/><circle cx="633.3" cy="253.7" r="1.9"/><circle cx="675.4" cy="252.3" r="2.1"/><circle cx="660.8" cy="252.2" r="2.6"/><circle cx="697.2" cy="251.9" r="1.8"/><circle cx="659.7" cy="257.6" r="2"/><circle cx="692.2" cy="259.4" r="2.8"/><circle cx="699.6" cy="254.9" r="2"/><circle cx="683.5" cy="259.4" r="2.5"/><circle cx="637.6" cy="263.7" r="2"/><circle cx="630.4" cy="258" r="2.4"/><circle cx="600.9" cy="255.1" r="1.9"/><circle cx="642.9" cy="258.7" r="2"/><circle cx="653.9" cy="256.7" r="2.3"/><circle cx="641.5" cy="263.5" r="1.9"/><circle cx="717.3" cy="252.9" r="3.3"/><circle cx="612.5" cy="258.6" r="3.2"/><circle cx="710.2" cy="257.2" r="1.9"/><circle cx="670.7" cy="258.8" r="2.2"/><circle cx="690.7" cy="252.5" r="2.2"/><circle cx="610.3" cy="252.4" r="2.2"/><circle cx="648.8" cy="262.1" r="3.6"/><circle cx="711.7" cy="252" r="2.5"/><circle cx="642.6" cy="253.7" r="2"/><circle cx="656.2" cy="252.1" r="1.8"/><circle cx="640" cy="269.4" r="2.6"/><circle cx="721.6" cy="258.2" r="1.9"/><circle cx="645.3" cy="266.2" r="1.8"/><circle cx="704.4" cy="253.1" r="1.9"/><circle cx="625.6" cy="251.7" r="1.8"/><circle cx="617.6" cy="252.7" r="2.6"/><circle cx="679.8" cy="255.9" r="1.9"/><circle cx="714.1" cy="258.6" r="1.8"/><circle cx="698.8" cy="259.1" r="1.8"/><circle cx="665.4" cy="259.5" r="2.8"/><circle cx="636" cy="256.1" r="1.8"/><circle cx="652" cy="251.5" r="2.2"/><circle cx="634.9" cy="260.4" r="2.2"/><circle cx="757.9" cy="294.4" r="3.6"/><circle cx="759.5" cy="286.2" r="3.1"/><circle cx="742.8" cy="321.2" r="2"/><circle cx="750.4" cy="275" r="2.3"/><circle cx="769" cy="287.5" r="2.2"/><circle cx="746" cy="289.8" r="1.9"/><circle cx="783.7" cy="272.3" r="3.7"/><circle cx="741.5" cy="283" r="3.2"/><circle cx="762.5" cy="304.8" r="2.2"/><circle cx="783" cy="278.3" r="2.3"/><circle cx="743.7" cy="309.3" r="3.7"/><circle cx="762.4" cy="280.7" r="3.5"/><circle cx="785.2" cy="287" r="3.9"/><circle cx="746.2" cy="273.4" r="2.1"/><circle cx="748.3" cy="298.8" r="2.2"/><circle cx="738.4" cy="288.3" r="2.3"/><circle cx="755.5" cy="277.8" r="1.9"/><circle cx="774.2" cy="293.8" r="2.1"/><circle cx="773.1" cy="275.3" r="2.8"/><circle cx="772.5" cy="279.7" r="1.9"/><circle cx="744.5" cy="278.3" r="2.3"/><circle cx="750.6" cy="289.4" r="2.2"/><circle cx="739.7" cy="317.1" r="2.5"/><circle cx="750.1" cy="311.4" r="2.4"/><circle cx="742.4" cy="301" r="3.1"/><circle cx="751.5" cy="279.7" r="2"/><circle cx="793.7" cy="273" r="3.1"/><circle cx="747.5" cy="319.6" r="2.7"/><circle cx="789.4" cy="280.6" r="2.7"/><circle cx="778.3" cy="295.7" r="2.6"/><circle cx="777.8" cy="284.5" r="1.9"/><circle cx="790.7" cy="286.6" r="1.8"/><circle cx="767.4" cy="294.1" r="3.1"/><circle cx="744.4" cy="315.3" r="2.8"/><circle cx="725.8" cy="263.7" r="2"/><circle cx="754.3" cy="284.6" r="2.3"/><circle cx="771.9" cy="298.9" r="1.9"/><circle cx="785" cy="296.4" r="3.4"/><circle cx="728.8" cy="274.3" r="1.8"/><circle cx="741.1" cy="293.9" r="1.8"/><circle cx="753.7" cy="303.2" r="2.7"/><circle cx="739.7" cy="267.6" r="3.9"/><circle cx="733.4" cy="269.8" r="2"/><circle cx="750.4" cy="306.9" r="2.4"/><circle cx="768.6" cy="304" r="3.6"/><circle cx="734.6" cy="279.7" r="3.4"/><circle cx="739.2" cy="312.8" r="1.8"/><circle cx="763.5" cy="297.6" r="2"/><circle cx="767.9" cy="277.3" r="2.9"/><circle cx="728.3" cy="260.4" r="2.5"/><circle cx="747.2" cy="285.5" r="2"/><circle cx="736.3" cy="274.1" r="2.7"/><circle cx="729" cy="267.5" r="2.1"/><circle cx="772.6" cy="290.1" r="2.1"/><circle cx="741.3" cy="273.7" r="1.8"/><circle cx="772.5" cy="285.3" r="1.9"/><circle cx="778" cy="279.9" r="2.3"/><circle cx="733.8" cy="286.8" r="2.9"/><circle cx="780" cy="290.5" r="2.2"/><circle cx="767.4" cy="283.9" r="1.8"/><circle cx="778" cy="301.3" r="2.7"/><circle cx="764.5" cy="289.4" r="2"/><circle cx="793.5" cy="267.7" r="1.8"/><circle cx="789.1" cy="273.9" r="1.8"/><circle cx="733.6" cy="264.9" r="2.4"/><circle cx="748.5" cy="294.9" r="1.9"/><circle cx="758.7" cy="304.1" r="1.9"/><circle cx="750.1" cy="316.1" r="1.9"/><circle cx="753.6" cy="298.4" r="1.9"/><circle cx="758.4" cy="300.2" r="1.9"/><circle cx="747.2" cy="281.8" r="1.8"/><circle cx="736.2" cy="293.9" r="2.1"/><circle cx="744.6" cy="296.2" r="2.2"/><circle cx="746.8" cy="302.2" r="1.8"/><circle cx="726.6" cy="271.3" r="1.9"/><circle cx="740.1" cy="278.4" r="1.9"/><circle cx="560.8" cy="419.5" r="3.1"/><circle cx="555.3" cy="412.5" r="2.4"/><circle cx="633.5" cy="410.9" r="2.6"/><circle cx="625.1" cy="417.2" r="2.5"/><circle cx="645.1" cy="425.8" r="3.8"/><circle cx="609" cy="411.8" r="2"/><circle cx="585.1" cy="414.4" r="3.7"/><circle cx="638.5" cy="419.5" r="3.6"/><circle cx="600.2" cy="411.2" r="2.2"/><circle cx="576.6" cy="418.4" r="3.6"/><circle cx="572.9" cy="409.7" r="2"/><circle cx="543.6" cy="411.4" r="3.2"/><circle cx="585.2" cy="407.6" r="2.4"/><circle cx="567.3" cy="414.6" r="1.8"/><circle cx="659.7" cy="433.6" r="3.2"/><circle cx="649.3" cy="433.8" r="2.9"/><circle cx="599" cy="416.6" r="3.8"/><circle cx="645.2" cy="419.4" r="2.4"/><circle cx="550.3" cy="417" r="1.8"/><circle cx="652.4" cy="429.9" r="2.1"/><circle cx="591.1" cy="408.5" r="3.3"/><circle cx="567.4" cy="423.9" r="2"/><circle cx="617.2" cy="414.4" r="2"/><circle cx="616.3" cy="420.2" r="2.4"/><circle cx="652.6" cy="423.4" r="2"/><circle cx="614.7" cy="408.9" r="3.5"/><circle cx="537.4" cy="413.2" r="2.1"/><circle cx="548.4" cy="410.9" r="1.8"/><circle cx="658.4" cy="440.7" r="1.9"/><circle cx="630.5" cy="419.9" r="3.1"/><circle cx="590.6" cy="415.1" r="2.3"/><circle cx="637.5" cy="428.2" r="2.6"/><circle cx="559.4" cy="410.9" r="1.8"/><circle cx="565.9" cy="409.9" r="3"/><circle cx="604" cy="410.2" r="2"/><circle cx="536.5" cy="418.3" r="1.8"/><circle cx="659.9" cy="427.2" r="2.4"/><circle cx="571.1" cy="421.7" r="2"/><circle cx="626.8" cy="410.3" r="2.5"/><circle cx="623.5" cy="421.7" r="1.9"/><circle cx="579.4" cy="412.8" r="1.8"/><circle cx="582.1" cy="421.6" r="2.1"/><circle cx="545.6" cy="418.4" r="2"/><circle cx="556.2" cy="421.8" r="2.1"/><circle cx="589.3" cy="420.3" r="3"/><circle cx="609.7" cy="418.2" r="3.2"/><circle cx="665.9" cy="429.4" r="2"/><circle cx="546.7" cy="422.6" r="2.4"/><circle cx="602" cy="405.9" r="2.8"/><circle cx="621" cy="410.1" r="3"/><circle cx="656.6" cy="422.5" r="2.1"/><circle cx="638.1" cy="411.6" r="1.8"/><circle cx="633" cy="425.8" r="1.9"/><circle cx="664.8" cy="436.1" r="1.8"/><circle cx="537.7" cy="423.8" r="2.3"/><circle cx="650.1" cy="420.7" r="1.9"/><circle cx="596" cy="410.8" r="2.2"/><circle cx="576.7" cy="410.3" r="2"/><circle cx="655.4" cy="427.1" r="1.9"/><circle cx="552" cy="423.6" r="2.4"/><circle cx="620.1" cy="416.8" r="2"/><circle cx="634.4" cy="416.1" r="1.8"/><circle cx="596.8" cy="406.9" r="2.1"/><circle cx="655.1" cy="437.8" r="2.3"/><circle cx="609.4" cy="407" r="1.9"/><circle cx="660" cy="444.9" r="1.9"/><circle cx="664" cy="425.4" r="2.3"/><circle cx="605.4" cy="415.5" r="1.9"/><circle cx="629.6" cy="413.9" r="2.3"/><circle cx="642.6" cy="415" r="2.7"/><circle cx="563.8" cy="415" r="1.8"/><circle cx="552.5" cy="409.3" r="1.9"/><circle cx="541.1" cy="415.9" r="1.8"/><circle cx="540.3" cy="420.1" r="2.4"/><circle cx="569" cy="418.7" r="1.8"/><circle cx="679.4" cy="455.8" r="2.4"/><circle cx="766.4" cy="430.8" r="3.8"/><circle cx="728.7" cy="459.7" r="2"/><circle cx="762.6" cy="441.1" r="2.1"/><circle cx="698.8" cy="436.5" r="3.1"/><circle cx="722" cy="456.1" r="3.3"/><circle cx="773.4" cy="428.9" r="2.8"/><circle cx="747.6" cy="447.7" r="3.7"/><circle cx="762.8" cy="436.7" r="2.2"/><circle cx="759" cy="432.7" r="2"/><circle cx="756.7" cy="428.8" r="2.1"/><circle cx="707.2" cy="453.2" r="1.8"/><circle cx="734.7" cy="455.4" r="2.6"/><circle cx="685.7" cy="443.1" r="2.6"/><circle cx="750.3" cy="427.7" r="2.3"/><circle cx="784.9" cy="417.9" r="3.8"/><circle cx="741" cy="448.9" r="2.1"/><circle cx="752.1" cy="436.7" r="3.7"/><circle cx="704.4" cy="443.3" r="2.7"/><circle cx="705.9" cy="468.7" r="3"/><circle cx="722.6" cy="467.7" r="3.7"/><circle cx="736.6" cy="439.6" r="1.8"/><circle cx="716.5" cy="446.8" r="3.1"/><circle cx="740.4" cy="460.4" r="2"/><circle cx="695.8" cy="456.4" r="3.3"/><circle cx="736.3" cy="446.6" r="1.9"/><circle cx="735.3" cy="472.4" r="2.8"/><circle cx="703.5" cy="434" r="2.2"/><circle cx="744.9" cy="473.3" r="3.3"/><circle cx="705.1" cy="458.2" r="2"/><circle cx="719.5" cy="440.1" r="3.2"/><circle cx="710.8" cy="445.1" r="3.2"/><circle cx="769.6" cy="435.1" r="1.8"/><circle cx="774.9" cy="492.1" r="2.1"/><circle cx="715" cy="459.4" r="2.2"/><circle cx="779" cy="432.1" r="2.9"/><circle cx="673.2" cy="434.3" r="3.3"/><circle cx="774.4" cy="438.1" r="1.8"/><circle cx="765" cy="420" r="3.4"/><circle cx="781.8" cy="424.5" r="2.4"/><circle cx="664.7" cy="445.9" r="2"/><circle cx="713.5" cy="440.5" r="1.9"/><circle cx="729.9" cy="449.7" r="3.3"/><circle cx="717.3" cy="453.2" r="2"/><circle cx="679.6" cy="439.2" r="2.1"/><circle cx="744.8" cy="437.3" r="3.2"/><circle cx="712.9" cy="468.5" r="3.7"/><circle cx="680.4" cy="447.3" r="2.1"/><circle cx="684" cy="461.2" r="2.6"/><circle cx="701.6" cy="465.6" r="2.3"/><circle cx="669.2" cy="438.3" r="2.6"/><circle cx="699.3" cy="445.3" r="3"/><circle cx="745.7" cy="430.9" r="2.4"/><circle cx="771.4" cy="417.9" r="2.3"/><circle cx="728.3" cy="455.2" r="2.1"/><circle cx="748.1" cy="455" r="2.9"/><circle cx="777.4" cy="419.6" r="2.1"/><circle cx="725.1" cy="473.1" r="2.3"/><circle cx="711.9" cy="455.9" r="2.4"/><circle cx="767" cy="488.4" r="1.9"/><circle cx="741.3" cy="456" r="2.3"/><circle cx="760.2" cy="425" r="1.8"/><circle cx="694.4" cy="449.7" r="1.9"/><circle cx="738.9" cy="469.5" r="2.1"/><circle cx="758.2" cy="439.5" r="1.8"/><circle cx="718.9" cy="461.1" r="2"/><circle cx="769.8" cy="440" r="3"/><circle cx="674.4" cy="450.8" r="3.9"/><circle cx="725.7" cy="445.9" r="2.3"/><circle cx="692.3" cy="438.3" r="3.6"/><circle cx="753.1" cy="451.7" r="2.3"/><circle cx="713.4" cy="435.7" r="2.3"/><circle cx="663.2" cy="442.3" r="2.1"/><circle cx="685.4" cy="451.7" r="4"/><circle cx="675.9" cy="441.5" r="2.5"/><circle cx="755.2" cy="444.8" r="2.8"/><circle cx="668.8" cy="444.4" r="2"/><circle cx="740.3" cy="439.1" r="2"/><circle cx="731.6" cy="442.1" r="2.6"/><circle cx="691.1" cy="464.8" r="4"/><circle cx="709.2" cy="434.3" r="1.8"/><circle cx="733.5" cy="463.3" r="3.4"/><circle cx="720.4" cy="472.5" r="1.8"/><circle cx="783.2" cy="428.5" r="2.1"/><circle cx="690.2" cy="443.1" r="1.8"/><circle cx="685.4" cy="436" r="2.3"/><circle cx="706.7" cy="463.3" r="2.3"/><circle cx="776.9" cy="415.5" r="2.3"/><circle cx="779.6" cy="493" r="2.2"/><circle cx="759.2" cy="485.5" r="2.7"/><circle cx="703.9" cy="448.7" r="2"/><circle cx="742.2" cy="467.3" r="1.9"/><circle cx="746" cy="480.7" r="2.5"/><circle cx="740.1" cy="435.4" r="2"/><circle cx="766.8" cy="425.5" r="1.9"/><circle cx="775" cy="423.5" r="2.9"/><circle cx="699.1" cy="461.6" r="2.2"/><circle cx="702.7" cy="453.7" r="2"/><circle cx="708.3" cy="439.4" r="2.5"/><circle cx="689.1" cy="457" r="1.9"/><circle cx="680" cy="433.7" r="3.5"/><circle cx="751.5" cy="483.6" r="1.8"/><circle cx="710.8" cy="462.6" r="2.1"/><circle cx="761.3" cy="446.2" r="2.4"/><circle cx="729.3" cy="467.8" r="2.9"/><circle cx="668.2" cy="450.9" r="2.6"/><circle cx="703.9" cy="438.8" r="2"/><circle cx="726" cy="440.9" r="1.9"/><circle cx="712.3" cy="450.2" r="2.1"/><circle cx="754.1" cy="425.1" r="2.6"/><circle cx="725.3" cy="452.6" r="1.8"/><circle cx="783.9" cy="495.8" r="2.7"/><circle cx="765.3" cy="444" r="2.1"/><circle cx="740.7" cy="444.1" r="2.7"/><circle cx="691" cy="451.1" r="1.9"/><circle cx="697.4" cy="465.6" r="2"/><circle cx="695.1" cy="442.7" r="1.9"/><circle cx="690.4" cy="446.6" r="1.8"/><circle cx="689.4" cy="433.5" r="1.8"/><circle cx="699.1" cy="451.8" r="1.8"/><circle cx="695.2" cy="432.8" r="1.8"/><circle cx="790.2" cy="497" r="1.8"/><circle cx="749.4" cy="441.1" r="1.8"/><circle cx="738.2" cy="464.6" r="1.9"/><circle cx="721.5" cy="449.4" r="2.9"/><circle cx="744.1" cy="458.9" r="1.8"/><circle cx="738" cy="451.6" r="1.8"/><circle cx="770" cy="423.7" r="2"/><circle cx="774.1" cy="433.5" r="1.8"/><circle cx="695.9" cy="618.8" r="3.4"/><circle cx="670.2" cy="611.6" r="2.4"/><circle cx="723.8" cy="625.5" r="2.6"/><circle cx="618.1" cy="611.7" r="3"/><circle cx="688.1" cy="612.4" r="2"/><circle cx="675.5" cy="608.6" r="3"/><circle cx="665.9" cy="607.2" r="2.2"/><circle cx="590.4" cy="606" r="3.2"/><circle cx="657.3" cy="610.6" r="1.8"/><circle cx="711.3" cy="623.5" r="3.8"/><circle cx="578" cy="598.8" r="3"/><circle cx="582.7" cy="596.1" r="1.8"/><circle cx="635.6" cy="611.9" r="2.5"/><circle cx="625.7" cy="611.8" r="2"/><circle cx="748" cy="626.8" r="3.2"/><circle cx="649.3" cy="611.1" r="3.6"/><circle cx="717.2" cy="626.4" r="2.6"/><circle cx="534.3" cy="582.3" r="2.6"/><circle cx="680.2" cy="609.1" r="1.8"/><circle cx="612.3" cy="607.1" r="2.4"/><circle cx="705.4" cy="623.6" r="2.2"/><circle cx="583.4" cy="603.9" r="3.7"/><circle cx="736.9" cy="627.1" r="2.7"/><circle cx="624.3" cy="602.1" r="2.2"/><circle cx="702.2" cy="621.2" r="1.9"/><circle cx="542.1" cy="583.7" r="2.3"/><circle cx="656" cy="607.1" r="1.8"/><circle cx="559.7" cy="588" r="3.5"/><circle cx="575" cy="604.4" r="2.8"/><circle cx="679.3" cy="613.4" r="2.6"/><circle cx="545.8" cy="591.2" r="2.3"/><circle cx="752.8" cy="628.7" r="1.8"/><circle cx="661.5" cy="609.4" r="1.9"/><circle cx="675.2" cy="615.8" r="2.1"/><circle cx="718.5" cy="621" r="2.8"/><circle cx="546.3" cy="580.4" r="2.1"/><circle cx="553.4" cy="587.7" r="3.3"/><circle cx="603.8" cy="613" r="2.5"/><circle cx="607.8" cy="604.3" r="2.1"/><circle cx="594.1" cy="601.2" r="1.9"/><circle cx="601.4" cy="600.5" r="1.9"/><circle cx="569.4" cy="593.7" r="4"/><circle cx="646.4" cy="604.5" r="4"/><circle cx="547.3" cy="586.1" r="3.2"/><circle cx="689.3" cy="619.8" r="2.7"/><circle cx="632" cy="604.7" r="2.1"/><circle cx="625.4" cy="608" r="1.8"/><circle cx="532.4" cy="586.9" r="2.1"/><circle cx="574.9" cy="594.1" r="1.9"/><circle cx="600.2" cy="609.3" r="2.7"/><circle cx="537.5" cy="588.4" r="1.8"/><circle cx="567.7" cy="600.8" r="2.3"/><circle cx="551.1" cy="592.7" r="1.8"/><circle cx="611.2" cy="613.6" r="2.5"/><circle cx="758.3" cy="633.6" r="3.4"/><circle cx="556" cy="593.2" r="2"/><circle cx="607" cy="608.6" r="2"/><circle cx="631.9" cy="609.7" r="1.9"/><circle cx="562.3" cy="595" r="3.5"/><circle cx="693.4" cy="612.5" r="2.7"/><circle cx="665.1" cy="612.6" r="2.7"/><circle cx="541.5" cy="590.6" r="2.2"/><circle cx="705.4" cy="615.2" r="2.9"/><circle cx="742.3" cy="625.2" r="2"/><circle cx="638.3" cy="606.1" r="3.7"/><circle cx="684.9" cy="616" r="1.9"/><circle cx="620.8" cy="606.4" r="2.4"/><circle cx="533.3" cy="591" r="2"/><circle cx="587.9" cy="598.2" r="3.2"/><circle cx="598.2" cy="604.8" r="2.3"/><circle cx="731.1" cy="628.4" r="2.1"/><circle cx="539.8" cy="578.9" r="2.3"/><circle cx="614.3" cy="602.7" r="2.1"/><circle cx="652.3" cy="606.2" r="2.1"/><circle cx="595.8" cy="611.7" r="2.6"/><circle cx="684.3" cy="611.7" r="2.1"/><circle cx="758.9" cy="627.3" r="3.2"/><circle cx="643.1" cy="610.8" r="2.4"/><circle cx="741.5" cy="628.9" r="1.8"/><circle cx="603.3" cy="605.4" r="2.2"/><circle cx="709.1" cy="618.1" r="1.8"/><circle cx="535.3" cy="576.9" r="2.1"/><circle cx="698.1" cy="613.8" r="1.9"/><circle cx="732.1" cy="623.9" r="2.1"/><circle cx="606.2" cy="600.9" r="1.8"/><circle cx="629.8" cy="612.8" r="1.8"/><circle cx="703.5" cy="693.3" r="2.6"/><circle cx="689.9" cy="693.5" r="2.2"/><circle cx="713.2" cy="692.1" r="2"/><circle cx="696.9" cy="692.6" r="2.1"/><circle cx="693.1" cy="698.6" r="2.2"/><circle cx="707.9" cy="698.5" r="3.2"/><circle cx="702" cy="698.2" r="2.7"/><circle cx="715.8" cy="698.9" r="3.8"/><circle cx="708.3" cy="693.4" r="2.2"/><circle cx="696.1" cy="696.2" r="1.8"/><circle cx="466.1" cy="150.8" r="2.3"/><circle cx="488.2" cy="263.2" r="2.9"/><circle cx="489.2" cy="421.7" r="3.5"/><circle cx="474.7" cy="578.1" r="2"/><circle cx="490.8" cy="692.1" r="2"/></g></g>
<g transform="translate(387.4 273.5) rotate(121.2) scale(1 -1)"><path d="M-3 -1C-2 -3.6 3 -4.2 8 -2.4C14 -0.6 22 1.3 30 1.1C36 0.9 41 0.1 45.5 -0.9L45 1.1C40 2.8 35 3.8 29 4C21 4.2 13 3.6 8 3.4C4 4.4 -1 4 -3 2Z" fill="#111"/><path d="M11 1C17 2.4 24 3.1 31 2.7C36 2.4 40 1.6 43 0.9" stroke="#fff" stroke-width="1.3" stroke-dasharray="2.6 1.4" fill="none"/><path d="M1 3L0.5 8L3 6.5L4.5 11M5 3.5L7 8.5L9 7M8.5 3.4L11 6.5" stroke="#111" stroke-width="1.5" stroke-linecap="round" fill="none"/></g>
<g transform="translate(289.3 352.6) rotate(1) scale(1.2)"><path d="M0 -9.5C4 -9.5 5 -3 4.2 2C3.5 6 1.5 8.5 0 9C-1.5 8.5 -3.5 6 -4.2 2C-5 -3 -4 -9.5 0 -9.5Z" fill="#fff"/><path d="M-2 7.5L2 7.5L1.5 12L1.2 13L1.2 20.5L0.4 22L0.3 30L-0.3 30L-0.4 22L-1.2 20.5L-1.2 13L-1.5 12Z" fill="#111"/><path d="M-3.8 -5L-7.5 -6.5M3.8 -6L8 -8.5L10.5 -7.5M-3.5 3L3.5 3M-2.8 5.2L2.8 5.2" stroke="#222" stroke-width="0.8" fill="none"/></g>
<g transform="translate(687.7 383.3) rotate(2) scale(1.1)"><path d="M0 -9.5C4 -9.5 5 -3 4.2 2C3.5 6 1.5 8.5 0 9C-1.5 8.5 -3.5 6 -4.2 2C-5 -3 -4 -9.5 0 -9.5Z" fill="#fff"/><path d="M-2 7.5L2 7.5L1.5 12L1.2 13L1.2 20.5L0.4 22L0.3 30L-0.3 30L-0.4 22L-1.2 20.5L-1.2 13L-1.5 12Z" fill="#111"/><path d="M-3.8 -5L-7.5 -6.5M3.8 -6L8 -8.5L10.5 -7.5M-3.5 3L3.5 3M-2.8 5.2L2.8 5.2" stroke="#222" stroke-width="0.8" fill="none"/></g>
<g transform="translate(759.1 384) rotate(123.7) scale(1 -1)"><path d="M-3 -1C-2 -3.6 3 -4.2 8 -2.4C14 -0.6 22 1.3 30 1.1C36 0.9 41 0.1 45.5 -0.9L45 1.1C40 2.8 35 3.8 29 4C21 4.2 13 3.6 8 3.4C4 4.4 -1 4 -3 2Z" fill="#111"/><path d="M11 1C17 2.4 24 3.1 31 2.7C36 2.4 40 1.6 43 0.9" stroke="#fff" stroke-width="1.3" stroke-dasharray="2.6 1.4" fill="none"/><path d="M1 3L0.5 8L3 6.5L4.5 11M5 3.5L7 8.5L9 7M8.5 3.4L11 6.5" stroke="#111" stroke-width="1.5" stroke-linecap="round" fill="none"/></g>
<g transform="translate(324.7 635.1) rotate(27) scale(0.7)"><path d="M0 -13C5.5 -13 7.5 -6 5.5 0L1.5 11.5L0 14L-1.5 11.5L-5.5 0C-7.5 -6 -5.5 -13 0 -13Z" fill="#fff"/><path d="M-3.6 5.5L3.6 5.5L0.6 13.5L-0.6 13.5Z" fill="#111"/><path d="M-5 1.5L5 1.5M-4.4 3.6L4.4 3.6M-5.8 -3C-4 -1 -2 -1.5 -1 -3" stroke="#222" stroke-width="0.8" fill="none"/></g>
<g transform="translate(628.8 550.2) rotate(103) scale(1 -1)"><path d="M-3 -1C-2 -3.6 3 -4.2 8 -2.4C14 -0.6 22 1.3 30 1.1C36 0.9 41 0.1 45.5 -0.9L45 1.1C40 2.8 35 3.8 29 4C21 4.2 13 3.6 8 3.4C4 4.4 -1 4 -3 2Z" fill="#111"/><path d="M11 1C17 2.4 24 3.1 31 2.7C36 2.4 40 1.6 43 0.9" stroke="#fff" stroke-width="1.3" stroke-dasharray="2.6 1.4" fill="none"/><path d="M1 3L0.5 8L3 6.5L4.5 11M5 3.5L7 8.5L9 7M8.5 3.4L11 6.5" stroke="#111" stroke-width="1.5" stroke-linecap="round" fill="none"/></g>
<g transform="translate(697.9 586.3) rotate(29) scale(0.9)"><path d="M0 -13C5.5 -13 7.5 -6 5.5 0L1.5 11.5L0 14L-1.5 11.5L-5.5 0C-7.5 -6 -5.5 -13 0 -13Z" fill="#fff"/><path d="M-3.6 5.5L3.6 5.5L0.6 13.5L-0.6 13.5Z" fill="#111"/><path d="M-5 1.5L5 1.5M-4.4 3.6L4.4 3.6M-5.8 -3C-4 -1 -2 -1.5 -1 -3" stroke="#222" stroke-width="0.8" fill="none"/></g>
</g></g>
<g font-size="38" fill="#1a1615" text-anchor="middle">
<text transform="translate(534 35.7) scale(1.022 1)">recharge</text>
<text transform="translate(1169.8 35.6) scale(1.022 1)">recharge + pore pressure</text>
<text transform="translate(1805.4 35.7) scale(1.022 1)">recharge</text>
<text transform="translate(534 830.8) scale(1.022 1)">spring</text>
<text transform="translate(1169.8 830.8) scale(1.022 1)">spring</text>
<text transform="translate(1805.8 830.8) scale(1.022 1)">spring</text>
</g>
<g font-size="45.5" font-weight="bold" fill="#1a1615">
<text x="15" y="100.7">a</text>
<text x="223.5" y="100.7">b</text>
<text x="861" y="100.7">c</text>
<text x="1495" y="100.7">d</text>
<text x="300.3" y="880.2">e</text>
<text x="940.5" y="880.2">f</text>
<text x="1573" y="880.2">g</text>
</g>
<path d="M350.2 49.2 V78.4" stroke="#1a1615" stroke-width="5.6" stroke-linecap="round" fill="none"/><path d="M334 77.4 L366.4 77.4 L350.2 106.2Z" fill="#1a1615"/>
<path d="M411 49.2 V78.4" stroke="#1a1615" stroke-width="5.6" stroke-linecap="round" fill="none"/><path d="M394.8 77.4 L427.2 77.4 L411 106.2Z" fill="#1a1615"/>
<path d="M472 49.2 V78.4" stroke="#1a1615" stroke-width="5.6" stroke-linecap="round" fill="none"/><path d="M455.8 77.4 L488.2 77.4 L472 106.2Z" fill="#1a1615"/>
<path d="M532.7 49.2 V78.4" stroke="#1a1615" stroke-width="5.6" stroke-linecap="round" fill="none"/><path d="M516.5 77.4 L548.9 77.4 L532.7 106.2Z" fill="#1a1615"/>
<path d="M594 49.2 V78.4" stroke="#1a1615" stroke-width="5.6" stroke-linecap="round" fill="none"/><path d="M577.8 77.4 L610.2 77.4 L594 106.2Z" fill="#1a1615"/>
<path d="M655 49.2 V78.4" stroke="#1a1615" stroke-width="5.6" stroke-linecap="round" fill="none"/><path d="M638.8 77.4 L671.2 77.4 L655 106.2Z" fill="#1a1615"/>
<path d="M715.7 49.2 V78.4" stroke="#1a1615" stroke-width="5.6" stroke-linecap="round" fill="none"/><path d="M699.5 77.4 L731.9 77.4 L715.7 106.2Z" fill="#1a1615"/>
<path d="M986.2 49.2 V78.4" stroke="#1a1615" stroke-width="5.6" stroke-linecap="round" fill="none"/><path d="M970 77.4 L1002.4 77.4 L986.2 106.2Z" fill="#1a1615"/>
<path d="M1046.9 49.2 V78.4" stroke="#1a1615" stroke-width="5.6" stroke-linecap="round" fill="none"/><path d="M1030.7 77.4 L1063.1 77.4 L1046.9 106.2Z" fill="#1a1615"/>
<path d="M1107.7 49.2 V78.4" stroke="#1a1615" stroke-width="5.6" stroke-linecap="round" fill="none"/><path d="M1091.5 77.4 L1123.9 77.4 L1107.7 106.2Z" fill="#1a1615"/>
<path d="M1168.7 49.2 V78.4" stroke="#1a1615" stroke-width="5.6" stroke-linecap="round" fill="none"/><path d="M1152.5 77.4 L1184.9 77.4 L1168.7 106.2Z" fill="#1a1615"/>
<path d="M1229.5 49.2 V78.4" stroke="#1a1615" stroke-width="5.6" stroke-linecap="round" fill="none"/><path d="M1213.3 77.4 L1245.7 77.4 L1229.5 106.2Z" fill="#1a1615"/>
<path d="M1290.2 49.2 V78.4" stroke="#1a1615" stroke-width="5.6" stroke-linecap="round" fill="none"/><path d="M1274 77.4 L1306.4 77.4 L1290.2 106.2Z" fill="#1a1615"/>
<path d="M1351.3 49.2 V78.4" stroke="#1a1615" stroke-width="5.6" stroke-linecap="round" fill="none"/><path d="M1335.1 77.4 L1367.5 77.4 L1351.3 106.2Z" fill="#1a1615"/>
<path d="M1621.4 49.2 V78.4" stroke="#1a1615" stroke-width="5.6" stroke-linecap="round" fill="none"/><path d="M1605.2 77.4 L1637.6 77.4 L1621.4 106.2Z" fill="#1a1615"/>
<path d="M1682.4 49.2 V78.4" stroke="#1a1615" stroke-width="5.6" stroke-linecap="round" fill="none"/><path d="M1666.2 77.4 L1698.6 77.4 L1682.4 106.2Z" fill="#1a1615"/>
<path d="M1743.2 49.2 V78.4" stroke="#1a1615" stroke-width="5.6" stroke-linecap="round" fill="none"/><path d="M1727 77.4 L1759.4 77.4 L1743.2 106.2Z" fill="#1a1615"/>
<path d="M1804.2 49.2 V78.4" stroke="#1a1615" stroke-width="5.6" stroke-linecap="round" fill="none"/><path d="M1788 77.4 L1820.4 77.4 L1804.2 106.2Z" fill="#1a1615"/>
<path d="M1865.3 49.2 V78.4" stroke="#1a1615" stroke-width="5.6" stroke-linecap="round" fill="none"/><path d="M1849.1 77.4 L1881.5 77.4 L1865.3 106.2Z" fill="#1a1615"/>
<path d="M1926 49.2 V78.4" stroke="#1a1615" stroke-width="5.6" stroke-linecap="round" fill="none"/><path d="M1909.8 77.4 L1942.2 77.4 L1926 106.2Z" fill="#1a1615"/>
<path d="M1987.1 49.2 V78.4" stroke="#1a1615" stroke-width="5.6" stroke-linecap="round" fill="none"/><path d="M1970.9 77.4 L2003.3 77.4 L1987.1 106.2Z" fill="#1a1615"/>
<path d="M514.1 741.8 V770.6" stroke="#1a1615" stroke-width="5.6" stroke-linecap="round" fill="none"/><path d="M498.3 769.6 L529.9 769.6 L514.1 797.6Z" fill="#1a1615"/>
<path d="M552.3 741.8 V770.6" stroke="#1a1615" stroke-width="5.6" stroke-linecap="round" fill="none"/><path d="M536.5 769.6 L568.1 769.6 L552.3 797.6Z" fill="#1a1615"/>
<path d="M1110.8 741.8 V770.6" stroke="#1a1615" stroke-width="5.6" stroke-linecap="round" fill="none"/><path d="M1095 769.6 L1126.6 769.6 L1110.8 797.6Z" fill="#1a1615"/>
<path d="M1149.3 741.8 V770.6" stroke="#1a1615" stroke-width="5.6" stroke-linecap="round" fill="none"/><path d="M1133.5 769.6 L1165.1 769.6 L1149.3 797.6Z" fill="#1a1615"/>
<path d="M1187.8 741.8 V770.6" stroke="#1a1615" stroke-width="5.6" stroke-linecap="round" fill="none"/><path d="M1172 769.6 L1203.6 769.6 L1187.8 797.6Z" fill="#1a1615"/>
<path d="M1226.3 741.8 V770.6" stroke="#1a1615" stroke-width="5.6" stroke-linecap="round" fill="none"/><path d="M1210.5 769.6 L1242.1 769.6 L1226.3 797.6Z" fill="#1a1615"/>
<path d="M1746.6 741.8 V770.6" stroke="#1a1615" stroke-width="5.6" stroke-linecap="round" fill="none"/><path d="M1730.8 769.6 L1762.4 769.6 L1746.6 797.6Z" fill="#1a1615"/>
<path d="M1785.1 741.8 V770.6" stroke="#1a1615" stroke-width="5.6" stroke-linecap="round" fill="none"/><path d="M1769.3 769.6 L1800.9 769.6 L1785.1 797.6Z" fill="#1a1615"/>
<path d="M1823.6 741.8 V770.6" stroke="#1a1615" stroke-width="5.6" stroke-linecap="round" fill="none"/><path d="M1807.8 769.6 L1839.4 769.6 L1823.6 797.6Z" fill="#1a1615"/>
<path d="M1862.1 741.8 V770.6" stroke="#1a1615" stroke-width="5.6" stroke-linecap="round" fill="none"/><path d="M1846.3 769.6 L1877.9 769.6 L1862.1 797.6Z" fill="#1a1615"/>
<g stroke="#1a1615" stroke-width="2" fill="none">
<path d="M301.8 896 V1138.5 H773.5"/>
<path d="M292.8 1138.5H301.8M292.8 1108.3H301.8M292.8 1078.1H301.8M292.8 1047.9H301.8M292.8 1017.8H301.8M292.8 987.6H301.8M292.8 957.4H301.8M292.8 927.2H301.8M292.8 897H301.8M301.8 1138.5V1147M419.5 1138.5V1147M537.2 1138.5V1147M654.8 1138.5V1147M772.5 1138.5V1147"/>
</g>
<g font-size="27.5" fill="#1a1615" text-anchor="end">
<text x="286.6" y="1148.2">0</text>
<text x="286.6" y="1118">1</text>
<text x="286.6" y="1087.8">2</text>
<text x="286.6" y="1057.6">3</text>
<text x="286.6" y="1027.5">4</text>
<text x="286.6" y="997.3">5</text>
<text x="286.6" y="967.1">6</text>
<text x="286.6" y="936.9">7</text>
<text x="286.6" y="906.7">8</text>
</g>
<g font-size="29.6" fill="#1a1615" text-anchor="middle">
<text transform="translate(360.9 1172.8) scale(1.055 1)">March</text>
<text transform="translate(478.6 1172.8) scale(1.055 1)">April</text>
<text transform="translate(596.3 1172.8) scale(1.055 1)">May</text>
<text transform="translate(714 1172.8) scale(1.055 1)">June</text>
</g>
<g transform="translate(251.4 1123.3) rotate(-90)" font-size="26.8" fill="#1a1615">
<text x="0" y="0">discharge</text>
<text x="130.3" y="0">(m</text>
<text x="160.3" y="-11.6" font-size="18.5">3</text>
<text x="175.3" y="0">s</text>
<text x="187.8" y="-11.6" font-size="18.5">-1</text>
<text x="204.2" y="0">)</text>
</g>
<path d="M301.7 975.2C306.7 975.2 363.5 974.8 368.7 975.2C373.9 975.5 371.7 979.2 372.2 979.9C372.8 980.5 375.4 984 376 984C376.6 984 379.4 980.5 379.9 979.9C380.4 979.2 375.9 975.5 382.8 975.2C389.7 974.8 467 975.5 473.9 975.2C480.8 974.8 476.4 971.2 476.8 970.5C477.2 969.8 478.3 966.4 479.7 966C481.2 965.7 495.3 965.7 496.8 966C498.2 966.4 499.3 969.8 499.7 970.5C500.1 971.2 500.4 974.8 502.6 975.2C504.8 975.5 527.7 975.2 529.7 975.2C531.7 975.2 529.5 975.2 530 975.2C530.5 975.2 535.2 975.6 535.9 975.2C536.5 974.8 538.4 970 538.8 969.3C539.2 968.7 540.8 966.6 541.7 966.4C542.7 966.2 550.2 966.1 551.1 966.4C552.1 966.7 553.6 969.8 554.1 970.5C554.6 971.2 557.6 976.4 558.2 976.4C558.8 976.4 561.2 971.2 561.7 970.5C562.2 969.8 563.4 966.7 564.7 966.4C565.9 966.1 577.5 966 578.8 966.4C580 966.8 581.3 971 581.7 971.7C582.1 972.3 581.5 974.9 584.6 975.2C587.8 975.4 621.4 975.5 624.6 975.2C627.7 974.8 627.1 971.1 627.5 970.5C627.9 969.8 628.4 966.6 630.4 966.4C632.5 966.1 653.6 967.3 655.7 967C657.8 966.7 658.2 962.9 658.6 962.3C659.1 961.6 659.5 958.5 661.6 958.2C663.6 957.9 684.8 957.8 686.8 958.2C688.9 958.5 689.3 962.8 689.8 963.4C690.2 964.1 690.9 967.3 692.7 967.6C694.5 967.8 712.1 967.6 713.9 967.2C715.6 966.8 716.4 962.9 716.8 962.3C717.2 961.6 717.9 958.6 719.7 958.4C721.5 958.1 739.9 958.7 741.5 958.7" fill="none" stroke="#595da3" stroke-width="4.6" stroke-linecap="round" stroke-linejoin="round"/>
<path d="M301.2 975.2C301.4 975.2 304.2 976.3 304.7 975.2C305.2 974.1 307.2 961.2 307.6 959.9C308.1 958.6 310.1 957.3 310.6 957.3C311 957.3 313 959.2 313.5 959.9C314 960.6 315.5 966.7 317.6 967.2C319.7 967.7 339.8 966.8 341.7 967C343.6 967.1 343.6 968.7 344 969.3C344.5 969.9 346.4 974.8 347.6 975.2C348.8 975.6 359.3 975.6 360.5 975.2C361.7 974.8 363.5 970 364 969.3C364.5 968.7 366.3 966.6 367 966.4C367.6 966.2 372.2 966.2 372.8 966.4C373.4 966.6 374.8 968.7 375.2 969.3C375.6 969.9 377.7 974.6 378.1 974.6C378.5 974.6 380.5 969.8 381 969.3C381.6 968.8 385.2 968.2 385.7 967.6C386.3 966.9 387.8 961.8 388.1 961.1C388.4 960.4 386.1 958.3 390.4 958.2C394.8 958 442.5 959.2 446.8 958.7C451.1 958.3 448.8 952.8 449.2 951.7C449.5 950.6 451.1 943.6 451.5 943.5C452 943.3 455.2 950.4 455.6 949.9C456.1 949.5 457.7 938.7 458 937.6C458.3 936.5 459.5 935.2 459.8 935.2C460.1 935.3 461.7 937.9 462.1 938.8C462.5 939.6 464.6 946 465 947C465.5 947.9 468 951.5 468.6 951.7C469.2 951.9 472.7 949.8 473.3 949.9C473.8 950 475.8 952.3 476.2 952.9C476.6 953.4 478.2 957.6 478.6 957.6C478.9 957.6 480.6 953.4 480.9 952.9C481.3 952.3 479.7 950.4 483.3 950.3C486.8 950.1 526.2 950.7 529.7 950.8C533.1 950.8 526.4 950.8 530 950.8C533.6 950.8 575 951.2 578.8 950.8C582.5 950.3 581.2 945.3 581.7 944.6C582.2 943.9 584.7 941.1 585.2 941.1C585.7 941.1 587.7 943.9 588.2 944.6C588.6 945.3 590.4 950.3 591.7 950.8C592.9 951.2 604 950.3 605.2 950.5C606.4 950.8 607.1 953.5 607.5 954C607.9 954.6 610 958.2 610.5 958.2C610.9 958.1 612.9 953.4 613.4 952.9C613.9 952.3 617 952 617.5 950.8C618 949.5 619.5 936.9 619.9 935.2C620.2 933.5 621.8 927.6 622.2 927.6C622.6 927.6 624.7 933.9 625.2 935.2C625.6 936.6 627.6 944.7 628.1 945.8C628.6 947 628.2 950.4 631.6 950.8C635.1 951.1 671.7 951.1 675.1 950.8C678.4 950.4 677.1 947 677.4 946.4C677.8 945.8 679.4 942.5 679.8 942.5C680.2 942.6 682.3 946.4 682.7 947C683.1 947.6 683.9 950.8 685.1 951.1C686.2 951.4 697.4 951.5 698.6 951.1C699.8 950.7 701.1 946.5 701.5 945.8C702 945.1 703.8 942 704.5 941.7C705.1 941.4 709.7 941.4 710.3 941.7C711 942 712.8 945.1 713.3 945.8C713.7 946.5 715.6 950.8 716.8 951.1C718 951.4 728.6 950.3 729.7 950.5C730.9 950.7 732.2 953.4 732.7 954C733.1 954.7 733.7 959 736.2 959.3C738.6 959.7 763.9 958.8 766.1 958.7" fill="none" stroke="#6dc1ec" stroke-width="4.6" stroke-linecap="round" stroke-linejoin="round"/>
<g stroke="#1a1615" stroke-width="2" fill="none">
<path d="M937.2 896 V1138.5 H1408.9"/>
<path d="M928.2 1138.5H937.2M928.2 1108.3H937.2M928.2 1078.1H937.2M928.2 1047.9H937.2M928.2 1017.8H937.2M928.2 987.6H937.2M928.2 957.4H937.2M928.2 927.2H937.2M928.2 897H937.2M937.2 1138.5V1147M1054.9 1138.5V1147M1172.6 1138.5V1147M1290.2 1138.5V1147M1407.9 1138.5V1147"/>
</g>
<g font-size="27.5" fill="#1a1615" text-anchor="end">
<text x="922" y="1148.2">0</text>
<text x="922" y="1118">1</text>
<text x="922" y="1087.8">2</text>
<text x="922" y="1057.6">3</text>
<text x="922" y="1027.5">4</text>
<text x="922" y="997.3">5</text>
<text x="922" y="967.1">6</text>
<text x="922" y="936.9">7</text>
<text x="922" y="906.7">8</text>
</g>
<g font-size="29.6" fill="#1a1615" text-anchor="middle">
<text transform="translate(996.3 1172.8) scale(1.055 1)">March</text>
<text transform="translate(1114 1172.8) scale(1.055 1)">April</text>
<text transform="translate(1231.7 1172.8) scale(1.055 1)">May</text>
<text transform="translate(1349.4 1172.8) scale(1.055 1)">June</text>
</g>
<g transform="translate(886.8 1123.3) rotate(-90)" font-size="26.8" fill="#1a1615">
<text x="0" y="0">discharge</text>
<text x="130.3" y="0">(m</text>
<text x="160.3" y="-11.6" font-size="18.5">3</text>
<text x="175.3" y="0">s</text>
<text x="187.8" y="-11.6" font-size="18.5">-1</text>
<text x="204.2" y="0">)</text>
</g>
<path d="M935.9 991.4C940.6 991.4 995.6 992.1 1000.5 991.4C1005.4 990.7 1002.3 983.6 1002.6 982.2C1002.9 980.9 1004 973.7 1004.2 972.8C1004.5 971.9 1005.5 969.9 1005.8 969.9C1006 969.9 1007.3 971.9 1007.5 972.8C1007.8 973.7 1008.7 980.9 1008.9 982.2C1009.2 983.6 1006.8 990.7 1011.1 991.4C1015.3 992.1 1062.6 991.9 1066.9 991.4C1071.2 990.9 1069.4 985.2 1069.8 984.6C1070.2 984 1070.4 982.9 1072.2 982.8C1073.9 982.7 1092.2 983.7 1093.9 983.2C1095.6 982.6 1095.4 976.5 1095.6 975.2C1095.9 973.9 1097.2 966.7 1097.4 965.8C1097.6 964.9 1098.6 962.9 1098.8 962.9C1099 962.9 1100.1 964.5 1100.3 965.8C1100.6 967 1101.5 978.1 1101.8 979.9C1102 981.7 1103.5 990.2 1103.9 990.5C1104.2 990.7 1104.9 983.9 1106.2 983.4C1107.6 982.9 1120.7 984.2 1122.1 983.6C1123.5 983 1124.6 977.9 1125 975.2C1125.4 972.5 1127 950.4 1127.4 947C1127.7 943.5 1129.4 929.8 1129.7 928.2C1130 926.6 1131.5 925.3 1131.8 925.3C1132.2 925.3 1133.9 926.6 1134.2 928.2C1134.5 929.8 1135.9 944.8 1136.2 947C1136.5 949.2 1135.7 957.9 1138.2 958.7C1140.6 959.6 1167.3 958.4 1169.7 958.4C1172 958.4 1169 958.4 1170 958.4C1171 958.4 1182.3 957.7 1183.5 958.2C1184.7 958.6 1185.6 963.4 1185.9 964C1186.2 964.6 1187.3 966.4 1187.6 966.4C1187.9 966.4 1189.7 964.6 1190 964C1190.2 963.5 1188 959.1 1191.1 958.7C1194.3 958.4 1230.1 958.4 1233.4 958.7C1236.7 959.1 1235.7 963.4 1236 964C1236.4 964.7 1237.5 967.3 1238.1 967.6C1238.8 967.8 1244.5 967.9 1245.2 967.6C1245.9 967.2 1247.7 963.2 1248.1 962.3C1248.6 961.4 1250.7 956 1251.1 955.2C1251.5 954.4 1253.3 951.4 1253.6 951.5C1254 951.5 1256 955.8 1256.3 956.4C1256.7 957 1256.8 959.1 1258.7 959.3C1260.6 959.5 1280.8 959.6 1282.8 959.3C1284.8 959.1 1285.3 956.4 1285.7 955.8C1286.1 955.2 1288 951.1 1288.4 951.1C1288.8 951.1 1290.6 955.2 1291 955.8C1291.4 956.4 1289.4 959.1 1293.4 959.3C1297.3 959.6 1341 959.5 1345 959.3C1349.1 959.1 1347.6 957 1348 956.4C1348.4 955.7 1349.9 950.9 1350.3 950.5C1350.7 950.1 1349.5 951.1 1353.3 951.1C1357 951.1 1397.9 951.1 1401.4 951.1" fill="none" stroke="#595da3" stroke-width="4.2" stroke-linecap="round" stroke-linejoin="round"/>
<path d="M1088 897V1138.5" stroke="#d6101b" stroke-width="2.4"/>
<text transform="translate(1079.3 1129) rotate(-90)" font-size="24.8" font-style="italic" fill="#d6101b">earthquake</text>
<g stroke="#1a1615" stroke-width="2" fill="none">
<path d="M1573.1 896 V1138.5 H2044.8"/>
<path d="M1564.1 1138.5H1573.1M1564.1 1108.3H1573.1M1564.1 1078.1H1573.1M1564.1 1047.9H1573.1M1564.1 1017.8H1573.1M1564.1 987.6H1573.1M1564.1 957.4H1573.1M1564.1 927.2H1573.1M1564.1 897H1573.1M1573.1 1138.5V1147M1690.8 1138.5V1147M1808.5 1138.5V1147M1926.1 1138.5V1147M2043.8 1138.5V1147"/>
</g>
<g font-size="27.5" fill="#1a1615" text-anchor="end">
<text x="1557.9" y="1148.2">0</text>
<text x="1557.9" y="1118">1</text>
<text x="1557.9" y="1087.8">2</text>
<text x="1557.9" y="1057.6">3</text>
<text x="1557.9" y="1027.5">4</text>
<text x="1557.9" y="997.3">5</text>
<text x="1557.9" y="967.1">6</text>
<text x="1557.9" y="936.9">7</text>
<text x="1557.9" y="906.7">8</text>
</g>
<g font-size="29.6" fill="#1a1615" text-anchor="middle">
<text transform="translate(1632.2 1172.8) scale(1.055 1)">March</text>
<text transform="translate(1749.9 1172.8) scale(1.055 1)">April</text>
<text transform="translate(1867.6 1172.8) scale(1.055 1)">May</text>
<text transform="translate(1985.3 1172.8) scale(1.055 1)">June</text>
</g>
<g transform="translate(1522.7 1123.3) rotate(-90)" font-size="26.8" fill="#1a1615">
<text x="0" y="0">discharge</text>
<text x="130.3" y="0">(m</text>
<text x="160.3" y="-11.6" font-size="18.5">3</text>
<text x="175.3" y="0">s</text>
<text x="187.8" y="-11.6" font-size="18.5">-1</text>
<text x="204.2" y="0">)</text>
</g>
<path d="M1570.4 915.9C1578.4 915.9 1671.2 915.9 1680 915.9C1688.8 915.9 1689.6 916.2 1690.6 915.8C1691.6 915.4 1693.1 911.2 1693.5 910.5C1693.9 909.9 1695.2 907 1696.4 906.8C1697.7 906.5 1709.4 907.3 1710.5 907C1711.7 906.7 1712 903 1712.3 902.3C1712.6 901.7 1714.3 898.1 1714.7 898.2C1715 898.3 1716.7 902.3 1717 903.5C1717.4 904.7 1719 913.7 1719.4 914.1C1719.7 914.4 1721.4 908.8 1721.7 908.2C1722.1 907.6 1723.4 906.6 1724.1 906.4C1724.7 906.3 1729.9 906.7 1730.5 906.4C1731.1 906.1 1732 902.9 1732.3 902.3C1732.5 901.8 1733.7 898.8 1734 898.8C1734.3 898.8 1736 902.3 1736.4 902.9C1736.7 903.5 1738.4 906.1 1738.7 906.4C1739.1 906.7 1741.3 906.6 1741.7 907C1742.1 907.4 1743.7 911.1 1744 911.7C1744.4 912.3 1746 915.4 1746.4 915.2C1746.7 915.1 1748.3 910.6 1748.7 910C1749.1 909.3 1751.2 906.4 1751.7 906.4C1752.1 906.4 1754.2 909.3 1754.6 910C1755 910.6 1757.1 914.8 1757.5 915.2C1757.9 915.7 1759.5 916.5 1759.9 916.4C1760.2 916.3 1761.8 914.1 1762.2 913.5C1762.6 912.9 1764.8 908.7 1765.2 908.2C1765.6 907.7 1767 906.9 1767.5 906.8C1768.1 906.7 1772.3 906.4 1772.8 906.8C1773.4 907.1 1774.8 911.1 1775.2 911.7C1775.5 912.4 1776.9 916 1777.3 915.8C1777.6 915.7 1779.5 910 1779.9 909.4C1780.2 908.7 1781.9 906.8 1782.2 906.8C1782.6 906.8 1784.2 908.8 1784.6 909.4C1784.9 909.9 1786.6 913.6 1786.9 914.1C1787.2 914.5 1788.4 916.1 1788.7 915.8C1789 915.6 1790.7 911.2 1791 910.5C1791.4 909.9 1792.7 907.1 1793.4 906.8C1794 906.5 1799.2 906.5 1799.8 906.8C1800.5 907.1 1801.8 909.9 1802.2 910.5C1802.5 911.2 1803.8 915.4 1804.5 915.8C1805.2 916.2 1810.9 916.2 1811.6 915.8C1812.3 915.4 1813.6 911.2 1813.9 910.5C1814.3 909.9 1815.6 906.7 1816.3 906.4C1816.9 906.1 1822.1 906.1 1822.7 906.4C1823.4 906.7 1824.7 909.9 1825.1 910.5C1825.4 911.2 1827.1 914.8 1827.4 915.2C1827.8 915.7 1829.4 916.6 1829.8 916.4C1830.1 916.2 1831.8 913.6 1832.1 912.9C1832.4 912.2 1832.6 907.4 1833.9 907C1835.2 906.6 1848.4 907.6 1849.8 907.3C1851.1 906.9 1851.8 902.9 1852.1 902.3C1852.5 901.7 1854.1 898.8 1854.5 898.8C1854.8 898.8 1856.5 902.3 1856.8 902.9C1857.2 903.5 1858.8 906.1 1859.2 906.4C1859.5 906.7 1861.7 906.6 1862.1 907C1862.5 907.4 1864.1 911 1864.4 911.7C1864.8 912.4 1866.4 916.1 1867.4 916.4C1868.3 916.8 1876.5 916.8 1877.4 916.4C1878.3 916 1879.3 911.3 1879.7 910.5C1880.1 909.8 1881.2 906.7 1882.7 906.4C1884.1 906.2 1898.4 906.7 1899.7 906.8C1901 906.8 1898.6 907.2 1900 907.3C1901.4 907.3 1917.7 907.6 1919.3 907.3C1920.9 906.9 1921.3 903.2 1921.6 902.6C1921.9 901.9 1923.2 898.8 1923.5 898.8C1923.8 898.8 1925.5 901.9 1925.8 902.6C1926.2 903.2 1927.9 907.3 1928.2 907.3C1928.5 907.3 1929.8 903.2 1930.1 902.6C1930.4 901.9 1931.7 898.8 1932 898.8C1932.2 898.8 1933.5 901.9 1933.8 902.6C1934.1 903.2 1933.8 907.4 1936.2 907.7C1938.5 908 1963.4 906.7 1965.8 906.8C1968.1 906.9 1967.8 908.5 1968.1 909.1C1968.4 909.7 1969.7 914.3 1970 914.8C1970.3 915.3 1969.2 916.1 1971.9 916.2C1974.6 916.2 2004.4 915.1 2007.1 915.2C2009.9 915.4 2009.2 917.9 2009.5 918.5C2009.8 919.2 2011.1 923.6 2011.4 924.2C2011.6 924.8 2013 926.7 2013.3 926.5C2013.5 926.4 2014.9 923.1 2015.1 922.3C2015.4 921.5 2016.7 916.8 2017 916.2C2017.3 915.6 2018.6 914.2 2018.9 914.3C2019.2 914.4 2020.9 916.8 2021.2 917.6C2021.6 918.4 2023.6 924.3 2024.1 925.1C2024.5 925.9 2026.5 928.4 2026.9 928.4C2027.3 928.4 2029.4 925.9 2029.7 925.1C2030 924.3 2031.3 918.4 2031.6 917.6C2031.9 916.8 2033 914.9 2033.5 914.8C2033.9 914.6 2036.9 915.6 2037.2 915.7" fill="none" stroke="#595da3" stroke-width="4.2" stroke-linecap="round" stroke-linejoin="round"/>
<path d="M260.3 1252.2H287.1" stroke="#6dc1ec" stroke-width="5.6" stroke-linecap="round"/>
<text transform="translate(301.5 1260.8) scale(1.018 1)" font-size="27.6" fill="#1a1615"><tspan font-size="31.5" font-weight="bold">1997</tspan> : mean annual discharge (±SD):</text>
<g font-size="27.6" fill="#1a1615">
<text x="418.5" y="1292.8">5.68 ± 0.21 m</text>
<text x="589.8" y="1278.8" font-size="17.7">3</text>
<text x="601.5" y="1292.8">s</text>
<text x="614.5" y="1278.8" font-size="17.7">-1</text>
</g>
<path d="M260.3 1325.8H287.1" stroke="#595da3" stroke-width="5.6" stroke-linecap="round"/>
<text transform="translate(301.5 1334.4) scale(1.018 1)" font-size="27.6" fill="#1a1615"><tspan font-size="31.5" font-weight="bold">2005</tspan> : mean annual discharge (±SD):</text>
<g font-size="27.6" fill="#1a1615">
<text x="418.5" y="1366.4">6.02 ± 0.26 m</text>
<text x="589.8" y="1352.4" font-size="17.7">3</text>
<text x="601.5" y="1366.4">s</text>
<text x="614.5" y="1352.4" font-size="17.7">-1</text>
</g>
<text transform="translate(936.3 1260.8) scale(1.018 1)" font-size="27.6" fill="#1a1615"><tspan font-size="31.5" font-weight="bold">2009</tspan> : mean annual discharge (±SD):</text>
<g font-size="27.6" fill="#1a1615">
<text x="1053.3" y="1292.8">5.85 ± 0.72 m</text>
<text x="1224.6" y="1278.8" font-size="17.7">3</text>
<text x="1236.3" y="1292.8">s</text>
<text x="1249.3" y="1278.8" font-size="17.7">-1</text>
</g>
<text transform="translate(1572.3 1260.8) scale(1.018 1)" font-size="27.6" fill="#1a1615"><tspan font-size="31.5" font-weight="bold">2012</tspan> : mean annual discharge (±SD):</text>
<g font-size="27.6" fill="#1a1615">
<text x="1689.3" y="1292.8">7.14 ± 0.41 m</text>
<text x="1860.6" y="1278.8" font-size="17.7">3</text>
<text x="1872.3" y="1292.8">s</text>
<text x="1885.3" y="1278.8" font-size="17.7">-1</text>
</g>
</svg>
</body></html>
